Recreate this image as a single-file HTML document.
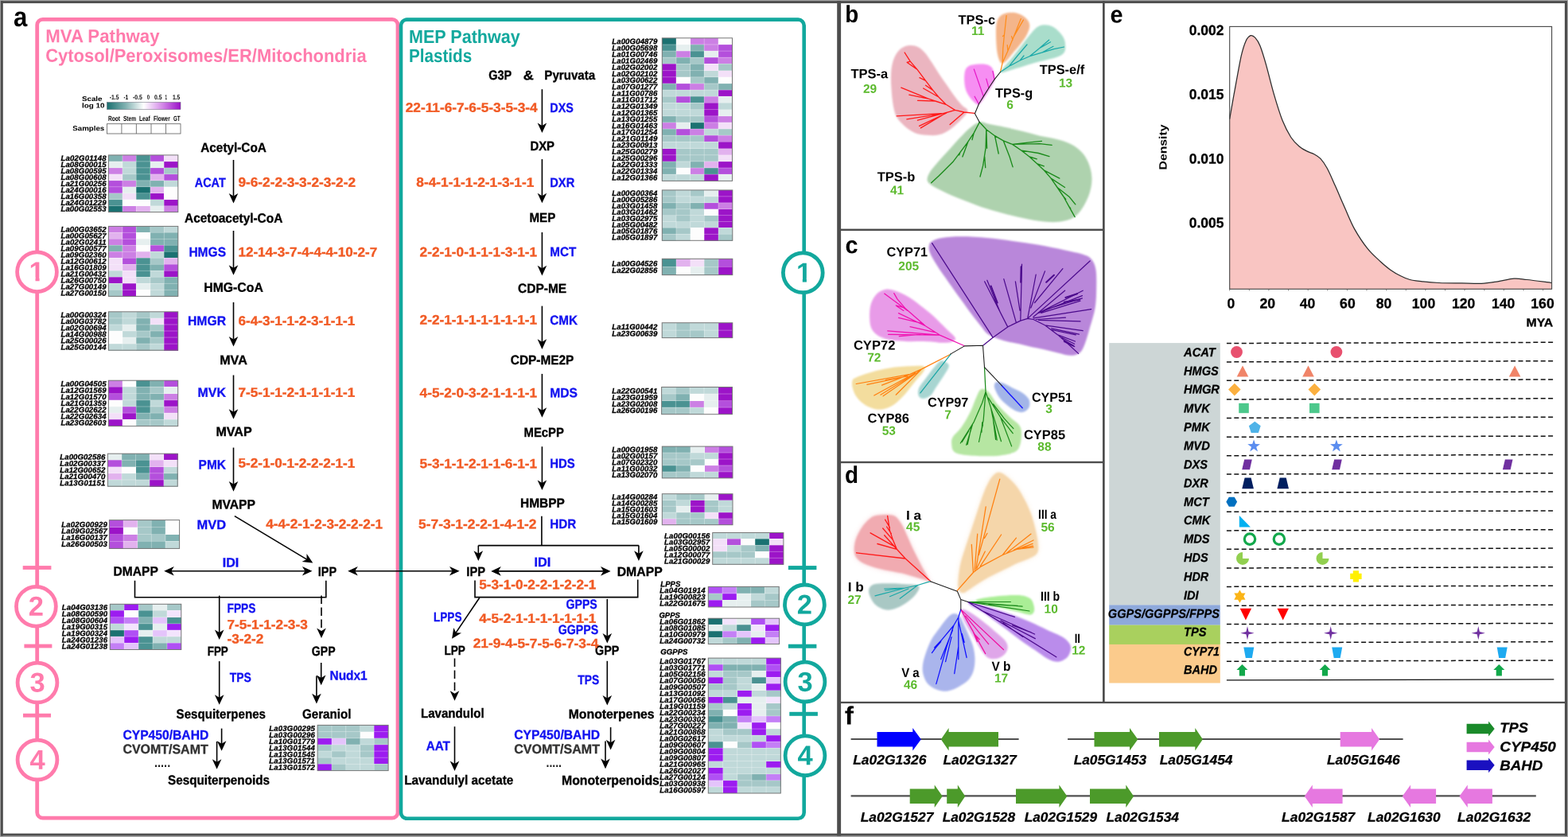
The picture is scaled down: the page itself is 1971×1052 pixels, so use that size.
<!DOCTYPE html>
<html lang="en"><head><meta charset="utf-8"><title>Figure</title>
<style>html,body{margin:0;padding:0;background:#fff}body{width:1971px;height:1052px;overflow:hidden}svg{display:block;font-family:"Liberation Sans",Arial,sans-serif;font-weight:bold}text{white-space:pre}</style></head><body>
<svg width="1971" height="1052" viewBox="0 0 1971 1052">
<rect width="1971" height="1052" fill="#fff"/>
<defs><filter id="bl" x="-10%" y="-10%" width="120%" height="120%"><feGaussianBlur stdDeviation="1.1"/></filter><filter id="bl3" x="-15%" y="-15%" width="130%" height="130%"><feGaussianBlur stdDeviation="3"/></filter></defs>
<text transform="translate(1062.2 28.0) rotate(0.03)" font-size="30" textLength="17.0" lengthAdjust="spacingAndGlyphs">b</text>
<path d="M1144.2 57.1C1147.5 57.0 1151.1 57.7 1154.2 59.2C1157.3 60.8 1159.9 63.2 1162.8 66.4C1165.6 69.6 1168.2 73.9 1171.3 78.5C1174.4 83.1 1178.0 89.2 1181.3 94.2C1184.6 99.2 1188.0 103.7 1191.3 108.4C1194.6 113.2 1198.2 118.7 1201.3 122.7C1204.3 126.7 1207.3 130.1 1209.8 132.7C1212.3 135.3 1215.8 136.2 1216.2 138.4C1216.7 140.5 1215.2 142.4 1212.7 145.5C1210.2 148.6 1205.1 153.6 1201.3 156.9C1197.5 160.3 1193.7 163.3 1189.9 165.5C1186.0 167.6 1182.7 169.0 1178.4 169.8C1174.2 170.5 1168.9 170.2 1164.2 169.8C1159.4 169.3 1154.4 168.8 1149.9 166.9C1145.4 165.0 1140.9 161.7 1137.1 158.4C1133.3 155.0 1129.5 151.2 1127.1 146.9C1124.7 142.7 1123.9 138.2 1122.8 132.7C1121.8 127.2 1121.2 120.6 1120.7 114.1C1120.2 107.7 1119.7 100.1 1120.0 94.2C1120.2 88.2 1120.9 83.0 1122.1 78.5C1123.3 74.0 1125.1 70.2 1127.1 67.1C1129.1 64.0 1131.4 61.6 1134.2 60.0C1137.1 58.3 1140.9 57.2 1144.2 57.1Z" fill="#EBB5C0" filter="url(#bl)"/>
<path d="M1263.9 16.7C1267.2 15.8 1272.2 15.3 1276.0 16.0C1279.8 16.6 1283.9 18.6 1286.7 20.5C1289.5 22.4 1291.9 25.0 1293.1 27.4C1294.3 29.8 1294.6 31.9 1294.0 35.0C1293.4 38.0 1291.7 42.1 1289.7 45.6C1287.8 49.2 1284.9 52.7 1282.1 56.3C1279.3 59.8 1275.8 63.6 1273.0 66.9C1270.2 70.2 1267.6 73.9 1265.4 76.0C1263.2 78.2 1261.6 79.8 1260.1 79.8C1258.6 79.8 1257.4 78.7 1256.3 76.0C1255.1 73.4 1253.9 68.9 1253.2 63.9C1252.5 58.8 1252.1 51.2 1252.0 45.6C1251.9 40.1 1251.8 34.5 1252.5 30.4C1253.2 26.4 1254.4 23.6 1256.3 21.3C1258.2 19.0 1260.6 17.6 1263.9 16.7Z" fill="#F4B58A" filter="url(#bl)"/>
<path d="M1312.5 31.2C1315.8 31.1 1319.9 31.8 1323.2 33.5C1326.5 35.1 1329.8 38.3 1332.3 41.1C1334.8 43.9 1337.0 46.9 1338.1 50.2C1339.2 53.5 1339.4 58.0 1339.2 60.8C1339.0 63.6 1338.5 65.1 1336.9 66.9C1335.2 68.7 1332.8 70.1 1329.3 71.5C1325.7 72.9 1320.4 74.0 1315.6 75.3C1310.8 76.6 1305.4 77.7 1300.4 79.1C1295.3 80.5 1290.2 82.1 1285.2 83.7C1280.1 85.2 1274.3 86.9 1270.0 88.2C1265.7 89.5 1261.3 91.0 1259.3 91.3C1257.3 91.5 1257.0 91.3 1257.8 89.7C1258.6 88.2 1261.3 85.2 1263.9 82.1C1266.4 79.1 1269.7 75.5 1273.0 71.5C1276.3 67.4 1280.1 62.4 1283.7 57.8C1287.2 53.2 1291.0 48.0 1294.3 44.1C1297.6 40.2 1300.4 36.4 1303.4 34.2C1306.5 32.1 1309.3 31.3 1312.5 31.2Z" fill="#A9DDCB" filter="url(#bl)"/>
<path d="M1222.8 81.4C1226.1 80.9 1232.7 80.2 1236.5 80.6C1240.3 81.0 1243.5 81.9 1245.6 83.7C1247.8 85.4 1248.7 88.5 1249.4 91.3C1250.2 94.0 1250.8 97.3 1250.2 100.4C1249.6 103.4 1247.7 106.0 1245.6 109.5C1243.6 113.1 1240.4 118.1 1238.0 121.7C1235.6 125.2 1233.0 129.3 1231.2 130.8C1229.4 132.3 1229.3 132.1 1227.4 130.8C1225.5 129.5 1221.9 126.0 1219.8 123.2C1217.6 120.4 1215.7 117.6 1214.4 114.1C1213.2 110.5 1212.4 106.0 1212.2 101.9C1211.9 97.8 1212.2 92.8 1212.9 89.7C1213.7 86.7 1215.1 85.0 1216.7 83.7C1218.4 82.3 1219.5 81.9 1222.8 81.4Z" fill="#F68EF2" filter="url(#bl)"/>
<path d="M1231.3 153.5C1235.3 152.6 1237.2 154.6 1242.7 155.7C1248.2 156.8 1257.0 158.4 1264.1 160.0C1271.2 161.5 1278.3 163.2 1285.5 165.0C1292.6 166.7 1299.7 169.0 1306.9 170.7C1314.0 172.3 1321.6 173.2 1328.3 174.9C1334.9 176.7 1341.3 178.4 1346.8 181.4C1352.3 184.3 1357.2 188.2 1361.1 192.8C1364.9 197.3 1367.7 203.0 1369.6 208.4C1371.5 213.9 1372.5 219.9 1372.5 225.6C1372.5 231.3 1371.3 237.2 1369.6 242.7C1367.9 248.1 1365.3 253.6 1362.5 258.4C1359.6 263.1 1356.5 268.0 1352.5 271.2C1348.5 274.4 1343.9 276.3 1338.2 277.6C1332.5 278.9 1325.9 279.4 1318.3 279.0C1310.7 278.7 1301.2 277.0 1292.6 275.5C1284.0 273.9 1275.5 271.9 1266.9 269.8C1258.4 267.6 1250.1 265.5 1241.3 262.6C1232.5 259.8 1222.7 256.0 1214.2 252.7C1205.6 249.3 1196.8 245.8 1189.9 242.7C1183.0 239.6 1176.9 236.7 1172.8 234.1C1168.8 231.5 1166.4 229.8 1165.7 227.0C1165.0 224.1 1166.4 220.8 1168.5 217.0C1170.7 213.2 1174.5 208.9 1178.5 204.2C1182.6 199.4 1188.0 193.7 1192.8 188.5C1197.5 183.3 1202.8 177.3 1207.0 172.8C1211.3 168.3 1214.4 164.6 1218.4 161.4C1222.5 158.2 1227.2 154.5 1231.3 153.5Z" fill="#AED2AE" filter="url(#bl)"/>
<path d="M1225.2 142.4L1212.0 141.0L1200.5 138.4L1189.1 131.3L1179.9 122.0L1172.7 113.4L1163.5 101.3L1152.8 87.1L1144.2 77.1L1137.1 66.0M1144.2 77.1L1140.2 78.5L1152.8 87.1M1163.5 101.3L1155.9 97.7M1172.7 113.4L1163.5 107.3M1179.9 122.0L1160.6 111.0M1189.1 131.3L1175.6 127.0L1153.5 126.3M1189.1 131.3L1167.0 124.1L1142.8 119.1M1167.0 124.1L1132.8 110.2M1200.5 138.4L1187.0 142.4L1127.1 145.8M1187.0 142.4L1139.9 149.8M1195.6 139.8L1153.5 151.2M1189.9 142.0L1155.6 158.4M1184.1 144.8L1157.3 160.9M1212.0 141.0L1194.1 156.6" fill="none" stroke="#FF1A1A" stroke-width="1.344" stroke-linejoin="round" stroke-linecap="round"/>
<path d="M1236.2 120.9L1224.3 87.0M1242.9 110.3L1239.8 99.2M1249.9 99.6L1247.9 89.4M1230.4 130.8L1225.1 121.2" fill="none" stroke="#E619C8" stroke-width="1.2320000000000002" stroke-linejoin="round" stroke-linecap="round"/>
<path d="M1257.5 90.5L1260.1 79.1L1260.8 60.8L1262.4 44.1L1265.1 19.5M1260.1 79.1L1266.9 63.9L1274.5 45.6L1283.3 23.6M1274.5 45.6L1286.4 25.1M1262.4 44.1L1260.5 45.6M1266.9 63.9L1266.2 56.6M1273.0 50.2L1271.5 45.6" fill="none" stroke="#FF8C1A" stroke-width="1.2320000000000002" stroke-linejoin="round" stroke-linecap="round"/>
<path d="M1257.5 90.5L1268.4 83.3L1282.1 76.0L1294.3 70.7L1309.5 66.2L1324.7 61.6L1337.6 59.0M1268.4 83.3L1279.1 70.0L1291.0 56.0M1282.1 76.0L1287.0 70.0M1294.3 70.7L1306.5 60.8L1318.6 50.2M1306.5 60.8L1320.6 52.8M1309.5 66.2L1324.0 58.3" fill="none" stroke="#1AA8A8" stroke-width="1.2320000000000002" stroke-linejoin="round" stroke-linecap="round"/>
<path d="M1231.3 153.5L1224.2 167.1L1215.6 179.9L1207.0 191.3L1198.5 202.7L1188.5 212.7L1179.9 221.3L1170.7 229.8M1224.2 167.1L1222.0 175.7M1217.0 177.8L1209.9 197.0M1207.0 191.3L1205.6 194.9M1198.5 202.7L1197.3 204.2M1231.3 153.5L1239.8 162.8L1250.5 170.7L1261.2 176.8L1272.6 181.4L1284.0 189.2L1294.0 197.0L1303.3 205.6L1312.6 214.2L1321.1 224.1L1329.0 235.5L1336.8 247.0L1343.9 259.8L1351.1 272.6M1239.8 162.8L1239.1 185.6L1235.6 208.4L1232.0 222.0M1239.8 162.8L1240.6 186.3M1237.7 197.0L1238.7 210.6M1250.5 170.7L1255.2 193.0M1261.2 176.8L1269.1 197.0L1273.1 209.9M1272.6 181.4L1292.6 179.2L1309.4 177.4M1272.6 181.4L1306.9 180.6L1322.1 182.4M1284.0 189.2L1305.4 192.5L1319.0 196.6M1294.0 197.0L1303.3 199.9M1303.3 205.6L1312.3 208.9M1312.6 214.2L1331.8 224.1M1321.1 224.1L1338.5 235.5M1329.0 235.5L1343.9 247.2L1351.8 256.9M1336.8 247.0L1339.7 250.5M1343.9 259.8L1345.7 261.9" fill="none" stroke="#1A8A1A" stroke-width="1.344" stroke-linejoin="round" stroke-linecap="round"/>
<path d="M1231.2 153.6L1225.4 142.7L1230.4 130.8L1236.5 120.9L1244.1 108.7L1250.2 99.6L1257.5 90.5" fill="none" stroke="#1c1c1c" stroke-width="1.064" stroke-linejoin="round" stroke-linecap="round"/>
<text transform="translate(1204.6 30.4) rotate(0.03)" font-size="16.5" textLength="46.5" lengthAdjust="spacingAndGlyphs">TPS-c</text>
<text transform="translate(1229.1 44.0) rotate(0.03)" font-size="15.5" fill="#5CBA2E" text-anchor="middle">11</text>
<text transform="translate(1069.4 98.2) rotate(0.03)" font-size="16.5" textLength="46.8" lengthAdjust="spacingAndGlyphs">TPS-a</text>
<text transform="translate(1093.6 116.8) rotate(0.03)" font-size="15.5" fill="#5CBA2E" text-anchor="middle">29</text>
<text transform="translate(1306.7 93.1) rotate(0.03)" font-size="16.5" textLength="56.5" lengthAdjust="spacingAndGlyphs">TPS-e/f</text>
<text transform="translate(1339.5 109.4) rotate(0.03)" font-size="15.5" fill="#5CBA2E" text-anchor="middle">13</text>
<text transform="translate(1251.1 122.4) rotate(0.03)" font-size="16.5" textLength="47.0" lengthAdjust="spacingAndGlyphs">TPS-g</text>
<text transform="translate(1269.6 136.7) rotate(0.03)" font-size="15.5" fill="#5CBA2E" text-anchor="middle">6</text>
<text transform="translate(1102.8 227.7) rotate(0.03)" font-size="16.5" textLength="47.6" lengthAdjust="spacingAndGlyphs">TPS-b</text>
<text transform="translate(1127.6 244.3) rotate(0.03)" font-size="15.5" fill="#5CBA2E" text-anchor="middle">41</text>
<text transform="translate(1062.4 318.3) rotate(0.03)" font-size="30" textLength="16.0" lengthAdjust="spacingAndGlyphs">c</text>
<path d="M1172.1 302.9C1174.8 301.4 1178.2 299.8 1184.2 298.9C1190.3 297.9 1199.1 297.3 1208.5 297.3C1217.9 297.3 1230.0 297.9 1240.8 298.9C1251.6 299.8 1262.4 301.4 1273.1 302.9C1283.9 304.4 1294.7 305.9 1305.5 307.8C1316.2 309.7 1328.4 312.2 1337.8 314.2C1347.2 316.3 1356.4 318.0 1362.0 319.9C1367.7 321.8 1369.2 322.5 1371.7 325.6C1374.3 328.7 1376.3 332.3 1377.4 338.5C1378.5 344.7 1378.3 354.7 1378.2 362.7C1378.1 370.8 1377.9 378.9 1376.6 387.0C1375.2 395.1 1372.3 403.7 1370.1 411.2C1368.0 418.8 1365.8 426.8 1363.7 432.2C1361.5 437.6 1360.2 441.1 1357.2 443.5C1354.2 446.0 1350.5 446.8 1345.9 446.8C1341.3 446.8 1335.1 444.8 1329.7 443.5C1324.3 442.3 1318.9 440.7 1313.5 439.5C1308.2 438.3 1302.8 437.5 1297.4 436.3C1292.0 435.1 1286.6 433.4 1281.2 432.2C1275.8 431.0 1270.2 430.3 1265.1 429.0C1259.9 427.7 1254.6 425.8 1250.5 424.2C1246.5 422.5 1243.8 421.7 1240.8 419.3C1237.9 416.9 1236.0 413.6 1232.7 409.6C1229.5 405.6 1225.5 400.4 1221.4 395.1C1217.4 389.7 1213.3 384.0 1208.5 377.3C1203.6 370.5 1197.4 361.9 1192.3 354.7C1187.2 347.4 1181.7 339.8 1177.8 333.6C1173.9 327.4 1170.5 321.8 1168.9 317.5C1167.3 313.2 1167.5 310.2 1168.1 307.8C1168.6 305.4 1169.4 304.4 1172.1 302.9Z" fill="#B987DA" filter="url(#bl)"/>
<path d="M1113.3 363.7C1117.1 363.1 1120.1 363.9 1124.6 365.3C1129.2 366.8 1135.4 369.5 1140.8 372.6C1146.2 375.7 1151.6 379.9 1156.9 383.9C1162.3 388.0 1167.7 392.0 1173.1 396.9C1178.5 401.7 1184.7 408.4 1189.3 413.0C1193.8 417.6 1199.2 421.6 1200.6 424.3C1201.9 427.0 1199.8 428.1 1197.3 429.2C1194.9 430.2 1191.4 430.8 1186.0 430.8C1180.6 430.8 1172.6 429.4 1165.0 429.2C1157.5 428.9 1148.1 429.4 1140.8 429.2C1133.5 428.9 1127.3 428.6 1121.4 427.6C1115.5 426.5 1109.6 425.1 1105.2 422.7C1100.9 420.3 1097.6 417.1 1095.5 413.0C1093.5 409.0 1093.3 403.6 1093.1 398.5C1093.0 393.4 1093.3 387.2 1094.7 382.3C1096.2 377.5 1098.9 372.5 1102.0 369.4C1105.1 366.3 1109.6 364.4 1113.3 363.7Z" fill="#E89BE8" filter="url(#bl)"/>
<path d="M1076.2 474.4C1081.0 472.3 1092.3 468.5 1100.4 466.3C1108.5 464.2 1116.6 462.6 1124.6 461.5C1132.7 460.4 1142.7 460.0 1148.9 459.9C1155.1 459.7 1159.9 459.3 1161.8 460.7C1163.7 462.0 1162.1 464.9 1160.2 468.0C1158.3 471.0 1154.3 474.7 1150.5 479.3C1146.7 483.8 1142.4 490.3 1137.6 495.4C1132.7 500.5 1126.8 506.7 1121.4 510.0C1116.0 513.2 1110.6 514.8 1105.2 514.8C1099.9 514.8 1093.7 512.4 1089.1 510.0C1084.5 507.5 1080.6 503.8 1077.8 500.3C1074.9 496.8 1073.2 492.5 1072.1 489.0C1071.0 485.5 1070.6 481.7 1071.3 479.3C1072.0 476.8 1071.3 476.6 1076.2 474.4Z" fill="#F3DD9E" filter="url(#bl)"/>
<path d="M1182.8 453.4C1185.8 452.3 1189.3 455.3 1190.9 456.6C1192.5 458.0 1193.3 458.8 1192.5 461.5C1191.7 464.2 1188.7 468.5 1186.0 472.8C1183.3 477.1 1179.0 483.3 1176.3 487.3C1173.6 491.4 1172.6 494.7 1169.9 497.0C1167.2 499.3 1162.7 501.1 1160.2 501.1C1157.6 501.1 1155.3 499.3 1154.5 497.0C1153.7 494.7 1153.8 490.8 1155.3 487.3C1156.8 483.8 1160.4 480.1 1163.4 476.0C1166.4 472.0 1169.9 466.9 1173.1 463.1C1176.3 459.3 1179.8 454.5 1182.8 453.4Z" fill="#A8D5D1" filter="url(#bl)"/>
<path d="M1253.2 480.0C1255.0 479.8 1257.5 480.3 1260.9 481.6C1264.2 482.9 1269.1 485.7 1273.2 487.7C1277.3 489.8 1282.2 491.6 1285.5 493.9C1288.8 496.2 1291.8 498.8 1293.2 501.6C1294.6 504.4 1294.7 508.3 1294.0 510.8C1293.2 513.4 1290.7 515.8 1288.6 517.0C1286.4 518.2 1283.9 518.5 1280.9 517.8C1277.8 517.0 1273.9 515.1 1270.1 512.4C1266.2 509.7 1261.0 505.5 1257.8 501.6C1254.6 497.8 1252.1 492.4 1250.8 489.3C1249.6 486.2 1249.7 484.7 1250.1 483.1C1250.5 481.6 1251.4 480.3 1253.2 480.0Z" fill="#A3B5E8" filter="url(#bl)"/>
<path d="M1233.1 489.3C1235.7 488.0 1238.8 489.0 1242.4 492.4C1246.0 495.7 1250.1 503.9 1254.7 509.3C1259.3 514.7 1265.7 520.6 1270.1 524.7C1274.5 528.8 1278.6 530.9 1280.9 533.9C1283.2 537.0 1283.7 539.1 1283.9 543.2C1284.2 547.3 1283.7 554.5 1282.4 558.6C1281.1 562.7 1280.4 565.5 1276.3 567.8C1272.1 570.1 1264.7 571.5 1257.8 572.4C1250.8 573.3 1242.4 573.3 1234.7 573.2C1227.0 573.1 1217.5 572.6 1211.6 571.7C1205.7 570.8 1201.8 570.0 1199.3 567.8C1196.7 565.6 1196.4 561.6 1196.2 558.6C1195.9 555.5 1195.7 552.9 1197.7 549.3C1199.8 545.7 1204.9 542.1 1208.5 537.0C1212.1 531.9 1216.2 524.7 1219.3 518.5C1222.4 512.4 1224.7 504.9 1227.0 500.1C1229.3 495.2 1230.6 490.6 1233.1 489.3Z" fill="#B6E6A2" filter="url(#bl)"/>
<path d="M1236.0 433.9L1248.1 424.2L1266.7 410.9L1282.8 403.1L1291.7 400.4L1299.0 401.5L1313.5 408.8L1329.7 420.9L1342.6 432.2L1355.6 444.4M1248.1 424.2L1171.6 305.7M1266.7 410.9L1237.6 353.8M1257.0 391.8L1240.8 352.2M1277.2 404.8L1261.8 350.6M1282.8 403.1L1284.5 332.0M1282.0 390.2L1276.4 353.8M1291.7 400.4L1302.2 345.0M1295.8 387.0L1313.5 340.9M1300.6 380.5L1335.9 337.7M1291.7 400.4L1370.1 328.0M1299.0 398.3L1338.6 365.2M1305.5 393.4L1361.2 365.2M1305.5 393.4L1360.4 371.6M1308.7 393.4L1358.0 378.1M1299.0 399.9L1371.7 388.6M1302.2 401.5L1339.4 399.1M1305.5 402.3L1358.0 403.9M1313.5 408.8L1361.2 415.7M1321.6 412.8L1356.4 420.1M1329.7 420.9L1351.5 429.0M1337.8 427.4L1350.7 435.5M1321.6 387.0L1360.4 374.9M1321.6 414.5L1352.3 420.9M1334.6 424.2L1350.7 432.2" fill="none" stroke="#4B0A8C" stroke-width="1.2320000000000002" stroke-linejoin="round" stroke-linecap="round"/>
<path d="M1245.7 359.5L1253.7 380.5M1283.6 335.3L1283.2 354.7M1315.2 354.7L1324.9 345.8M1337.8 379.7L1357.2 376.5M1339.4 374.0L1354.0 369.2M1337.8 429.0L1349.1 434.7" fill="none" stroke="#4B0A8C" stroke-width="2.0160000000000005" stroke-linejoin="round" stroke-linecap="round"/>
<path d="M1211.9 434.5L1181.2 421.1L1163.4 409.8L1150.5 398.5L1137.6 387.2L1127.9 375.9L1123.8 368.6M1140.8 390.4L1111.7 369.1M1137.6 387.2L1126.2 383.9M1135.9 390.4L1127.1 384.7M1163.4 409.8L1129.5 393.6M1160.2 406.6L1129.5 399.3M1176.3 417.9L1144.0 410.6M1181.2 421.1L1115.7 415.9M1181.2 421.1L1116.6 420.3M1156.9 420.3L1130.3 422.7" fill="none" stroke="#F010B0" stroke-width="1.2320000000000002" stroke-linejoin="round" stroke-linecap="round"/>
<path d="M1194.9 445.3L1158.6 463.9L1144.0 470.4L1076.2 482.5M1158.6 463.9L1126.2 496.2M1156.9 465.5L1110.1 497.8M1150.5 468.8L1098.8 497.0M1144.0 470.4L1108.5 484.1M1132.7 474.4L1089.9 483.3M1147.3 471.2L1106.9 496.2M1140.8 472.8L1113.3 477.6" fill="none" stroke="#FF7F0E" stroke-width="1.2320000000000002" stroke-linejoin="round" stroke-linecap="round"/>
<path d="M1194.9 445.3L1156.9 493.8" fill="none" stroke="#17A5A5" stroke-width="1.2320000000000002" stroke-linejoin="round" stroke-linecap="round"/>
<path d="M1259.3 484.7L1285.2 512.7" fill="none" stroke="#1010FF" stroke-width="1.344" stroke-linejoin="round" stroke-linecap="round"/>
<path d="M1237.5 461.6L1239.0 492.4L1234.7 506.2L1223.9 530.9L1207.3 557.0M1239.0 492.4L1236.2 527.8L1230.5 555.5M1234.7 530.9L1233.9 543.2M1239.0 492.4L1245.5 512.4L1250.1 535.5L1253.2 553.2M1245.5 512.4L1258.5 554.7M1242.4 500.1L1257.8 524.7L1271.6 560.9M1248.5 507.8L1262.4 526.2L1273.9 538.6M1257.8 524.7L1273.2 544.7M1222.4 533.9L1214.7 559.3M1220.8 537.0L1216.2 558.6M1217.7 541.6L1209.3 555.5M1235.5 533.9L1233.1 543.2M1248.5 527.8L1251.6 552.4" fill="none" stroke="#1A8A1A" stroke-width="1.2320000000000002" stroke-linejoin="round" stroke-linecap="round"/>
<path d="M1194.6 445.1L1212.4 434.9L1235.5 434.3L1237.5 461.6L1259.3 484.7" fill="none" stroke="#1c1c1c" stroke-width="1.064" stroke-linejoin="round" stroke-linecap="round"/>
<text transform="translate(1114.4 322.2) rotate(0.03)" font-size="16.5" textLength="51.6" lengthAdjust="spacingAndGlyphs">CYP71</text>
<text transform="translate(1142.2 339.6) rotate(0.03)" font-size="15.5" fill="#5CBA2E" text-anchor="middle">205</text>
<text transform="translate(1072.9 439.6) rotate(0.03)" font-size="16.5" textLength="52.5" lengthAdjust="spacingAndGlyphs">CYP72</text>
<text transform="translate(1098.8 454.6) rotate(0.03)" font-size="15.5" fill="#5CBA2E" text-anchor="middle">72</text>
<text transform="translate(1090.6 531.3) rotate(0.03)" font-size="16.5" textLength="52.2" lengthAdjust="spacingAndGlyphs">CYP86</text>
<text transform="translate(1117.3 546.4) rotate(0.03)" font-size="15.5" fill="#5CBA2E" text-anchor="middle">53</text>
<text transform="translate(1165.9 511.2) rotate(0.03)" font-size="16.5" textLength="51.5" lengthAdjust="spacingAndGlyphs">CYP97</text>
<text transform="translate(1191.6 526.6) rotate(0.03)" font-size="15.5" fill="#5CBA2E" text-anchor="middle">7</text>
<text transform="translate(1297.0 505.1) rotate(0.03)" font-size="16.5" textLength="50.8" lengthAdjust="spacingAndGlyphs">CYP51</text>
<text transform="translate(1318.6 518.9) rotate(0.03)" font-size="15.5" fill="#5CBA2E" text-anchor="middle">3</text>
<text transform="translate(1287.0 552.0) rotate(0.03)" font-size="16.5" textLength="52.1" lengthAdjust="spacingAndGlyphs">CYP85</text>
<text transform="translate(1312.9 566.4) rotate(0.03)" font-size="15.5" fill="#5CBA2E" text-anchor="middle">88</text>
<text transform="translate(1062.0 607.4) rotate(0.03)" font-size="30" textLength="17.0" lengthAdjust="spacingAndGlyphs">d</text>
<path d="M1102.9 647.8C1107.8 647.0 1117.5 646.2 1122.4 647.8C1127.3 649.3 1129.2 653.0 1132.1 657.1C1135.1 661.3 1137.3 667.2 1139.9 672.7C1142.5 678.3 1144.8 684.1 1147.7 690.3C1150.7 696.5 1154.4 703.9 1157.5 709.8C1160.6 715.6 1164.3 722.0 1166.3 725.4C1168.2 728.8 1170.6 729.9 1169.2 730.3C1167.7 730.6 1162.7 728.8 1157.5 727.3C1152.3 725.9 1144.5 723.1 1138.0 721.5C1131.5 719.9 1125.6 719.2 1118.5 717.6C1111.3 716.0 1101.6 714.0 1095.1 711.7C1088.6 709.5 1083.0 706.9 1079.5 703.9C1076.0 701.0 1074.7 698.4 1074.0 694.2C1073.4 690.0 1074.0 683.8 1075.6 678.6C1077.2 673.4 1080.5 667.4 1083.4 663.0C1086.3 658.6 1089.9 654.8 1093.1 652.3C1096.4 649.7 1098.0 648.5 1102.9 647.8Z" fill="#F1ABB1" opacity=".45" filter="url(#bl3)"/>
<path d="M1102.9 647.8C1107.8 647.0 1117.5 646.2 1122.4 647.8C1127.3 649.3 1129.2 653.0 1132.1 657.1C1135.1 661.3 1137.3 667.2 1139.9 672.7C1142.5 678.3 1144.8 684.1 1147.7 690.3C1150.7 696.5 1154.4 703.9 1157.5 709.8C1160.6 715.6 1164.3 722.0 1166.3 725.4C1168.2 728.8 1170.6 729.9 1169.2 730.3C1167.7 730.6 1162.7 728.8 1157.5 727.3C1152.3 725.9 1144.5 723.1 1138.0 721.5C1131.5 719.9 1125.6 719.2 1118.5 717.6C1111.3 716.0 1101.6 714.0 1095.1 711.7C1088.6 709.5 1083.0 706.9 1079.5 703.9C1076.0 701.0 1074.7 698.4 1074.0 694.2C1073.4 690.0 1074.0 683.8 1075.6 678.6C1077.2 673.4 1080.5 667.4 1083.4 663.0C1086.3 658.6 1089.9 654.8 1093.1 652.3C1096.4 649.7 1098.0 648.5 1102.9 647.8Z" fill="#F1ABB1" filter="url(#bl)"/>
<path d="M1099.0 734.2C1103.4 732.9 1112.0 733.2 1118.5 733.2C1125.0 733.2 1132.5 733.8 1138.0 734.2C1143.5 734.5 1148.7 734.3 1151.6 735.1C1154.6 735.9 1155.9 736.8 1155.5 739.0C1155.2 741.3 1152.6 745.5 1149.7 748.8C1146.8 752.0 1142.2 755.8 1138.0 758.5C1133.8 761.3 1128.6 764.0 1124.3 765.3C1120.1 766.6 1116.5 767.1 1112.6 766.3C1108.7 765.5 1104.0 763.1 1100.9 760.5C1097.9 757.9 1095.6 754.0 1094.1 750.7C1092.7 747.5 1091.4 743.7 1092.2 741.0C1093.0 738.2 1094.6 735.5 1099.0 734.2Z" fill="#A9C8C4" filter="url(#bl)"/>
<path d="M1255.9 593.8C1258.8 593.9 1261.9 596.1 1265.6 599.1C1269.2 602.0 1274.1 606.4 1277.9 611.4C1281.7 616.3 1285.5 623.4 1288.4 628.9C1291.4 634.5 1293.4 639.2 1295.5 644.8C1297.5 650.3 1299.3 656.5 1300.7 662.3C1302.2 668.2 1303.7 674.6 1304.3 679.9C1304.8 685.2 1305.7 690.5 1304.3 694.0C1302.8 697.5 1299.9 698.7 1295.5 701.0C1291.1 703.4 1283.7 705.4 1277.9 708.0C1272.0 710.7 1266.2 713.9 1260.3 716.8C1254.5 719.8 1248.6 722.4 1242.7 725.6C1236.9 728.8 1230.4 732.9 1225.2 736.2C1219.9 739.4 1214.5 744.4 1211.1 745.0C1207.7 745.5 1206.0 742.9 1204.9 739.7C1203.9 736.5 1204.5 730.9 1204.9 725.6C1205.4 720.3 1206.3 713.9 1207.6 708.0C1208.9 702.2 1210.8 696.9 1212.9 690.5C1214.9 684.0 1217.5 676.4 1219.9 669.4C1222.2 662.3 1224.6 655.3 1226.9 648.3C1229.3 641.2 1231.6 633.6 1233.9 627.2C1236.3 620.7 1238.6 614.4 1241.0 609.6C1243.3 604.8 1245.5 600.8 1248.0 598.2C1250.5 595.5 1253.0 593.6 1255.9 593.8Z" fill="#F5D6AA" opacity=".45" filter="url(#bl3)"/>
<path d="M1255.9 593.8C1258.8 593.9 1261.9 596.1 1265.6 599.1C1269.2 602.0 1274.1 606.4 1277.9 611.4C1281.7 616.3 1285.5 623.4 1288.4 628.9C1291.4 634.5 1293.4 639.2 1295.5 644.8C1297.5 650.3 1299.3 656.5 1300.7 662.3C1302.2 668.2 1303.7 674.6 1304.3 679.9C1304.8 685.2 1305.7 690.5 1304.3 694.0C1302.8 697.5 1299.9 698.7 1295.5 701.0C1291.1 703.4 1283.7 705.4 1277.9 708.0C1272.0 710.7 1266.2 713.9 1260.3 716.8C1254.5 719.8 1248.6 722.4 1242.7 725.6C1236.9 728.8 1230.4 732.9 1225.2 736.2C1219.9 739.4 1214.5 744.4 1211.1 745.0C1207.7 745.5 1206.0 742.9 1204.9 739.7C1203.9 736.5 1204.5 730.9 1204.9 725.6C1205.4 720.3 1206.3 713.9 1207.6 708.0C1208.9 702.2 1210.8 696.9 1212.9 690.5C1214.9 684.0 1217.5 676.4 1219.9 669.4C1222.2 662.3 1224.6 655.3 1226.9 648.3C1229.3 641.2 1231.6 633.6 1233.9 627.2C1236.3 620.7 1238.6 614.4 1241.0 609.6C1243.3 604.8 1245.5 600.8 1248.0 598.2C1250.5 595.5 1253.0 593.6 1255.9 593.8Z" fill="#F5D6AA" filter="url(#bl)"/>
<path d="M1216.6 757.3C1217.6 756.8 1222.8 758.1 1228.4 759.5C1234.0 760.8 1243.1 763.1 1250.5 765.4C1257.9 767.6 1265.2 770.0 1272.6 772.7C1280.0 775.4 1287.3 778.4 1294.7 781.6C1302.1 784.8 1309.9 788.7 1316.8 791.9C1323.7 795.1 1331.3 797.8 1335.9 800.7C1340.6 803.7 1343.2 806.6 1344.8 809.6C1346.4 812.5 1346.3 815.5 1345.5 818.4C1344.8 821.3 1342.9 825.0 1340.4 827.2C1337.8 829.4 1333.7 831.4 1330.1 831.7C1326.4 831.9 1322.4 830.7 1318.3 828.7C1314.1 826.7 1310.2 823.3 1305.0 819.9C1299.9 816.4 1293.2 812.3 1287.3 808.1C1281.4 803.9 1275.5 799.2 1269.7 794.8C1263.8 790.4 1257.6 785.7 1252.0 781.6C1246.3 777.4 1240.7 773.0 1235.8 769.8C1230.9 766.6 1225.7 764.5 1222.5 762.4C1219.3 760.3 1215.6 757.7 1216.6 757.3Z" fill="#BA8CEB" filter="url(#bl)"/>
<path d="M1226.9 754.3C1228.2 752.8 1236.7 751.6 1243.1 750.6C1249.5 749.6 1258.4 748.8 1265.2 748.4C1272.1 748.0 1279.5 747.8 1284.4 748.4C1289.3 749.0 1292.2 750.3 1294.7 752.1C1297.2 753.9 1298.3 756.8 1299.1 759.5C1300.0 762.2 1300.6 766.1 1299.9 768.3C1299.1 770.5 1298.0 772.6 1294.7 772.7C1291.4 772.8 1286.1 770.5 1280.0 769.0C1273.8 767.6 1265.2 765.5 1257.9 763.9C1250.5 762.3 1240.9 761.1 1235.8 759.5C1230.6 757.9 1225.7 755.8 1226.9 754.3Z" fill="#AAEE96" filter="url(#bl)"/>
<path d="M1209.2 766.1C1210.7 764.9 1215.4 767.4 1219.6 769.8C1223.7 772.1 1229.1 776.2 1234.3 780.1C1239.4 784.0 1245.8 789.4 1250.5 793.4C1255.2 797.3 1259.6 800.5 1262.3 803.7C1265.0 806.9 1266.5 809.6 1266.7 812.5C1266.9 815.5 1265.7 818.9 1263.8 821.3C1261.8 823.8 1258.4 826.3 1254.9 827.2C1251.5 828.2 1246.6 828.7 1243.1 827.2C1239.7 825.8 1237.2 822.3 1234.3 818.4C1231.3 814.5 1228.4 808.6 1225.5 803.7C1222.5 798.8 1219.1 793.4 1216.6 788.9C1214.2 784.5 1211.9 781.0 1210.7 777.1C1209.5 773.3 1207.8 767.3 1209.2 766.1Z" fill="#DFA6E9" filter="url(#bl)"/>
<path d="M1198.9 771.3C1201.4 771.0 1204.1 771.7 1206.3 774.2C1208.5 776.7 1210.2 781.8 1212.2 786.0C1214.2 790.2 1216.2 794.8 1218.1 799.2C1219.9 803.7 1222.0 807.8 1223.2 812.5C1224.5 817.2 1225.3 822.3 1225.5 827.2C1225.6 832.1 1225.2 837.6 1224.0 842.0C1222.8 846.4 1221.0 850.3 1218.1 853.8C1215.1 857.2 1210.7 860.1 1206.3 862.6C1201.9 865.1 1196.2 867.8 1191.6 868.5C1186.9 869.2 1182.5 868.5 1178.3 867.0C1174.1 865.5 1169.5 862.8 1166.5 859.7C1163.6 856.5 1161.7 851.8 1160.6 847.9C1159.5 843.9 1159.4 840.5 1159.9 836.1C1160.4 831.7 1161.7 826.7 1163.6 821.3C1165.4 815.9 1168.0 809.1 1170.9 803.7C1173.9 798.3 1177.8 793.6 1181.3 788.9C1184.7 784.3 1188.6 778.6 1191.6 775.7C1194.5 772.7 1196.5 771.5 1198.9 771.3Z" fill="#AAB5EC" filter="url(#bl)"/>
<path d="M1169.6 730.6L1138.0 702.0L1127.3 690.3L1122.4 678.6L1118.5 666.9L1115.6 648.4M1138.0 702.0L1076.6 694.8M1127.3 690.3L1102.9 683.5M1125.3 687.4L1094.1 669.8M1127.3 690.3L1111.7 672.7M1122.4 678.6L1109.7 664.0M1120.4 670.8L1114.6 662.0M1118.5 663.0L1112.6 653.2" fill="none" stroke="#FF1A1A" stroke-width="1.344" stroke-linejoin="round" stroke-linecap="round"/>
<path d="M1169.6 730.6L1153.6 735.5L1138.0 739.0L1111.7 740.0M1138.0 739.0L1100.0 748.8M1153.6 735.5L1131.2 752.3M1141.9 740.0L1118.5 749.7M1138.0 739.0L1112.6 742.0" fill="none" stroke="#1AA8A8" stroke-width="1.2320000000000002" stroke-linejoin="round" stroke-linecap="round"/>
<path d="M1203.2 742.3L1223.4 719.5L1233.9 711.6L1260.3 697.5L1277.9 690.5L1299.0 687.8M1223.4 719.5L1221.3 684.3M1225.2 716.8L1228.7 671.1M1226.9 715.1L1239.2 636.9M1230.4 697.5L1256.8 602.2M1232.2 711.6L1258.6 672.0M1260.3 697.5L1277.4 676.1M1265.6 694.9L1296.0 671.1M1274.4 691.3L1299.0 679.0M1277.9 690.5L1298.1 683.4M1284.9 688.7L1298.6 686.1M1227.8 714.2L1238.3 693.1M1237.5 676.4L1241.0 670.3" fill="none" stroke="#FF7F0E" stroke-width="1.2320000000000002" stroke-linejoin="round" stroke-linecap="round"/>
<path d="M1216.6 756.5L1270.4 756.5M1216.6 756.5L1285.1 762.1M1216.6 756.5L1294.0 768.0M1243.1 759.5L1279.2 761.4" fill="none" stroke="#1A8A1A" stroke-width="1.2320000000000002" stroke-linejoin="round" stroke-linecap="round"/>
<path d="M1216.6 756.5L1327.8 825.8M1216.6 756.5L1275.5 775.4M1235.8 768.3L1300.6 797.0M1257.9 780.1L1301.3 802.6M1260.8 783.0L1285.9 800.4M1272.6 786.0L1296.2 794.8" fill="none" stroke="#4B0A8C" stroke-width="1.2320000000000002" stroke-linejoin="round" stroke-linecap="round"/>
<path d="M1207.8 766.1L1261.5 816.5M1207.8 766.1L1238.7 821.6M1213.7 774.2L1242.7 809.6M1222.5 791.9L1228.4 806.6M1225.5 797.8L1231.3 803.7" fill="none" stroke="#F010A0" stroke-width="1.2320000000000002" stroke-linejoin="round" stroke-linecap="round"/>
<path d="M1207.8 766.1L1204.8 775.7L1198.9 786.0L1184.2 803.7L1171.4 820.6M1184.2 803.7L1174.6 814.0M1198.9 786.0L1190.1 812.5L1176.8 859.7M1197.5 791.9L1182.7 828.7M1196.0 800.7L1188.6 831.7M1204.8 775.7L1204.8 812.5L1199.7 846.7M1204.8 812.5L1204.8 828.7M1204.8 780.1L1215.1 826.5M1209.2 796.3L1212.2 807.3M1182.7 806.6L1173.9 816.9" fill="none" stroke="#1010FF" stroke-width="1.2320000000000002" stroke-linejoin="round" stroke-linecap="round"/>
<path d="M1169.5 730.7L1203.4 743.3L1207.8 753.6L1207.8 766.1M1207.8 753.6L1216.6 756.5" fill="none" stroke="#1c1c1c" stroke-width="1.064" stroke-linejoin="round" stroke-linecap="round"/>
<text transform="translate(1139.0 653.3) rotate(0.03)" font-size="16.5" textLength="19.1" lengthAdjust="spacingAndGlyphs">I a</text>
<text transform="translate(1147.7 667.3) rotate(0.03)" font-size="15.5" fill="#5CBA2E" text-anchor="middle">45</text>
<text transform="translate(1065.8 743.3) rotate(0.03)" font-size="16.5" textLength="20.1" lengthAdjust="spacingAndGlyphs">I b</text>
<text transform="translate(1074.0 758.9) rotate(0.03)" font-size="15.5" fill="#5CBA2E" text-anchor="middle">27</text>
<text transform="translate(1305.1 652.2) rotate(0.03)" font-size="16.5" textLength="22.9" lengthAdjust="spacingAndGlyphs">III a</text>
<text transform="translate(1317.1 667.7) rotate(0.03)" font-size="15.5" fill="#5CBA2E" text-anchor="middle">56</text>
<text transform="translate(1308.0 755.2) rotate(0.03)" font-size="16.5" textLength="24.2" lengthAdjust="spacingAndGlyphs">III b</text>
<text transform="translate(1321.2 770.5) rotate(0.03)" font-size="15.5" fill="#5CBA2E" text-anchor="middle">10</text>
<text transform="translate(1350.7 807.7) rotate(0.03)" font-size="16.5" textLength="7.3" lengthAdjust="spacingAndGlyphs">II</text>
<text transform="translate(1355.8 822.5) rotate(0.03)" font-size="15.5" fill="#5CBA2E" text-anchor="middle">12</text>
<text transform="translate(1246.4 843.1) rotate(0.03)" font-size="16.5" textLength="24.0" lengthAdjust="spacingAndGlyphs">V b</text>
<text transform="translate(1258.6 857.4) rotate(0.03)" font-size="15.5" fill="#5CBA2E" text-anchor="middle">17</text>
<text transform="translate(1133.2 851.4) rotate(0.03)" font-size="16.5" textLength="22.5" lengthAdjust="spacingAndGlyphs">V a</text>
<text transform="translate(1144.6 865.8) rotate(0.03)" font-size="15.5" fill="#5CBA2E" text-anchor="middle">46</text>
<text transform="translate(1395.5 28.6) rotate(0.03)" font-size="30" textLength="16.0" lengthAdjust="spacingAndGlyphs">e</text>
<path d="M1545.7 149.6C1546.8 143.2 1550.0 124.4 1552.5 111.2C1554.9 97.9 1558.0 80.2 1560.2 70.3C1562.5 60.4 1564.0 56.2 1565.9 51.9C1567.9 47.6 1570.1 45.5 1572.1 44.7C1574.0 44.0 1575.8 45.3 1577.8 47.4C1579.8 49.6 1581.6 51.8 1583.9 57.6C1586.2 63.4 1588.8 71.9 1591.7 82.1C1594.6 92.4 1598.1 107.3 1601.5 118.9C1604.9 130.5 1608.6 142.7 1612.1 151.6C1615.7 160.5 1619.2 167.0 1622.7 172.5C1626.3 177.9 1629.9 181.3 1633.4 184.3C1636.8 187.3 1640.5 188.9 1643.6 190.4C1646.7 192.0 1649.0 192.2 1651.8 193.7C1654.5 195.2 1657.2 196.5 1659.9 199.4C1662.7 202.4 1665.0 205.6 1668.1 211.3C1671.2 216.9 1674.6 225.0 1678.3 233.3C1682.1 241.7 1686.5 252.4 1690.6 261.5C1694.7 270.7 1698.1 279.6 1702.8 288.1C1707.6 296.6 1713.7 305.8 1719.2 312.6C1724.6 319.4 1730.8 324.5 1735.5 329.0C1740.3 333.4 1743.7 336.3 1747.8 339.2C1751.9 342.1 1756.0 344.5 1760.1 346.5C1764.1 348.6 1767.5 350.2 1772.3 351.5C1777.1 352.7 1782.5 353.2 1788.7 353.9C1794.8 354.6 1800.9 355.2 1809.1 355.5C1817.3 355.9 1828.8 355.8 1837.7 355.9C1846.6 356.1 1854.7 356.7 1862.2 356.4C1869.7 356.0 1875.8 354.9 1882.7 353.9C1889.5 352.9 1897.0 350.6 1903.1 350.2C1909.2 349.8 1911.5 350.6 1919.4 351.5C1927.4 352.3 1945.7 354.9 1950.9 355.5L1950.6 363.3L1545.7 363.3Z" fill="#F9C5C2"/>
<path d="M1545.7 149.6C1546.8 143.2 1550.0 124.4 1552.5 111.2C1554.9 97.9 1558.0 80.2 1560.2 70.3C1562.5 60.4 1564.0 56.2 1565.9 51.9C1567.9 47.6 1570.1 45.5 1572.1 44.7C1574.0 44.0 1575.8 45.3 1577.8 47.4C1579.8 49.6 1581.6 51.8 1583.9 57.6C1586.2 63.4 1588.8 71.9 1591.7 82.1C1594.6 92.4 1598.1 107.3 1601.5 118.9C1604.9 130.5 1608.6 142.7 1612.1 151.6C1615.7 160.5 1619.2 167.0 1622.7 172.5C1626.3 177.9 1629.9 181.3 1633.4 184.3C1636.8 187.3 1640.5 188.9 1643.6 190.4C1646.7 192.0 1649.0 192.2 1651.8 193.7C1654.5 195.2 1657.2 196.5 1659.9 199.4C1662.7 202.4 1665.0 205.6 1668.1 211.3C1671.2 216.9 1674.6 225.0 1678.3 233.3C1682.1 241.7 1686.5 252.4 1690.6 261.5C1694.7 270.7 1698.1 279.6 1702.8 288.1C1707.6 296.6 1713.7 305.8 1719.2 312.6C1724.6 319.4 1730.8 324.5 1735.5 329.0C1740.3 333.4 1743.7 336.3 1747.8 339.2C1751.9 342.1 1756.0 344.5 1760.1 346.5C1764.1 348.6 1767.5 350.2 1772.3 351.5C1777.1 352.7 1782.5 353.2 1788.7 353.9C1794.8 354.6 1800.9 355.2 1809.1 355.5C1817.3 355.9 1828.8 355.8 1837.7 355.9C1846.6 356.1 1854.7 356.7 1862.2 356.4C1869.7 356.0 1875.8 354.9 1882.7 353.9C1889.5 352.9 1897.0 350.6 1903.1 350.2C1909.2 349.8 1911.5 350.6 1919.4 351.5C1927.4 352.3 1945.7 354.9 1950.9 355.5" fill="none" stroke="#2b2b2b" stroke-width="1.25"/>
<path d="M1545.7 363.3v2.2M1570.3 363.3v2.2M1594.9 363.3v2.2M1619.6 363.3v2.2M1644.2 363.3v2.2M1668.8 363.3v2.2M1693.4 363.3v2.2M1718.0 363.3v2.2M1742.7 363.3v2.2M1767.3 363.3v2.2M1791.9 363.3v2.2M1816.5 363.3v2.2M1841.1 363.3v2.2M1865.8 363.3v2.2M1890.4 363.3v2.2M1915.0 363.3v2.2M1939.6 363.3v2.2" stroke="#666" stroke-width=".8" fill="none"/>
<rect x="1545.7" y="33.4" width="404.9" height="329.9" fill="none" stroke="#444" stroke-width="1.1"/>
<text transform="translate(1494.8 44.1) rotate(0.03)" font-size="17.8" textLength="43.6" lengthAdjust="spacingAndGlyphs" stroke="#000" stroke-width=".3">0.002</text>
<text transform="translate(1494.8 124.6) rotate(0.03)" font-size="17.8" textLength="43.6" lengthAdjust="spacingAndGlyphs" stroke="#000" stroke-width=".3">0.015</text>
<text transform="translate(1494.8 205.6) rotate(0.03)" font-size="17.8" textLength="43.6" lengthAdjust="spacingAndGlyphs" stroke="#000" stroke-width=".3">0.010</text>
<text transform="translate(1494.8 286.0) rotate(0.03)" font-size="17.8" textLength="43.6" lengthAdjust="spacingAndGlyphs" stroke="#000" stroke-width=".3">0.005</text>
<text transform="translate(1547.5 387.2) rotate(0.03)" font-size="17.6" text-anchor="middle" stroke="#000" stroke-width=".3">0</text>
<text transform="translate(1593.3 387.2) rotate(0.03)" font-size="17.6" text-anchor="middle" stroke="#000" stroke-width=".3">20</text>
<text transform="translate(1643.6 387.2) rotate(0.03)" font-size="17.6" text-anchor="middle" stroke="#000" stroke-width=".3">40</text>
<text transform="translate(1693.9 387.2) rotate(0.03)" font-size="17.6" text-anchor="middle" stroke="#000" stroke-width=".3">60</text>
<text transform="translate(1739.6 387.2) rotate(0.03)" font-size="17.6" text-anchor="middle" stroke="#000" stroke-width=".3">80</text>
<text transform="translate(1789.5 387.2) rotate(0.03)" font-size="17.6" text-anchor="middle" stroke="#000" stroke-width=".3">100</text>
<text transform="translate(1839.7 387.2) rotate(0.03)" font-size="17.6" text-anchor="middle" stroke="#000" stroke-width=".3">120</text>
<text transform="translate(1889.6 387.2) rotate(0.03)" font-size="17.6" text-anchor="middle" stroke="#000" stroke-width=".3">140</text>
<text transform="translate(1939.0 387.2) rotate(0.03)" font-size="17.6" text-anchor="middle" stroke="#000" stroke-width=".3">160</text>
<text transform="translate(1918.6 410.2) rotate(0.03)" font-size="14.2" textLength="33.7" lengthAdjust="spacingAndGlyphs" stroke="#000" stroke-width=".3">MYA</text>
<text transform="translate(1466.5,213.5) rotate(-90.03)" font-size="13.5" font-weight="bold" textLength="57" lengthAdjust="spacingAndGlyphs">Density</text>
<rect x="1394.2" y="431.1" width="139.6" height="329.5" fill="#CDD6D6" stroke="none" stroke-width="1"/>
<rect x="1394.2" y="760.4" width="139.6" height="25.3" fill="#8EA9DB" stroke="none" stroke-width="1"/>
<rect x="1394.2" y="785.6" width="139.6" height="24.4" fill="#A9D05E" stroke="none" stroke-width="1"/>
<rect x="1394.2" y="809.9" width="139.6" height="48.6" fill="#FBCB8C" stroke="none" stroke-width="1"/>
<line x1="1541.9" y1="431.5" x2="1952.7" y2="430.3" stroke="#111" stroke-width="1.5" stroke-dasharray="6 3.4"/>
<line x1="1541.9" y1="454.9" x2="1952.7" y2="453.7" stroke="#111" stroke-width="1.5" stroke-dasharray="6 3.4"/>
<line x1="1541.9" y1="478.2" x2="1952.7" y2="477.0" stroke="#111" stroke-width="1.5" stroke-dasharray="6 3.4"/>
<line x1="1541.9" y1="502.0" x2="1952.7" y2="500.8" stroke="#111" stroke-width="1.5" stroke-dasharray="6 3.4"/>
<line x1="1541.9" y1="525.4" x2="1952.7" y2="524.2" stroke="#111" stroke-width="1.5" stroke-dasharray="6 3.4"/>
<line x1="1541.9" y1="549.3" x2="1952.7" y2="548.1" stroke="#111" stroke-width="1.5" stroke-dasharray="6 3.4"/>
<line x1="1541.9" y1="572.6999999999999" x2="1952.7" y2="571.5" stroke="#111" stroke-width="1.5" stroke-dasharray="6 3.4"/>
<line x1="1541.9" y1="596.0" x2="1952.7" y2="594.8000000000001" stroke="#111" stroke-width="1.5" stroke-dasharray="6 3.4"/>
<line x1="1541.9" y1="619.1999999999999" x2="1952.7" y2="618.0" stroke="#111" stroke-width="1.5" stroke-dasharray="6 3.4"/>
<line x1="1541.9" y1="643.1999999999999" x2="1952.7" y2="642.0" stroke="#111" stroke-width="1.5" stroke-dasharray="6 3.4"/>
<line x1="1541.9" y1="666.9" x2="1952.7" y2="665.7" stroke="#111" stroke-width="1.5" stroke-dasharray="6 3.4"/>
<line x1="1541.9" y1="690.3" x2="1952.7" y2="689.1" stroke="#111" stroke-width="1.5" stroke-dasharray="6 3.4"/>
<line x1="1541.9" y1="714.0" x2="1952.7" y2="712.8000000000001" stroke="#111" stroke-width="1.5" stroke-dasharray="6 3.4"/>
<line x1="1541.9" y1="737.4" x2="1952.7" y2="736.2" stroke="#111" stroke-width="1.5" stroke-dasharray="6 3.4"/>
<line x1="1541.9" y1="761.4" x2="1952.7" y2="760.2" stroke="#111" stroke-width="1.5" stroke-dasharray="6 3.4"/>
<line x1="1541.9" y1="784.6" x2="1952.7" y2="783.4000000000001" stroke="#111" stroke-width="1.5" stroke-dasharray="6 3.4"/>
<line x1="1541.9" y1="807.8" x2="1952.7" y2="806.6" stroke="#111" stroke-width="1.5" stroke-dasharray="6 3.4"/>
<line x1="1541.9" y1="831.1999999999999" x2="1952.7" y2="830.0" stroke="#111" stroke-width="1.5" stroke-dasharray="6 3.4"/>
<line x1="1541.9" y1="854.9" x2="1953.3" y2="853.9" stroke="#111" stroke-width="1.3"/>
<text transform="translate(1488.0 448.1) rotate(0.03)" font-size="15.5" font-style="italic" textLength="39.8" lengthAdjust="spacingAndGlyphs" stroke="#000" stroke-width=".25">ACAT</text>
<text transform="translate(1488.0 471.5) rotate(0.03)" font-size="15.5" font-style="italic" textLength="43.7" lengthAdjust="spacingAndGlyphs" stroke="#000" stroke-width=".25">HMGS</text>
<text transform="translate(1488.0 494.6) rotate(0.03)" font-size="15.5" font-style="italic" textLength="45.0" lengthAdjust="spacingAndGlyphs" stroke="#000" stroke-width=".25">HMGR</text>
<text transform="translate(1488.0 518.6) rotate(0.03)" font-size="15.5" font-style="italic" textLength="32.8" lengthAdjust="spacingAndGlyphs" stroke="#000" stroke-width=".25">MVK</text>
<text transform="translate(1488.0 541.9) rotate(0.03)" font-size="15.5" font-style="italic" textLength="32.8" lengthAdjust="spacingAndGlyphs" stroke="#000" stroke-width=".25">PMK</text>
<text transform="translate(1488.0 565.6) rotate(0.03)" font-size="15.5" font-style="italic" textLength="32.8" lengthAdjust="spacingAndGlyphs" stroke="#000" stroke-width=".25">MVD</text>
<text transform="translate(1488.0 589.0) rotate(0.03)" font-size="15.5" font-style="italic" textLength="30.0" lengthAdjust="spacingAndGlyphs" stroke="#000" stroke-width=".25">DXS</text>
<text transform="translate(1488.0 612.4) rotate(0.03)" font-size="15.5" font-style="italic" textLength="30.6" lengthAdjust="spacingAndGlyphs" stroke="#000" stroke-width=".25">DXR</text>
<text transform="translate(1488.0 636.1) rotate(0.03)" font-size="15.5" font-style="italic" textLength="31.8" lengthAdjust="spacingAndGlyphs" stroke="#000" stroke-width=".25">MCT</text>
<text transform="translate(1488.0 659.1) rotate(0.03)" font-size="15.5" font-style="italic" textLength="33.5" lengthAdjust="spacingAndGlyphs" stroke="#000" stroke-width=".25">CMK</text>
<text transform="translate(1488.0 682.6) rotate(0.03)" font-size="15.5" font-style="italic" textLength="32.5" lengthAdjust="spacingAndGlyphs" stroke="#000" stroke-width=".25">MDS</text>
<text transform="translate(1488.0 706.0) rotate(0.03)" font-size="15.5" font-style="italic" textLength="30.6" lengthAdjust="spacingAndGlyphs" stroke="#000" stroke-width=".25">HDS</text>
<text transform="translate(1488.0 729.6) rotate(0.03)" font-size="15.5" font-style="italic" textLength="31.2" lengthAdjust="spacingAndGlyphs" stroke="#000" stroke-width=".25">HDR</text>
<text transform="translate(1488.0 753.6) rotate(0.03)" font-size="15.5" font-style="italic" textLength="18.6" lengthAdjust="spacingAndGlyphs" stroke="#000" stroke-width=".25">IDI</text>
<text transform="translate(1488.0 799.6) rotate(0.03)" font-size="15.5" font-style="italic" textLength="28.5" lengthAdjust="spacingAndGlyphs" stroke="#000" stroke-width=".25">TPS</text>
<text transform="translate(1488.0 823.5) rotate(0.03)" font-size="15.5" font-style="italic" textLength="45.0" lengthAdjust="spacingAndGlyphs" stroke="#000" stroke-width=".25">CYP71</text>
<text transform="translate(1488.0 846.9) rotate(0.03)" font-size="15.5" font-style="italic" textLength="42.0" lengthAdjust="spacingAndGlyphs" stroke="#000" stroke-width=".25">BAHD</text>
<text transform="translate(1392.8 776.4) rotate(0.03)" font-size="15.5" font-style="italic" textLength="140.2" lengthAdjust="spacingAndGlyphs" stroke="#000" stroke-width=".2">GGPS/GGPPS/FPPS</text>
<circle cx="1554.5" cy="442.5" r="7.4" fill="#E8506E"/>
<circle cx="1679.9" cy="442.5" r="7.4" fill="#E8506E"/>
<polygon points="1562.0,459.4 1569.3,473.4 1554.7,473.4" fill="#F08468"/>
<polygon points="1644.5,459.4 1651.8,473.4 1637.2,473.4" fill="#F08468"/>
<polygon points="1904.1,459.4 1911.4,473.4 1896.8,473.4" fill="#F08468"/>
<polygon points="1551.8,481.8 1559.6,489.6 1551.8,497.4 1544.0,489.6" fill="#FBB040"/>
<polygon points="1652.3,481.8 1660.1,489.6 1652.3,497.4 1644.5,489.6" fill="#FBB040"/>
<rect x="1557.2" y="506.8" width="12.6" height="12.4" fill="#4DC88C" stroke="none" stroke-width="1"/>
<rect x="1646.0" y="506.8" width="12.6" height="12.4" fill="#4DC88C" stroke="none" stroke-width="1"/>
<polygon points="1577.3,529.8 1584.7,535.2 1581.9,543.9 1572.7,543.9 1569.9,535.2" fill="#4FB3E8"/>
<polygon points="1576.1,552.5 1578.0,558.1 1584.0,558.2 1579.2,561.8 1581.0,567.5 1576.1,564.1 1571.2,567.5 1573.0,561.8 1568.2,558.2 1574.2,558.1" fill="#5B8DEF"/>
<polygon points="1679.9,552.5 1681.8,558.1 1687.8,558.2 1683.0,561.8 1684.8,567.5 1679.9,564.1 1675.0,567.5 1676.8,561.8 1672.0,558.2 1678.0,558.1" fill="#5B8DEF"/>
<polygon points="1564.2,577.4 1573.8,577.4 1571.0,590.2 1561.2,590.2" fill="#7030A0"/>
<polygon points="1677.2,577.4 1686.8,577.4 1684.0,590.2 1674.2,590.2" fill="#7030A0"/>
<polygon points="1891.9,577.4 1901.5,577.4 1898.7,590.2 1888.9,590.2" fill="#7030A0"/>
<polygon points="1564.6,600.5 1572.6,600.5 1575.9,614.3 1561.3,614.3" fill="#001F60"/>
<polygon points="1608.7,600.5 1616.7,600.5 1620.0,614.3 1605.4,614.3" fill="#001F60"/>
<polygon points="1555.1,630.8 1551.7,636.8 1544.8,636.8 1541.3,630.8 1544.8,624.8 1551.7,624.8" fill="#0070C0"/>
<polygon points="1557.8,647.9 1571.9,662.6 1557.8,662.6" fill="#00B0F0"/>
<circle cx="1571" cy="677.6" r="6.7" fill="none" stroke="#12A84B" stroke-width="3.2"/>
<circle cx="1607.9" cy="677.6" r="6.7" fill="none" stroke="#12A84B" stroke-width="3.2"/>
<path d="M1562 701.9L1562 693.9A8 8 0 1 0 1570 701.9Z" fill="#92D050"/>
<path d="M1662.5 701.9L1662.5 693.9A8 8 0 1 0 1670.5 701.9Z" fill="#92D050"/>
<path d="M1700.8000000000002 717.1999999999999h7.2v3.6h3.6v7.2h-3.6v3.6h-7.2v-3.6h-3.6v-7.2h3.6z" fill="#FFF000"/>
<polygon points="1558.4,741.4 1560.8,745.4 1565.5,745.5 1563.2,749.6 1565.5,753.7 1560.8,753.8 1558.4,757.8 1556.0,753.8 1551.3,753.7 1553.6,749.6 1551.3,745.5 1556.0,745.4" fill="#FBB416"/>
<polygon points="1558.7,764.8 1573.1,764.8 1565.9,779.6" fill="#FF0000"/>
<polygon points="1605.5,764.8 1619.9,764.8 1612.7,779.6" fill="#FF0000"/>
<polygon points="1568.0,787.1 1569.6,794.1 1576.6,795.7 1569.6,797.3 1568.0,804.3 1566.4,797.3 1559.4,795.7 1566.4,794.1" fill="#7030A0"/>
<polygon points="1672.7,787.1 1674.3,794.1 1681.3,795.7 1674.3,797.3 1672.7,804.3 1671.1,797.3 1664.1,795.7 1671.1,794.1" fill="#7030A0"/>
<polygon points="1858.3,787.1 1859.9,794.1 1866.9,795.7 1859.9,797.3 1858.3,804.3 1856.7,797.3 1849.7,795.7 1856.7,794.1" fill="#7030A0"/>
<polygon points="1563.3,813.4 1576.3,813.4 1573.8,827.0 1565.8,827.0" fill="#1EAAF0"/>
<polygon points="1674.2,813.4 1687.2,813.4 1684.7,827.0 1676.7,827.0" fill="#1EAAF0"/>
<polygon points="1881.7,813.4 1894.7,813.4 1892.2,827.0 1884.2,827.0" fill="#1EAAF0"/>
<polygon points="1561.4,835.0 1568.4,842.0 1565.0,842.0 1565.0,849.5 1557.8,849.5 1557.8,842.0 1554.4,842.0" fill="#12A84B"/>
<polygon points="1665.5,835.0 1672.5,842.0 1669.1,842.0 1669.1,849.5 1661.9,849.5 1661.9,842.0 1658.5,842.0" fill="#12A84B"/>
<polygon points="1884.3,835.0 1891.3,842.0 1887.9,842.0 1887.9,849.5 1880.7,849.5 1880.7,842.0 1877.3,842.0" fill="#12A84B"/>
<text transform="translate(1061.8 910.4) rotate(0.03)" font-size="32" textLength="11.2" lengthAdjust="spacingAndGlyphs">f</text>
<line x1="1069.6" y1="929.0" x2="1280.6" y2="929.0" stroke="#505050" stroke-width="2.2"/>
<line x1="1342.1" y1="929.0" x2="1763.6" y2="929.0" stroke="#505050" stroke-width="2.2"/>
<line x1="1069.6" y1="1000.4" x2="1930.8" y2="1000.4" stroke="#505050" stroke-width="2.2"/>
<polygon points="1102.5,920.0 1147.3,920.0 1147.3,915.0 1157.8,929.2 1147.3,943.4 1147.3,938.4 1102.5,938.4" fill="#0000FF"/>
<polygon points="1255.0,920.0 1192.6,920.0 1192.6,915.0 1182.8,929.2 1192.6,943.4 1192.6,938.4 1255.0,938.4" fill="#4C9A2A"/>
<polygon points="1375.5,920.0 1420.0,920.0 1420.0,915.0 1430.3,929.2 1420.0,943.4 1420.0,938.4 1375.5,938.4" fill="#4C9A2A"/>
<polygon points="1457.0,920.0 1502.3,920.0 1502.3,915.0 1511.9,929.2 1502.3,943.4 1502.3,938.4 1457.0,938.4" fill="#4C9A2A"/>
<polygon points="1684.7,920.0 1724.1,920.0 1724.1,915.0 1734.2,929.2 1724.1,943.4 1724.1,938.4 1684.7,938.4" fill="#E678E0"/>
<polygon points="1143.7,991.6 1174.7,991.6 1174.7,986.6 1184.7,1000.8 1174.7,1015.0 1174.7,1010.0 1143.7,1010.0" fill="#4C9A2A"/>
<polygon points="1190.2,991.6 1203.8,991.6 1203.8,986.6 1213.3,1000.8 1203.8,1015.0 1203.8,1010.0 1190.2,1010.0" fill="#4C9A2A"/>
<polygon points="1277.0,991.6 1331.4,991.6 1331.4,986.6 1341.4,1000.8 1331.4,1015.0 1331.4,1010.0 1277.0,1010.0" fill="#4C9A2A"/>
<polygon points="1370.0,991.6 1415.3,991.6 1415.3,986.6 1425.1,1000.8 1415.3,1015.0 1415.3,1010.0 1370.0,1010.0" fill="#4C9A2A"/>
<polygon points="1687.6,991.6 1649.8,991.6 1649.8,986.6 1639.8,1000.8 1649.8,1015.0 1649.8,1010.0 1687.6,1010.0" fill="#E678E0"/>
<polygon points="1805.1,991.6 1773.1,991.6 1773.1,986.6 1762.8,1000.8 1773.1,1015.0 1773.1,1010.0 1805.1,1010.0" fill="#E678E0"/>
<polygon points="1875.9,991.6 1844.8,991.6 1844.8,986.6 1834.5,1000.8 1844.8,1015.0 1844.8,1010.0 1875.9,1010.0" fill="#E678E0"/>
<text transform="translate(1072.2 960.7) rotate(0.03)" font-size="17" font-style="italic" textLength="92.2" lengthAdjust="spacingAndGlyphs" stroke="#000" stroke-width=".25">La02G1326</text>
<text transform="translate(1185.4 960.7) rotate(0.03)" font-size="17" font-style="italic" textLength="92.3" lengthAdjust="spacingAndGlyphs" stroke="#000" stroke-width=".25">La02G1327</text>
<text transform="translate(1349.7 960.7) rotate(0.03)" font-size="17" font-style="italic" textLength="91.3" lengthAdjust="spacingAndGlyphs" stroke="#000" stroke-width=".25">La05G1453</text>
<text transform="translate(1457.7 960.7) rotate(0.03)" font-size="17" font-style="italic" textLength="91.8" lengthAdjust="spacingAndGlyphs" stroke="#000" stroke-width=".25">La05G1454</text>
<text transform="translate(1668.0 960.7) rotate(0.03)" font-size="17" font-style="italic" textLength="91.7" lengthAdjust="spacingAndGlyphs" stroke="#000" stroke-width=".25">La05G1646</text>
<text transform="translate(1081.7 1032.7) rotate(0.03)" font-size="17" font-style="italic" textLength="91.6" lengthAdjust="spacingAndGlyphs" stroke="#000" stroke-width=".25">La02G1527</text>
<text transform="translate(1184.7 1032.7) rotate(0.03)" font-size="17" font-style="italic" textLength="91.3" lengthAdjust="spacingAndGlyphs" stroke="#000" stroke-width=".25">La02G1528</text>
<text transform="translate(1287.7 1032.7) rotate(0.03)" font-size="17" font-style="italic" textLength="91.3" lengthAdjust="spacingAndGlyphs" stroke="#000" stroke-width=".25">La02G1529</text>
<text transform="translate(1390.5 1032.7) rotate(0.03)" font-size="17" font-style="italic" textLength="91.5" lengthAdjust="spacingAndGlyphs" stroke="#000" stroke-width=".25">La02G1534</text>
<text transform="translate(1611.1 1032.7) rotate(0.03)" font-size="17" font-style="italic" textLength="92.0" lengthAdjust="spacingAndGlyphs" stroke="#000" stroke-width=".25">La02G1587</text>
<text transform="translate(1719.1 1032.7) rotate(0.03)" font-size="17" font-style="italic" textLength="91.5" lengthAdjust="spacingAndGlyphs" stroke="#000" stroke-width=".25">La02G1630</text>
<text transform="translate(1832.1 1032.7) rotate(0.03)" font-size="17" font-style="italic" textLength="92.0" lengthAdjust="spacingAndGlyphs" stroke="#000" stroke-width=".25">La02G1632</text>
<polygon points="1843.6,909.8 1871.1,909.8 1871.1,906.6 1878.7,916.0 1871.1,925.4 1871.1,922.2 1843.6,922.2" fill="#1A8A2A"/>
<text transform="translate(1885.2 920.6) rotate(0.03)" font-size="17.5" font-style="italic" textLength="35.8" lengthAdjust="spacingAndGlyphs" stroke="#000" stroke-width=".25">TPS</text>
<polygon points="1843.6,932.8 1871.1,932.8 1871.1,929.6 1878.7,939.0 1871.1,948.4 1871.1,945.2 1843.6,945.2" fill="#E678E0"/>
<text transform="translate(1885.2 944.5) rotate(0.03)" font-size="17.5" font-style="italic" textLength="70.7" lengthAdjust="spacingAndGlyphs" stroke="#000" stroke-width=".25">CYP450</text>
<polygon points="1843.6,955.6 1871.1,955.6 1871.1,952.4 1878.7,961.8 1871.1,971.2 1871.1,968.0 1843.6,968.0" fill="#1A10C0"/>
<text transform="translate(1885.2 967.9) rotate(0.03)" font-size="17.5" font-style="italic" textLength="54.0" lengthAdjust="spacingAndGlyphs" stroke="#000" stroke-width=".25">BAHD</text>
<rect x="46.7" y="24.3" width="453.3" height="1003.9" rx="7" ry="7" fill="none" stroke="#FF7BAC" stroke-width="4.8"/>
<rect x="504" y="24.6" width="506.7" height="1004.1" rx="7.4" ry="7.4" fill="none" stroke="#12A89D" stroke-width="4.6"/>
<rect x="28.7" y="711.1" width="35.7" height="4.8" fill="#FF7BAC"/>
<rect x="30.4" y="809.6" width="35.00000000000001" height="4.8" fill="#FF7BAC"/>
<rect x="29" y="896.8000000000001" width="35" height="4.8" fill="#FF7BAC"/>
<rect x="990.9" y="711.1" width="35.500000000000114" height="5" fill="#12A89D"/>
<rect x="990.9" y="809.7" width="35.500000000000114" height="5" fill="#12A89D"/>
<rect x="992.3" y="894.8" width="35.600000000000136" height="5" fill="#12A89D"/>
<circle cx="46.5" cy="341.7" r="24.9" fill="#fff" stroke="#FF7BAC" stroke-width="4.8"/>
<text transform="translate(46.2 353.3) rotate(0.03)" font-size="34.5" fill="#FF7BAC" text-anchor="middle">1</text>
<rect x="37.6" y="348.7" width="6.9" height="5.9" fill="#fff" stroke="none" stroke-width="1"/>
<rect x="49.6" y="348.7" width="6.4" height="5.9" fill="#fff" stroke="none" stroke-width="1"/>
<circle cx="45.4" cy="762.2" r="24.9" fill="#fff" stroke="#FF7BAC" stroke-width="4.8"/>
<text transform="translate(45.4 773.8) rotate(0.03)" font-size="34.5" fill="#FF7BAC" text-anchor="middle">2</text>
<circle cx="47" cy="858" r="24.9" fill="#fff" stroke="#FF7BAC" stroke-width="4.8"/>
<text transform="translate(47.0 869.6) rotate(0.03)" font-size="34.5" fill="#FF7BAC" text-anchor="middle">3</text>
<circle cx="47" cy="955.1" r="24.9" fill="#fff" stroke="#FF7BAC" stroke-width="4.8"/>
<text transform="translate(47.0 966.7) rotate(0.03)" font-size="34.5" fill="#FF7BAC" text-anchor="middle">4</text>
<circle cx="1009.3" cy="342.8" r="24.9" fill="#fff" stroke="#12A89D" stroke-width="4.8"/>
<text transform="translate(1010.5 354.4) rotate(0.03)" font-size="34.5" fill="#12A89D" text-anchor="middle">1</text>
<rect x="1001.9" y="349.8" width="6.9" height="5.9" fill="#fff" stroke="none" stroke-width="1"/>
<rect x="1013.9" y="349.8" width="6.4" height="5.9" fill="#fff" stroke="none" stroke-width="1"/>
<circle cx="1011.4" cy="759.9" r="24.9" fill="#fff" stroke="#12A89D" stroke-width="4.8"/>
<text transform="translate(1011.4 771.5) rotate(0.03)" font-size="34.5" fill="#12A89D" text-anchor="middle">2</text>
<circle cx="1012" cy="857.1" r="24.9" fill="#fff" stroke="#12A89D" stroke-width="4.8"/>
<text transform="translate(1012.0 868.7) rotate(0.03)" font-size="34.5" fill="#12A89D" text-anchor="middle">3</text>
<circle cx="1012" cy="949.7" r="24.9" fill="#fff" stroke="#12A89D" stroke-width="4.8"/>
<text transform="translate(1012.0 961.3) rotate(0.03)" font-size="34.5" fill="#12A89D" text-anchor="middle">4</text>
<text transform="translate(16.9 33.3) rotate(0.03)" font-size="34.6" textLength="17.3" lengthAdjust="spacingAndGlyphs">a</text>
<text transform="translate(57.2 53.2) rotate(0.03)" font-size="23.4" fill="#FF7BAC" textLength="143.3" lengthAdjust="spacingAndGlyphs">MVA Pathway</text>
<text transform="translate(57.2 77.7) rotate(0.03)" font-size="23.4" fill="#FF7BAC" textLength="403.4" lengthAdjust="spacingAndGlyphs">Cytosol/Peroxisomes/ER/Mitochondria</text>
<text transform="translate(514.0 53.5) rotate(0.03)" font-size="23.4" fill="#12A89D" textLength="139.7" lengthAdjust="spacingAndGlyphs">MEP Pathway</text>
<text transform="translate(514.0 78.0) rotate(0.03)" font-size="23.4" fill="#12A89D" textLength="79.2" lengthAdjust="spacingAndGlyphs">Plastids</text>
<defs><linearGradient id="sg" x1="0" x2="1" y1="0" y2="0"><stop offset="0" stop-color="#1b6f6f"/><stop offset=".25" stop-color="#7fb0b0"/><stop offset=".5" stop-color="#ffffff"/><stop offset=".75" stop-color="#d48be8"/><stop offset="1" stop-color="#9a10c8"/></linearGradient></defs>
<rect x="134.4" y="128.5" width="92.6" height="9.1" fill="url(#sg)" stroke="#667" stroke-width="0.5"/>
<text transform="translate(103.0 127.0) rotate(0.03)" font-size="8.6" textLength="25.5" lengthAdjust="spacingAndGlyphs">Scale</text>
<text transform="translate(103.0 135.6) rotate(0.03)" font-size="8.6" textLength="28.5" lengthAdjust="spacingAndGlyphs">log 10</text>
<text transform="translate(137.8 125.2) rotate(0.03)" font-size="8.4" textLength="11.7" lengthAdjust="spacingAndGlyphs">-1.5</text>
<text transform="translate(155.4 125.2) rotate(0.03)" font-size="8.4" textLength="5.9" lengthAdjust="spacingAndGlyphs">-1</text>
<text transform="translate(167.0 125.2) rotate(0.03)" font-size="8.4" textLength="11.8" lengthAdjust="spacingAndGlyphs">-0.5</text>
<text transform="translate(184.7 125.2) rotate(0.03)" font-size="8.4" textLength="3.3" lengthAdjust="spacingAndGlyphs">0</text>
<text transform="translate(194.0 125.2) rotate(0.03)" font-size="8.4" textLength="9.6" lengthAdjust="spacingAndGlyphs">0.5</text>
<text transform="translate(207.5 125.2) rotate(0.03)" font-size="8.4" textLength="2.5" lengthAdjust="spacingAndGlyphs">1</text>
<text transform="translate(216.9 125.2) rotate(0.03)" font-size="8.4" textLength="9.3" lengthAdjust="spacingAndGlyphs">1.5</text>
<text transform="translate(136.0 151.7) rotate(0.03)" font-size="9" textLength="15.0" lengthAdjust="spacingAndGlyphs">Root</text>
<text transform="translate(155.0 151.7) rotate(0.03)" font-size="9" textLength="16.0" lengthAdjust="spacingAndGlyphs">Stem</text>
<text transform="translate(175.0 151.7) rotate(0.03)" font-size="9" textLength="13.7" lengthAdjust="spacingAndGlyphs">Leaf</text>
<text transform="translate(193.0 151.7) rotate(0.03)" font-size="9" textLength="20.7" lengthAdjust="spacingAndGlyphs">Flower</text>
<text transform="translate(218.0 151.7) rotate(0.03)" font-size="9" textLength="8.7" lengthAdjust="spacingAndGlyphs">GT</text>
<text transform="translate(91.3 164.2) rotate(0.03)" font-size="8.8" textLength="39.9" lengthAdjust="spacingAndGlyphs">Samples</text>
<rect x="134.4" y="155.7" width="92.6" height="12.3" fill="#fff" stroke="#5a5a5a" stroke-width="0.8"/>
<line x1="152.9" y1="155.7" x2="152.9" y2="168.0" stroke="#5a5a5a" stroke-width="0.8"/>
<line x1="171.4" y1="155.7" x2="171.4" y2="168.0" stroke="#5a5a5a" stroke-width="0.8"/>
<line x1="190.0" y1="155.7" x2="190.0" y2="168.0" stroke="#5a5a5a" stroke-width="0.8"/>
<line x1="208.5" y1="155.7" x2="208.5" y2="168.0" stroke="#5a5a5a" stroke-width="0.8"/>
<text transform="translate(252.3 191.4) rotate(0.03)" font-size="16.5" textLength="82.5" lengthAdjust="spacingAndGlyphs" stroke="#000" stroke-width=".35">Acetyl-CoA</text>
<text transform="translate(232.0 279.6) rotate(0.03)" font-size="16.5" textLength="123.3" lengthAdjust="spacingAndGlyphs" stroke="#000" stroke-width=".35">Acetoacetyl-CoA</text>
<text transform="translate(256.3 366.7) rotate(0.03)" font-size="16.5" textLength="74.5" lengthAdjust="spacingAndGlyphs" stroke="#000" stroke-width=".35">HMG-CoA</text>
<text transform="translate(276.2 458.0) rotate(0.03)" font-size="16.5" textLength="34.6" lengthAdjust="spacingAndGlyphs" stroke="#000" stroke-width=".35">MVA</text>
<text transform="translate(271.4 548.0) rotate(0.03)" font-size="16.5" textLength="45.3" lengthAdjust="spacingAndGlyphs" stroke="#000" stroke-width=".35">MVAP</text>
<text transform="translate(266.4 639.4) rotate(0.03)" font-size="16.5" textLength="54.6" lengthAdjust="spacingAndGlyphs" stroke="#000" stroke-width=".35">MVAPP</text>
<text transform="translate(142.6 723.5) rotate(0.03)" font-size="16.5" textLength="56.2" lengthAdjust="spacingAndGlyphs" stroke="#000" stroke-width=".35">DMAPP</text>
<text transform="translate(399.7 723.5) rotate(0.03)" font-size="16.5" textLength="23.4" lengthAdjust="spacingAndGlyphs" stroke="#000" stroke-width=".35">IPP</text>
<text transform="translate(260.7 823.6) rotate(0.03)" font-size="16.5" textLength="26.1" lengthAdjust="spacingAndGlyphs" stroke="#000" stroke-width=".35">FPP</text>
<text transform="translate(391.8 823.6) rotate(0.03)" font-size="16.5" textLength="29.8" lengthAdjust="spacingAndGlyphs" stroke="#000" stroke-width=".35">GPP</text>
<text transform="translate(221.6 902.8) rotate(0.03)" font-size="16.5" textLength="112.4" lengthAdjust="spacingAndGlyphs" stroke="#000" stroke-width=".35">Sesquiterpenes</text>
<text transform="translate(380.0 902.8) rotate(0.03)" font-size="16.5" textLength="61.4" lengthAdjust="spacingAndGlyphs" stroke="#000" stroke-width=".35">Geraniol</text>
<text transform="translate(211.0 986.4) rotate(0.03)" font-size="16.5" textLength="128.0" lengthAdjust="spacingAndGlyphs" stroke="#000" stroke-width=".35">Sesquiterpenoids</text>
<text transform="translate(244.8 235.1) rotate(0.03)" font-size="16.5" fill="#1212F0" textLength="38.9" lengthAdjust="spacingAndGlyphs" stroke="#1212F0" stroke-width=".35">ACAT</text>
<text transform="translate(237.4 322.3) rotate(0.03)" font-size="16.5" fill="#1212F0" textLength="46.6" lengthAdjust="spacingAndGlyphs" stroke="#1212F0" stroke-width=".35">HMGS</text>
<text transform="translate(236.0 408.8) rotate(0.03)" font-size="16.5" fill="#1212F0" textLength="48.0" lengthAdjust="spacingAndGlyphs" stroke="#1212F0" stroke-width=".35">HMGR</text>
<text transform="translate(248.6 498.7) rotate(0.03)" font-size="16.5" fill="#1212F0" textLength="35.4" lengthAdjust="spacingAndGlyphs" stroke="#1212F0" stroke-width=".35">MVK</text>
<text transform="translate(249.6 589.6) rotate(0.03)" font-size="16.5" fill="#1212F0" textLength="34.4" lengthAdjust="spacingAndGlyphs" stroke="#1212F0" stroke-width=".35">PMK</text>
<text transform="translate(247.5 664.9) rotate(0.03)" font-size="16.5" fill="#1212F0" textLength="36.5" lengthAdjust="spacingAndGlyphs" stroke="#1212F0" stroke-width=".35">MVD</text>
<text transform="translate(279.7 712.6) rotate(0.03)" font-size="16.5" fill="#1212F0" textLength="20.5" lengthAdjust="spacingAndGlyphs" stroke="#1212F0" stroke-width=".35">IDI</text>
<text transform="translate(285.5 770.2) rotate(0.03)" font-size="16.5" fill="#1212F0" textLength="36.0" lengthAdjust="spacingAndGlyphs" stroke="#1212F0" stroke-width=".35">FPPS</text>
<text transform="translate(288.7 857.1) rotate(0.03)" font-size="16.5" fill="#1212F0" textLength="27.1" lengthAdjust="spacingAndGlyphs" stroke="#1212F0" stroke-width=".35">TPS</text>
<text transform="translate(414.5 854.4) rotate(0.03)" font-size="16.5" fill="#1212F0" textLength="47.2" lengthAdjust="spacingAndGlyphs" stroke="#1212F0" stroke-width=".35">Nudx1</text>
<text transform="translate(154.4 929.2) rotate(0.03)" font-size="16.5" fill="#1212F0" textLength="107.9" lengthAdjust="spacingAndGlyphs" stroke="#1212F0" stroke-width=".35">CYP450/BAHD</text>
<text transform="translate(154.4 947.1) rotate(0.03)" font-size="16.5" fill="#333" textLength="107.3" lengthAdjust="spacingAndGlyphs" stroke="#333" stroke-width=".35">CVOMT/SAMT</text>
<text transform="translate(194.0 964.0) rotate(0.03)" font-size="16.5" fill="#222" textLength="20.2" lengthAdjust="spacingAndGlyphs">.....</text>
<text transform="translate(299.4 234.6) rotate(0.03)" font-size="16.5" fill="#F15A24" textLength="147.6" lengthAdjust="spacingAndGlyphs" stroke="#F15A24" stroke-width=".35">9-6-2-2-3-3-2-3-2-2</text>
<text transform="translate(299.4 322.3) rotate(0.03)" font-size="16.5" fill="#F15A24" textLength="174.8" lengthAdjust="spacingAndGlyphs" stroke="#F15A24" stroke-width=".35">12-14-3-7-4-4-4-10-2-7</text>
<text transform="translate(299.4 408.8) rotate(0.03)" font-size="16.5" fill="#F15A24" textLength="146.9" lengthAdjust="spacingAndGlyphs" stroke="#F15A24" stroke-width=".35">6-4-3-1-1-2-3-1-1-1</text>
<text transform="translate(299.4 498.7) rotate(0.03)" font-size="16.5" fill="#F15A24" textLength="146.9" lengthAdjust="spacingAndGlyphs" stroke="#F15A24" stroke-width=".35">7-5-1-1-2-1-1-1-1-1</text>
<text transform="translate(299.4 587.6) rotate(0.03)" font-size="16.5" fill="#F15A24" textLength="146.9" lengthAdjust="spacingAndGlyphs" stroke="#F15A24" stroke-width=".35">5-2-1-0-1-2-2-2-1-1</text>
<text transform="translate(334.2 664.1) rotate(0.03)" font-size="16.5" fill="#F15A24" textLength="146.9" lengthAdjust="spacingAndGlyphs" stroke="#F15A24" stroke-width=".35">4-4-2-1-2-3-2-2-2-1</text>
<text transform="translate(285.5 790.4) rotate(0.03)" font-size="16.5" fill="#F15A24" textLength="101.2" lengthAdjust="spacingAndGlyphs" stroke="#F15A24" stroke-width=".35">7-5-1-1-2-3-3</text>
<text transform="translate(285.5 808.4) rotate(0.03)" font-size="16.5" fill="#F15A24" textLength="45.8" lengthAdjust="spacingAndGlyphs" stroke="#F15A24" stroke-width=".35">-3-2-2</text>
<line x1="293.5" y1="201.0" x2="293.5" y2="246.7" stroke="#000" stroke-width="1.6"/>
<polygon points="293.5,255.5 287.7,242.9 293.5,246.4 299.3,242.9" fill="#000"/>
<line x1="293.5" y1="290.0" x2="293.5" y2="337.0" stroke="#000" stroke-width="1.6"/>
<polygon points="293.5,345.8 287.7,333.2 293.5,336.7 299.3,333.2" fill="#000"/>
<line x1="293.5" y1="379.9" x2="293.5" y2="426.7" stroke="#000" stroke-width="1.6"/>
<polygon points="293.5,435.5 287.7,422.9 293.5,426.4 299.3,422.9" fill="#000"/>
<line x1="293.5" y1="471.5" x2="293.5" y2="518.0" stroke="#000" stroke-width="1.6"/>
<polygon points="293.5,526.8 287.7,514.2 293.5,517.7 299.3,514.2" fill="#000"/>
<line x1="293.5" y1="562.6" x2="293.5" y2="608.9" stroke="#000" stroke-width="1.6"/>
<polygon points="293.5,617.7 287.7,605.1 293.5,608.6 299.3,605.1" fill="#000"/>
<line x1="294.9" y1="648.6" x2="385.7" y2="703.1" stroke="#000" stroke-width="1.6"/>
<polygon points="393.3,707.6 379.5,706.1 385.5,702.9 385.5,696.1" fill="#000"/>
<line x1="215.0" y1="717.8" x2="383.7" y2="717.8" stroke="#000" stroke-width="1.6"/>
<polygon points="392.5,717.8 379.9,723.6 383.4,717.8 379.9,712.0" fill="#000"/>
<polygon points="206.2,717.8 218.8,712.0 215.3,717.8 218.8,723.6" fill="#000"/>
<line x1="446.0" y1="717.8" x2="568.8" y2="717.8" stroke="#000" stroke-width="1.6"/>
<polygon points="577.6,717.8 565.0,723.6 568.5,717.8 565.0,712.0" fill="#000"/>
<polygon points="437.2,717.8 449.8,712.0 446.3,717.8 449.8,723.6" fill="#000"/>
<path d="M169.5 729.7V750.8H409.8V729.7" fill="none" stroke="#000" stroke-width="1.6"/>
<line x1="275.7" y1="748.6" x2="275.7" y2="795.2" stroke="#000" stroke-width="1.6"/>
<polygon points="275.7,804.0 269.9,791.4 275.7,794.9 281.5,791.4" fill="#000"/>
<line x1="404.0" y1="748.6" x2="404.0" y2="793.2" stroke="#000" stroke-width="1.6" stroke-dasharray="10.5 4.5"/>
<polygon points="404.0,802.0 398.2,789.4 404.0,792.9 409.8,789.4" fill="#000"/>
<line x1="275.7" y1="831.1" x2="275.7" y2="877.0" stroke="#000" stroke-width="1.6"/>
<polygon points="275.7,885.8 269.9,873.2 275.7,876.7 281.5,873.2" fill="#000"/>
<line x1="403.7" y1="833.0" x2="403.7" y2="852.4" stroke="#000" stroke-width="1.6"/>
<polygon points="403.7,861.2 397.9,848.6 403.7,852.1 409.5,848.6" fill="#000"/>
<line x1="397.9" y1="849.6" x2="397.9" y2="875.6" stroke="#000" stroke-width="1.6"/>
<polygon points="397.9,884.4 392.1,871.8 397.9,875.3 403.7,871.8" fill="#000"/>
<line x1="278.6" y1="915.6" x2="278.6" y2="935.0" stroke="#000" stroke-width="1.6"/>
<polygon points="278.6,943.8 272.8,931.2 278.6,934.7 284.4,931.2" fill="#000"/>
<line x1="272.6" y1="932.0" x2="272.6" y2="958.0" stroke="#000" stroke-width="1.6"/>
<polygon points="272.6,966.8 266.8,954.2 272.6,957.7 278.4,954.2" fill="#000"/>
<text transform="translate(614.3 100.2) rotate(0.03)" font-size="16.5" textLength="29.0" lengthAdjust="spacingAndGlyphs" stroke="#000" stroke-width=".35">G3P</text>
<text transform="translate(657.7 100.2) rotate(0.03)" font-size="16.5" textLength="13.0" lengthAdjust="spacingAndGlyphs" stroke="#000" stroke-width=".35">&amp;</text>
<text transform="translate(684.3 100.2) rotate(0.03)" font-size="16.5" textLength="63.9" lengthAdjust="spacingAndGlyphs" stroke="#000" stroke-width=".35">Pyruvata</text>
<text transform="translate(666.4 189.2) rotate(0.03)" font-size="16.5" textLength="30.6" lengthAdjust="spacingAndGlyphs" stroke="#000" stroke-width=".35">DXP</text>
<text transform="translate(665.5 278.9) rotate(0.03)" font-size="16.5" textLength="32.7" lengthAdjust="spacingAndGlyphs" stroke="#000" stroke-width=".35">MEP</text>
<text transform="translate(651.1 367.9) rotate(0.03)" font-size="16.5" textLength="61.0" lengthAdjust="spacingAndGlyphs" stroke="#000" stroke-width=".35">CDP-ME</text>
<text transform="translate(641.8 458.1) rotate(0.03)" font-size="16.5" textLength="79.5" lengthAdjust="spacingAndGlyphs" stroke="#000" stroke-width=".35">CDP-ME2P</text>
<text transform="translate(658.6 548.6) rotate(0.03)" font-size="16.5" textLength="50.3" lengthAdjust="spacingAndGlyphs" stroke="#000" stroke-width=".35">MEcPP</text>
<text transform="translate(654.0 637.7) rotate(0.03)" font-size="16.5" textLength="55.8" lengthAdjust="spacingAndGlyphs" stroke="#000" stroke-width=".35">HMBPP</text>
<text transform="translate(586.3 724.1) rotate(0.03)" font-size="16.5" textLength="23.7" lengthAdjust="spacingAndGlyphs" stroke="#000" stroke-width=".35">IPP</text>
<text transform="translate(775.7 724.1) rotate(0.03)" font-size="16.5" textLength="57.0" lengthAdjust="spacingAndGlyphs" stroke="#000" stroke-width=".35">DMAPP</text>
<text transform="translate(558.5 823.3) rotate(0.03)" font-size="16.5" textLength="26.4" lengthAdjust="spacingAndGlyphs" stroke="#000" stroke-width=".35">LPP</text>
<text transform="translate(748.0 823.3) rotate(0.03)" font-size="16.5" textLength="30.3" lengthAdjust="spacingAndGlyphs" stroke="#000" stroke-width=".35">GPP</text>
<text transform="translate(529.0 901.5) rotate(0.03)" font-size="16.5" textLength="79.6" lengthAdjust="spacingAndGlyphs" stroke="#000" stroke-width=".35">Lavandulol</text>
<text transform="translate(714.7 902.9) rotate(0.03)" font-size="16.5" textLength="107.9" lengthAdjust="spacingAndGlyphs" stroke="#000" stroke-width=".35">Monoterpenes</text>
<text transform="translate(508.2 986.2) rotate(0.03)" font-size="16.5" textLength="137.1" lengthAdjust="spacingAndGlyphs" stroke="#000" stroke-width=".35">Lavandulyl acetate</text>
<text transform="translate(706.0 986.2) rotate(0.03)" font-size="16.5" textLength="122.9" lengthAdjust="spacingAndGlyphs" stroke="#000" stroke-width=".35">Monoterpenoids</text>
<text transform="translate(691.3 140.7) rotate(0.03)" font-size="16.5" fill="#1212F0" textLength="29.5" lengthAdjust="spacingAndGlyphs" stroke="#1212F0" stroke-width=".35">DXS</text>
<text transform="translate(691.3 234.6) rotate(0.03)" font-size="16.5" fill="#1212F0" textLength="30.9" lengthAdjust="spacingAndGlyphs" stroke="#1212F0" stroke-width=".35">DXR</text>
<text transform="translate(691.3 322.2) rotate(0.03)" font-size="16.5" fill="#1212F0" textLength="32.9" lengthAdjust="spacingAndGlyphs" stroke="#1212F0" stroke-width=".35">MCT</text>
<text transform="translate(691.3 407.5) rotate(0.03)" font-size="16.5" fill="#1212F0" textLength="34.7" lengthAdjust="spacingAndGlyphs" stroke="#1212F0" stroke-width=".35">CMK</text>
<text transform="translate(691.3 499.2) rotate(0.03)" font-size="16.5" fill="#1212F0" textLength="34.7" lengthAdjust="spacingAndGlyphs" stroke="#1212F0" stroke-width=".35">MDS</text>
<text transform="translate(691.3 588.3) rotate(0.03)" font-size="16.5" fill="#1212F0" textLength="31.5" lengthAdjust="spacingAndGlyphs" stroke="#1212F0" stroke-width=".35">HDS</text>
<text transform="translate(691.3 664.3) rotate(0.03)" font-size="16.5" fill="#1212F0" textLength="32.9" lengthAdjust="spacingAndGlyphs" stroke="#1212F0" stroke-width=".35">HDR</text>
<text transform="translate(671.6 712.0) rotate(0.03)" font-size="16.5" fill="#1212F0" textLength="20.8" lengthAdjust="spacingAndGlyphs" stroke="#1212F0" stroke-width=".35">IDI</text>
<text transform="translate(711.5 764.9) rotate(0.03)" font-size="16.5" fill="#1212F0" textLength="39.3" lengthAdjust="spacingAndGlyphs" stroke="#1212F0" stroke-width=".35">GPPS</text>
<text transform="translate(544.9 781.4) rotate(0.03)" font-size="16.5" fill="#1212F0" textLength="35.6" lengthAdjust="spacingAndGlyphs" stroke="#1212F0" stroke-width=".35">LPPS</text>
<text transform="translate(701.7 796.7) rotate(0.03)" font-size="16.5" fill="#1212F0" textLength="50.6" lengthAdjust="spacingAndGlyphs" stroke="#1212F0" stroke-width=".35">GGPPS</text>
<text transform="translate(726.3 860.1) rotate(0.03)" font-size="16.5" fill="#1212F0" textLength="26.9" lengthAdjust="spacingAndGlyphs" stroke="#1212F0" stroke-width=".35">TPS</text>
<text transform="translate(535.7 942.6) rotate(0.03)" font-size="16.5" fill="#1212F0" textLength="30.1" lengthAdjust="spacingAndGlyphs" stroke="#1212F0" stroke-width=".35">AAT</text>
<text transform="translate(646.2 929.0) rotate(0.03)" font-size="16.5" fill="#1212F0" textLength="107.8" lengthAdjust="spacingAndGlyphs" stroke="#1212F0" stroke-width=".35">CYP450/BAHD</text>
<text transform="translate(646.2 946.9) rotate(0.03)" font-size="16.5" fill="#333" textLength="107.8" lengthAdjust="spacingAndGlyphs" stroke="#333" stroke-width=".35">CVOMT/SAMT</text>
<text transform="translate(686.6 963.6) rotate(0.03)" font-size="16.5" fill="#222" textLength="19.4" lengthAdjust="spacingAndGlyphs">.....</text>
<text transform="translate(509.7 140.7) rotate(0.03)" font-size="16.5" fill="#F15A24" textLength="166.0" lengthAdjust="spacingAndGlyphs" stroke="#F15A24" stroke-width=".35">22-11-6-7-6-5-3-5-3-4</text>
<text transform="translate(523.3 234.6) rotate(0.03)" font-size="16.5" fill="#F15A24" textLength="148.0" lengthAdjust="spacingAndGlyphs" stroke="#F15A24" stroke-width=".35">8-4-1-1-1-2-1-3-1-1</text>
<text transform="translate(527.6 322.2) rotate(0.03)" font-size="16.5" fill="#F15A24" textLength="147.5" lengthAdjust="spacingAndGlyphs" stroke="#F15A24" stroke-width=".35">2-2-1-0-1-1-1-3-1-1</text>
<text transform="translate(527.6 407.5) rotate(0.03)" font-size="16.5" fill="#F15A24" textLength="147.5" lengthAdjust="spacingAndGlyphs" stroke="#F15A24" stroke-width=".35">2-2-1-1-1-1-1-1-1-1</text>
<text transform="translate(527.6 499.2) rotate(0.03)" font-size="16.5" fill="#F15A24" textLength="147.5" lengthAdjust="spacingAndGlyphs" stroke="#F15A24" stroke-width=".35">4-5-2-0-3-2-1-1-1-1</text>
<text transform="translate(527.6 588.3) rotate(0.03)" font-size="16.5" fill="#F15A24" textLength="147.5" lengthAdjust="spacingAndGlyphs" stroke="#F15A24" stroke-width=".35">5-3-1-1-2-1-1-6-1-1</text>
<text transform="translate(526.1 664.3) rotate(0.03)" font-size="16.5" fill="#F15A24" textLength="148.4" lengthAdjust="spacingAndGlyphs" stroke="#F15A24" stroke-width=".35">5-7-3-1-2-2-1-4-1-2</text>
<text transform="translate(602.2 740.3) rotate(0.03)" font-size="16.5" fill="#F15A24" textLength="147.2" lengthAdjust="spacingAndGlyphs" stroke="#F15A24" stroke-width=".35">5-3-1-0-2-2-1-2-2-1</text>
<text transform="translate(602.2 782.8) rotate(0.03)" font-size="16.5" fill="#F15A24" textLength="147.2" lengthAdjust="spacingAndGlyphs" stroke="#F15A24" stroke-width=".35">4-5-2-1-1-1-1-1-1-1</text>
<text transform="translate(594.7 814.1) rotate(0.03)" font-size="16.5" fill="#F15A24" textLength="157.6" lengthAdjust="spacingAndGlyphs" stroke="#F15A24" stroke-width=".35">21-9-4-5-7-5-6-7-3-4</text>
<line x1="681.4" y1="112.2" x2="681.4" y2="158.3" stroke="#000" stroke-width="1.6"/>
<polygon points="681.4,167.1 675.6,154.5 681.4,158.0 687.2,154.5" fill="#000"/>
<line x1="681.4" y1="200.1" x2="681.4" y2="246.5" stroke="#000" stroke-width="1.6"/>
<polygon points="681.4,255.3 675.6,242.7 681.4,246.2 687.2,242.7" fill="#000"/>
<line x1="681.4" y1="292.0" x2="681.4" y2="337.6" stroke="#000" stroke-width="1.6"/>
<polygon points="681.4,346.4 675.6,333.8 681.4,337.3 687.2,333.8" fill="#000"/>
<line x1="681.4" y1="384.6" x2="681.4" y2="430.1" stroke="#000" stroke-width="1.6"/>
<polygon points="681.4,438.9 675.6,426.3 681.4,429.8 687.2,426.3" fill="#000"/>
<line x1="681.4" y1="469.9" x2="681.4" y2="516.0" stroke="#000" stroke-width="1.6"/>
<polygon points="681.4,524.8 675.6,512.2 681.4,515.7 687.2,512.2" fill="#000"/>
<line x1="681.4" y1="561.3" x2="681.4" y2="607.3" stroke="#000" stroke-width="1.6"/>
<polygon points="681.4,616.1 675.6,603.5 681.4,607.0 687.2,603.5" fill="#000"/>
<path d="M680.9 648.8V685.6M601.3 685.6H802.9" fill="none" stroke="#000" stroke-width="1.6"/>
<line x1="601.3" y1="685.6" x2="601.3" y2="696.1" stroke="#000" stroke-width="1.6"/>
<polygon points="601.3,704.9 595.5,692.3 601.3,695.8 607.1,692.3" fill="#000"/>
<line x1="802.9" y1="685.6" x2="802.9" y2="696.1" stroke="#000" stroke-width="1.6"/>
<polygon points="802.9,704.9 797.1,692.3 802.9,695.8 808.7,692.3" fill="#000"/>
<line x1="626.0" y1="717.9" x2="758.8" y2="717.9" stroke="#000" stroke-width="1.6"/>
<polygon points="767.6,717.9 755.0,723.7 758.5,717.9 755.0,712.1" fill="#000"/>
<polygon points="617.2,717.9 629.8,712.1 626.3,717.9 629.8,723.7" fill="#000"/>
<path d="M597 729.5V750.6H801.7V728.4" fill="none" stroke="#000" stroke-width="1.6"/>
<line x1="763.3" y1="752.9" x2="763.3" y2="799.7" stroke="#000" stroke-width="1.6"/>
<polygon points="763.3,808.5 757.5,795.9 763.3,799.4 769.1,795.9" fill="#000"/>
<line x1="602.8" y1="751.2" x2="573.0" y2="795.4" stroke="#000" stroke-width="1.6"/>
<polygon points="568.1,802.7 570.3,789.0 573.2,795.2 580.0,795.5" fill="#000"/>
<line x1="571.5" y1="827.4" x2="571.5" y2="872.0" stroke="#000" stroke-width="1.6" stroke-dasharray="10.5 4.5"/>
<polygon points="571.5,880.8 565.7,868.2 571.5,871.7 577.3,868.2" fill="#000"/>
<line x1="763.3" y1="830.8" x2="763.3" y2="877.8" stroke="#000" stroke-width="1.6"/>
<polygon points="763.3,886.6 757.5,874.0 763.3,877.5 769.1,874.0" fill="#000"/>
<line x1="571.5" y1="913.2" x2="571.5" y2="960.2" stroke="#000" stroke-width="1.6"/>
<polygon points="571.5,969.0 565.7,956.4 571.5,959.9 577.3,956.4" fill="#000"/>
<line x1="767.6" y1="914.1" x2="767.6" y2="933.6" stroke="#000" stroke-width="1.6"/>
<polygon points="767.6,942.4 761.8,929.8 767.6,933.3 773.4,929.8" fill="#000"/>
<line x1="761.0" y1="931.5" x2="761.0" y2="957.4" stroke="#000" stroke-width="1.6"/>
<polygon points="761.0,966.2 755.2,953.6 761.0,957.1 766.8,953.6" fill="#000"/>
<g shape-rendering="crispEdges">
<rect x="136.40" y="194.90" width="17.78" height="8.27" fill="#80b1b1"/>
<rect x="153.88" y="194.90" width="17.78" height="8.27" fill="#cc7fe4"/>
<rect x="171.36" y="194.90" width="17.78" height="8.27" fill="#4a9292"/>
<rect x="188.84" y="194.90" width="17.78" height="8.27" fill="#b44fdc"/>
<rect x="206.32" y="194.90" width="17.78" height="8.27" fill="#f3e0f8"/>
<rect x="136.40" y="202.87" width="17.78" height="8.27" fill="#e6efef"/>
<rect x="153.88" y="202.87" width="17.78" height="8.27" fill="#c0d9d9"/>
<rect x="171.36" y="202.87" width="17.78" height="8.27" fill="#4a9292"/>
<rect x="188.84" y="202.87" width="17.78" height="8.27" fill="#e6efef"/>
<rect x="206.32" y="202.87" width="17.78" height="8.27" fill="#9c14c8"/>
<rect x="136.40" y="210.83" width="17.78" height="8.27" fill="#cc7fe4"/>
<rect x="153.88" y="210.83" width="17.78" height="8.27" fill="#c0d9d9"/>
<rect x="171.36" y="210.83" width="17.78" height="8.27" fill="#4a9292"/>
<rect x="188.84" y="210.83" width="17.78" height="8.27" fill="#b44fdc"/>
<rect x="206.32" y="210.83" width="17.78" height="8.27" fill="#a6c8c8"/>
<rect x="136.40" y="218.80" width="17.78" height="8.27" fill="#f3e0f8"/>
<rect x="153.88" y="218.80" width="17.78" height="8.27" fill="#a6c8c8"/>
<rect x="171.36" y="218.80" width="17.78" height="8.27" fill="#4a9292"/>
<rect x="188.84" y="218.80" width="17.78" height="8.27" fill="#e2b2ee"/>
<rect x="206.32" y="218.80" width="17.78" height="8.27" fill="#b44fdc"/>
<rect x="136.40" y="226.77" width="17.78" height="8.27" fill="#b44fdc"/>
<rect x="153.88" y="226.77" width="17.78" height="8.27" fill="#cc7fe4"/>
<rect x="171.36" y="226.77" width="17.78" height="8.27" fill="#80b1b1"/>
<rect x="188.84" y="226.77" width="17.78" height="8.27" fill="#80b1b1"/>
<rect x="206.32" y="226.77" width="17.78" height="8.27" fill="#c0d9d9"/>
<rect x="136.40" y="234.73" width="17.78" height="8.27" fill="#b44fdc"/>
<rect x="153.88" y="234.73" width="17.78" height="8.27" fill="#e6efef"/>
<rect x="171.36" y="234.73" width="17.78" height="8.27" fill="#1b7171"/>
<rect x="188.84" y="234.73" width="17.78" height="8.27" fill="#e2b2ee"/>
<rect x="206.32" y="234.73" width="17.78" height="8.27" fill="#fdfdfd"/>
<rect x="136.40" y="242.70" width="17.78" height="8.27" fill="#a6c8c8"/>
<rect x="153.88" y="242.70" width="17.78" height="8.27" fill="#f3e0f8"/>
<rect x="171.36" y="242.70" width="17.78" height="8.27" fill="#4a9292"/>
<rect x="188.84" y="242.70" width="17.78" height="8.27" fill="#9c14c8"/>
<rect x="206.32" y="242.70" width="17.78" height="8.27" fill="#fdfdfd"/>
<rect x="136.40" y="250.67" width="17.78" height="8.27" fill="#4a9292"/>
<rect x="153.88" y="250.67" width="17.78" height="8.27" fill="#fdfdfd"/>
<rect x="171.36" y="250.67" width="17.78" height="8.27" fill="#fdfdfd"/>
<rect x="188.84" y="250.67" width="17.78" height="8.27" fill="#c0d9d9"/>
<rect x="206.32" y="250.67" width="17.78" height="8.27" fill="#9c14c8"/>
<rect x="136.40" y="258.63" width="17.78" height="8.27" fill="#1b7171"/>
<rect x="153.88" y="258.63" width="17.78" height="8.27" fill="#cc7fe4"/>
<rect x="171.36" y="258.63" width="17.78" height="8.27" fill="#e2b2ee"/>
<rect x="188.84" y="258.63" width="17.78" height="8.27" fill="#e6efef"/>
<rect x="206.32" y="258.63" width="17.78" height="8.27" fill="#cc7fe4"/>
</g>
<path d="M136.4 202.87H223.8M136.4 210.83H223.8M136.4 218.80H223.8M136.4 226.77H223.8M136.4 234.73H223.8M136.4 242.70H223.8M136.4 250.67H223.8M136.4 258.63H223.8M153.88 194.9V266.6M171.36 194.9V266.6M188.84 194.9V266.6M206.32 194.9V266.6" stroke="#fff" stroke-opacity=".45" stroke-width=".7" fill="none"/>
<rect x="136.4" y="194.9" width="87.4" height="71.7" fill="none" stroke="#777" stroke-width="1"/>
<g font-size="9.6" font-weight="bold" font-style="italic" stroke="#000" stroke-width=".3">
<text transform="translate(76.4 202.1) rotate(0.03)" textLength="57.2">La02G01148</text>
<text transform="translate(76.4 210.0) rotate(0.03)" textLength="57.2">La08G00015</text>
<text transform="translate(76.4 218.0) rotate(0.03)" textLength="57.2">La08G00595</text>
<text transform="translate(76.4 226.0) rotate(0.03)" textLength="57.2">La08G00608</text>
<text transform="translate(76.4 233.9) rotate(0.03)" textLength="57.2">La21G00256</text>
<text transform="translate(76.4 241.9) rotate(0.03)" textLength="57.2">La24G00016</text>
<text transform="translate(76.4 249.9) rotate(0.03)" textLength="57.2">La16G00358</text>
<text transform="translate(76.4 257.9) rotate(0.03)" textLength="57.2">La24G01229</text>
<text transform="translate(76.4 265.8) rotate(0.03)" textLength="57.2">La00G02553</text>
</g>
<g shape-rendering="crispEdges">
<rect x="136.40" y="284.40" width="17.78" height="8.30" fill="#cc7fe4"/>
<rect x="153.88" y="284.40" width="17.78" height="8.30" fill="#b44fdc"/>
<rect x="171.36" y="284.40" width="17.78" height="8.30" fill="#80b1b1"/>
<rect x="188.84" y="284.40" width="17.78" height="8.30" fill="#a6c8c8"/>
<rect x="206.32" y="284.40" width="17.78" height="8.30" fill="#c0d9d9"/>
<rect x="136.40" y="292.40" width="17.78" height="8.30" fill="#e2b2ee"/>
<rect x="153.88" y="292.40" width="17.78" height="8.30" fill="#b44fdc"/>
<rect x="171.36" y="292.40" width="17.78" height="8.30" fill="#fdfdfd"/>
<rect x="188.84" y="292.40" width="17.78" height="8.30" fill="#80b1b1"/>
<rect x="206.32" y="292.40" width="17.78" height="8.30" fill="#80b1b1"/>
<rect x="136.40" y="300.40" width="17.78" height="8.30" fill="#cc7fe4"/>
<rect x="153.88" y="300.40" width="17.78" height="8.30" fill="#b44fdc"/>
<rect x="171.36" y="300.40" width="17.78" height="8.30" fill="#e6efef"/>
<rect x="188.84" y="300.40" width="17.78" height="8.30" fill="#80b1b1"/>
<rect x="206.32" y="300.40" width="17.78" height="8.30" fill="#80b1b1"/>
<rect x="136.40" y="308.40" width="17.78" height="8.30" fill="#80b1b1"/>
<rect x="153.88" y="308.40" width="17.78" height="8.30" fill="#cc7fe4"/>
<rect x="171.36" y="308.40" width="17.78" height="8.30" fill="#fdfdfd"/>
<rect x="188.84" y="308.40" width="17.78" height="8.30" fill="#b44fdc"/>
<rect x="206.32" y="308.40" width="17.78" height="8.30" fill="#4a9292"/>
<rect x="136.40" y="316.40" width="17.78" height="8.30" fill="#cc7fe4"/>
<rect x="153.88" y="316.40" width="17.78" height="8.30" fill="#cc7fe4"/>
<rect x="171.36" y="316.40" width="17.78" height="8.30" fill="#e2b2ee"/>
<rect x="188.84" y="316.40" width="17.78" height="8.30" fill="#c0d9d9"/>
<rect x="206.32" y="316.40" width="17.78" height="8.30" fill="#1b7171"/>
<rect x="136.40" y="324.40" width="17.78" height="8.30" fill="#f3e0f8"/>
<rect x="153.88" y="324.40" width="17.78" height="8.30" fill="#b44fdc"/>
<rect x="171.36" y="324.40" width="17.78" height="8.30" fill="#4a9292"/>
<rect x="188.84" y="324.40" width="17.78" height="8.30" fill="#a6c8c8"/>
<rect x="206.32" y="324.40" width="17.78" height="8.30" fill="#e2b2ee"/>
<rect x="136.40" y="332.40" width="17.78" height="8.30" fill="#f3e0f8"/>
<rect x="153.88" y="332.40" width="17.78" height="8.30" fill="#e2b2ee"/>
<rect x="171.36" y="332.40" width="17.78" height="8.30" fill="#4a9292"/>
<rect x="188.84" y="332.40" width="17.78" height="8.30" fill="#80b1b1"/>
<rect x="206.32" y="332.40" width="17.78" height="8.30" fill="#b44fdc"/>
<rect x="136.40" y="340.40" width="17.78" height="8.30" fill="#c0d9d9"/>
<rect x="153.88" y="340.40" width="17.78" height="8.30" fill="#f3e0f8"/>
<rect x="171.36" y="340.40" width="17.78" height="8.30" fill="#4a9292"/>
<rect x="188.84" y="340.40" width="17.78" height="8.30" fill="#c0d9d9"/>
<rect x="206.32" y="340.40" width="17.78" height="8.30" fill="#9c14c8"/>
<rect x="136.40" y="348.40" width="17.78" height="8.30" fill="#9c14c8"/>
<rect x="153.88" y="348.40" width="17.78" height="8.30" fill="#f3e0f8"/>
<rect x="171.36" y="348.40" width="17.78" height="8.30" fill="#c0d9d9"/>
<rect x="188.84" y="348.40" width="17.78" height="8.30" fill="#a6c8c8"/>
<rect x="206.32" y="348.40" width="17.78" height="8.30" fill="#80b1b1"/>
<rect x="136.40" y="356.40" width="17.78" height="8.30" fill="#c0d9d9"/>
<rect x="153.88" y="356.40" width="17.78" height="8.30" fill="#9c14c8"/>
<rect x="171.36" y="356.40" width="17.78" height="8.30" fill="#e6efef"/>
<rect x="188.84" y="356.40" width="17.78" height="8.30" fill="#c0d9d9"/>
<rect x="206.32" y="356.40" width="17.78" height="8.30" fill="#80b1b1"/>
<rect x="136.40" y="364.40" width="17.78" height="8.30" fill="#a6c8c8"/>
<rect x="153.88" y="364.40" width="17.78" height="8.30" fill="#9c14c8"/>
<rect x="171.36" y="364.40" width="17.78" height="8.30" fill="#fdfdfd"/>
<rect x="188.84" y="364.40" width="17.78" height="8.30" fill="#c0d9d9"/>
<rect x="206.32" y="364.40" width="17.78" height="8.30" fill="#80b1b1"/>
</g>
<path d="M136.4 292.40H223.8M136.4 300.40H223.8M136.4 308.40H223.8M136.4 316.40H223.8M136.4 324.40H223.8M136.4 332.40H223.8M136.4 340.40H223.8M136.4 348.40H223.8M136.4 356.40H223.8M136.4 364.40H223.8M153.88 284.4V372.4M171.36 284.4V372.4M188.84 284.4V372.4M206.32 284.4V372.4" stroke="#fff" stroke-opacity=".45" stroke-width=".7" fill="none"/>
<rect x="136.4" y="284.4" width="87.4" height="88.0" fill="none" stroke="#777" stroke-width="1"/>
<g font-size="9.6" font-weight="bold" font-style="italic" stroke="#000" stroke-width=".3">
<text transform="translate(76.4 291.6) rotate(0.03)" textLength="57.2">La00G03652</text>
<text transform="translate(76.4 299.6) rotate(0.03)" textLength="57.2">La00G05627</text>
<text transform="translate(76.4 307.6) rotate(0.03)" textLength="57.2">La02G02411</text>
<text transform="translate(76.4 315.6) rotate(0.03)" textLength="57.2">La09G00577</text>
<text transform="translate(76.4 323.6) rotate(0.03)" textLength="57.2">La09G02360</text>
<text transform="translate(76.4 331.6) rotate(0.03)" textLength="57.2">La12G00612</text>
<text transform="translate(76.4 339.6) rotate(0.03)" textLength="57.2">La16G01809</text>
<text transform="translate(76.4 347.6) rotate(0.03)" textLength="57.2">La21G00432</text>
<text transform="translate(76.4 355.6) rotate(0.03)" textLength="57.2">La26G00750</text>
<text transform="translate(76.4 363.6) rotate(0.03)" textLength="57.2">La27G00149</text>
<text transform="translate(76.4 371.6) rotate(0.03)" textLength="57.2">La27G00150</text>
</g>
<g shape-rendering="crispEdges">
<rect x="136.40" y="391.80" width="17.76" height="8.37" fill="#a6c8c8"/>
<rect x="153.86" y="391.80" width="17.76" height="8.37" fill="#c0d9d9"/>
<rect x="171.32" y="391.80" width="17.76" height="8.37" fill="#a6c8c8"/>
<rect x="188.78" y="391.80" width="17.76" height="8.37" fill="#c0d9d9"/>
<rect x="206.24" y="391.80" width="17.76" height="8.37" fill="#9c14c8"/>
<rect x="136.40" y="399.87" width="17.76" height="8.37" fill="#a6c8c8"/>
<rect x="153.86" y="399.87" width="17.76" height="8.37" fill="#c0d9d9"/>
<rect x="171.32" y="399.87" width="17.76" height="8.37" fill="#80b1b1"/>
<rect x="188.78" y="399.87" width="17.76" height="8.37" fill="#f3e0f8"/>
<rect x="206.24" y="399.87" width="17.76" height="8.37" fill="#9c14c8"/>
<rect x="136.40" y="407.93" width="17.76" height="8.37" fill="#c0d9d9"/>
<rect x="153.86" y="407.93" width="17.76" height="8.37" fill="#e6efef"/>
<rect x="171.32" y="407.93" width="17.76" height="8.37" fill="#80b1b1"/>
<rect x="188.78" y="407.93" width="17.76" height="8.37" fill="#a6c8c8"/>
<rect x="206.24" y="407.93" width="17.76" height="8.37" fill="#9c14c8"/>
<rect x="136.40" y="416.00" width="17.76" height="8.37" fill="#fdfdfd"/>
<rect x="153.86" y="416.00" width="17.76" height="8.37" fill="#c0d9d9"/>
<rect x="171.32" y="416.00" width="17.76" height="8.37" fill="#a6c8c8"/>
<rect x="188.78" y="416.00" width="17.76" height="8.37" fill="#80b1b1"/>
<rect x="206.24" y="416.00" width="17.76" height="8.37" fill="#9c14c8"/>
<rect x="136.40" y="424.07" width="17.76" height="8.37" fill="#fdfdfd"/>
<rect x="153.86" y="424.07" width="17.76" height="8.37" fill="#e6efef"/>
<rect x="171.32" y="424.07" width="17.76" height="8.37" fill="#80b1b1"/>
<rect x="188.78" y="424.07" width="17.76" height="8.37" fill="#a6c8c8"/>
<rect x="206.24" y="424.07" width="17.76" height="8.37" fill="#9c14c8"/>
<rect x="136.40" y="432.13" width="17.76" height="8.37" fill="#c0d9d9"/>
<rect x="153.86" y="432.13" width="17.76" height="8.37" fill="#c0d9d9"/>
<rect x="171.32" y="432.13" width="17.76" height="8.37" fill="#a6c8c8"/>
<rect x="188.78" y="432.13" width="17.76" height="8.37" fill="#c0d9d9"/>
<rect x="206.24" y="432.13" width="17.76" height="8.37" fill="#9c14c8"/>
</g>
<path d="M136.4 399.87H223.7M136.4 407.93H223.7M136.4 416.00H223.7M136.4 424.07H223.7M136.4 432.13H223.7M153.86 391.8V440.2M171.32 391.8V440.2M188.78 391.8V440.2M206.24 391.8V440.2" stroke="#fff" stroke-opacity=".45" stroke-width=".7" fill="none"/>
<rect x="136.4" y="391.8" width="87.3" height="48.4" fill="none" stroke="#777" stroke-width="1"/>
<g font-size="9.6" font-weight="bold" font-style="italic" stroke="#000" stroke-width=".3">
<text transform="translate(76.4 399.0) rotate(0.03)" textLength="57.2">La00G00324</text>
<text transform="translate(76.4 407.1) rotate(0.03)" textLength="57.2">La00G03782</text>
<text transform="translate(76.4 415.2) rotate(0.03)" textLength="57.2">La02G00694</text>
<text transform="translate(76.4 423.2) rotate(0.03)" textLength="57.2">La14G00988</text>
<text transform="translate(76.4 431.3) rotate(0.03)" textLength="57.2">La25G00026</text>
<text transform="translate(76.4 439.4) rotate(0.03)" textLength="57.2">La25G00144</text>
</g>
<g shape-rendering="crispEdges">
<rect x="136.40" y="478.20" width="17.76" height="8.50" fill="#cc7fe4"/>
<rect x="153.86" y="478.20" width="17.76" height="8.50" fill="#fdfdfd"/>
<rect x="171.32" y="478.20" width="17.76" height="8.50" fill="#4a9292"/>
<rect x="188.78" y="478.20" width="17.76" height="8.50" fill="#80b1b1"/>
<rect x="206.24" y="478.20" width="17.76" height="8.50" fill="#b44fdc"/>
<rect x="136.40" y="486.40" width="17.76" height="8.50" fill="#9c14c8"/>
<rect x="153.86" y="486.40" width="17.76" height="8.50" fill="#c0d9d9"/>
<rect x="171.32" y="486.40" width="17.76" height="8.50" fill="#80b1b1"/>
<rect x="188.78" y="486.40" width="17.76" height="8.50" fill="#a6c8c8"/>
<rect x="206.24" y="486.40" width="17.76" height="8.50" fill="#e6efef"/>
<rect x="136.40" y="494.60" width="17.76" height="8.50" fill="#b44fdc"/>
<rect x="153.86" y="494.60" width="17.76" height="8.50" fill="#c0d9d9"/>
<rect x="171.32" y="494.60" width="17.76" height="8.50" fill="#80b1b1"/>
<rect x="188.78" y="494.60" width="17.76" height="8.50" fill="#80b1b1"/>
<rect x="206.24" y="494.60" width="17.76" height="8.50" fill="#cc7fe4"/>
<rect x="136.40" y="502.80" width="17.76" height="8.50" fill="#fdfdfd"/>
<rect x="153.86" y="502.80" width="17.76" height="8.50" fill="#c0d9d9"/>
<rect x="171.32" y="502.80" width="17.76" height="8.50" fill="#4a9292"/>
<rect x="188.78" y="502.80" width="17.76" height="8.50" fill="#c0d9d9"/>
<rect x="206.24" y="502.80" width="17.76" height="8.50" fill="#9c14c8"/>
<rect x="136.40" y="511.00" width="17.76" height="8.50" fill="#e6efef"/>
<rect x="153.86" y="511.00" width="17.76" height="8.50" fill="#b44fdc"/>
<rect x="171.32" y="511.00" width="17.76" height="8.50" fill="#4a9292"/>
<rect x="188.78" y="511.00" width="17.76" height="8.50" fill="#a6c8c8"/>
<rect x="206.24" y="511.00" width="17.76" height="8.50" fill="#cc7fe4"/>
<rect x="136.40" y="519.20" width="17.76" height="8.50" fill="#f3e0f8"/>
<rect x="153.86" y="519.20" width="17.76" height="8.50" fill="#9c14c8"/>
<rect x="171.32" y="519.20" width="17.76" height="8.50" fill="#80b1b1"/>
<rect x="188.78" y="519.20" width="17.76" height="8.50" fill="#80b1b1"/>
<rect x="206.24" y="519.20" width="17.76" height="8.50" fill="#f3e0f8"/>
<rect x="136.40" y="527.40" width="17.76" height="8.50" fill="#9c14c8"/>
<rect x="153.86" y="527.40" width="17.76" height="8.50" fill="#fdfdfd"/>
<rect x="171.32" y="527.40" width="17.76" height="8.50" fill="#a6c8c8"/>
<rect x="188.78" y="527.40" width="17.76" height="8.50" fill="#a6c8c8"/>
<rect x="206.24" y="527.40" width="17.76" height="8.50" fill="#c0d9d9"/>
</g>
<path d="M136.4 486.40H223.7M136.4 494.60H223.7M136.4 502.80H223.7M136.4 511.00H223.7M136.4 519.20H223.7M136.4 527.40H223.7M153.86 478.2V535.6M171.32 478.2V535.6M188.78 478.2V535.6M206.24 478.2V535.6" stroke="#fff" stroke-opacity=".45" stroke-width=".7" fill="none"/>
<rect x="136.4" y="478.2" width="87.3" height="57.4" fill="none" stroke="#777" stroke-width="1"/>
<g font-size="9.6" font-weight="bold" font-style="italic" stroke="#000" stroke-width=".3">
<text transform="translate(76.4 485.6) rotate(0.03)" textLength="57.2">La00G04505</text>
<text transform="translate(76.4 493.8) rotate(0.03)" textLength="57.2">La12G01569</text>
<text transform="translate(76.4 501.9) rotate(0.03)" textLength="57.2">La12G01570</text>
<text transform="translate(76.4 510.1) rotate(0.03)" textLength="57.2">La21G01359</text>
<text transform="translate(76.4 518.2) rotate(0.03)" textLength="57.2">La22G02622</text>
<text transform="translate(76.4 526.4) rotate(0.03)" textLength="57.2">La22G02634</text>
<text transform="translate(76.4 534.6) rotate(0.03)" textLength="57.2">La23G02603</text>
</g>
<g shape-rendering="crispEdges">
<rect x="135.40" y="570.20" width="17.86" height="8.50" fill="#e6efef"/>
<rect x="152.96" y="570.20" width="17.86" height="8.50" fill="#80b1b1"/>
<rect x="170.52" y="570.20" width="17.86" height="8.50" fill="#80b1b1"/>
<rect x="188.08" y="570.20" width="17.86" height="8.50" fill="#f3e0f8"/>
<rect x="205.64" y="570.20" width="17.86" height="8.50" fill="#9c14c8"/>
<rect x="135.40" y="578.40" width="17.86" height="8.50" fill="#b44fdc"/>
<rect x="152.96" y="578.40" width="17.86" height="8.50" fill="#80b1b1"/>
<rect x="170.52" y="578.40" width="17.86" height="8.50" fill="#4a9292"/>
<rect x="188.08" y="578.40" width="17.86" height="8.50" fill="#e2b2ee"/>
<rect x="205.64" y="578.40" width="17.86" height="8.50" fill="#f3e0f8"/>
<rect x="135.40" y="586.60" width="17.86" height="8.50" fill="#f3e0f8"/>
<rect x="152.96" y="586.60" width="17.86" height="8.50" fill="#fdfdfd"/>
<rect x="170.52" y="586.60" width="17.86" height="8.50" fill="#4a9292"/>
<rect x="188.08" y="586.60" width="17.86" height="8.50" fill="#b44fdc"/>
<rect x="205.64" y="586.60" width="17.86" height="8.50" fill="#c0d9d9"/>
<rect x="135.40" y="594.80" width="17.86" height="8.50" fill="#e2b2ee"/>
<rect x="152.96" y="594.80" width="17.86" height="8.50" fill="#c0d9d9"/>
<rect x="170.52" y="594.80" width="17.86" height="8.50" fill="#80b1b1"/>
<rect x="188.08" y="594.80" width="17.86" height="8.50" fill="#b44fdc"/>
<rect x="205.64" y="594.80" width="17.86" height="8.50" fill="#80b1b1"/>
<rect x="135.40" y="603.00" width="17.86" height="8.50" fill="#c0d9d9"/>
<rect x="152.96" y="603.00" width="17.86" height="8.50" fill="#c0d9d9"/>
<rect x="170.52" y="603.00" width="17.86" height="8.50" fill="#c0d9d9"/>
<rect x="188.08" y="603.00" width="17.86" height="8.50" fill="#9c14c8"/>
<rect x="205.64" y="603.00" width="17.86" height="8.50" fill="#c0d9d9"/>
</g>
<path d="M135.4 578.40H223.2M135.4 586.60H223.2M135.4 594.80H223.2M135.4 603.00H223.2M152.96 570.2V611.2M170.52 570.2V611.2M188.08 570.2V611.2M205.64 570.2V611.2" stroke="#fff" stroke-opacity=".45" stroke-width=".7" fill="none"/>
<rect x="135.4" y="570.2" width="87.8" height="41.0" fill="none" stroke="#777" stroke-width="1"/>
<g font-size="9.6" font-weight="bold" font-style="italic" stroke="#000" stroke-width=".3">
<text transform="translate(75.2 577.6) rotate(0.03)" textLength="57.1">La00G02586</text>
<text transform="translate(75.2 585.8) rotate(0.03)" textLength="57.1">La02G00337</text>
<text transform="translate(75.2 593.9) rotate(0.03)" textLength="57.1">La12G00652</text>
<text transform="translate(75.2 602.1) rotate(0.03)" textLength="57.1">La21G00470</text>
<text transform="translate(75.2 610.2) rotate(0.03)" textLength="57.1">La13G01151</text>
</g>
<g shape-rendering="crispEdges">
<rect x="137.40" y="653.60" width="17.94" height="9.25" fill="#b44fdc"/>
<rect x="155.04" y="653.60" width="17.94" height="9.25" fill="#e2b2ee"/>
<rect x="172.68" y="653.60" width="17.94" height="9.25" fill="#a6c8c8"/>
<rect x="190.32" y="653.60" width="17.94" height="9.25" fill="#80b1b1"/>
<rect x="207.96" y="653.60" width="17.94" height="9.25" fill="#fdfdfd"/>
<rect x="137.40" y="662.55" width="17.94" height="9.25" fill="#9c14c8"/>
<rect x="155.04" y="662.55" width="17.94" height="9.25" fill="#fdfdfd"/>
<rect x="172.68" y="662.55" width="17.94" height="9.25" fill="#a6c8c8"/>
<rect x="190.32" y="662.55" width="17.94" height="9.25" fill="#80b1b1"/>
<rect x="207.96" y="662.55" width="17.94" height="9.25" fill="#fdfdfd"/>
<rect x="137.40" y="671.50" width="17.94" height="9.25" fill="#b44fdc"/>
<rect x="155.04" y="671.50" width="17.94" height="9.25" fill="#cc7fe4"/>
<rect x="172.68" y="671.50" width="17.94" height="9.25" fill="#a6c8c8"/>
<rect x="190.32" y="671.50" width="17.94" height="9.25" fill="#a6c8c8"/>
<rect x="207.96" y="671.50" width="17.94" height="9.25" fill="#80b1b1"/>
<rect x="137.40" y="680.45" width="17.94" height="9.25" fill="#b44fdc"/>
<rect x="155.04" y="680.45" width="17.94" height="9.25" fill="#e2b2ee"/>
<rect x="172.68" y="680.45" width="17.94" height="9.25" fill="#80b1b1"/>
<rect x="190.32" y="680.45" width="17.94" height="9.25" fill="#80b1b1"/>
<rect x="207.96" y="680.45" width="17.94" height="9.25" fill="#c0d9d9"/>
</g>
<path d="M137.4 662.55H225.6M137.4 671.50H225.6M137.4 680.45H225.6M155.04 653.6V689.4M172.68 653.6V689.4M190.32 653.6V689.4M207.96 653.6V689.4" stroke="#fff" stroke-opacity=".45" stroke-width=".7" fill="none"/>
<rect x="137.4" y="653.6" width="88.2" height="35.8" fill="none" stroke="#777" stroke-width="1"/>
<g font-size="9.6" font-weight="bold" font-style="italic" stroke="#000" stroke-width=".3">
<text transform="translate(77.3 662.5) rotate(0.03)" textLength="57.6">La02G00929</text>
<text transform="translate(77.3 670.6) rotate(0.03)" textLength="57.6">La09G02567</text>
<text transform="translate(77.3 678.8) rotate(0.03)" textLength="57.6">La16G00137</text>
<text transform="translate(77.3 686.9) rotate(0.03)" textLength="57.6">La26G00503</text>
</g>
<g shape-rendering="crispEdges">
<rect x="138.30" y="759.30" width="18.20" height="8.47" fill="#a6c8c8"/>
<rect x="156.20" y="759.30" width="18.20" height="8.47" fill="#9c1cf0"/>
<rect x="174.10" y="759.30" width="18.20" height="8.47" fill="#a6c8c8"/>
<rect x="192.00" y="759.30" width="18.20" height="8.47" fill="#e6efef"/>
<rect x="209.90" y="759.30" width="18.20" height="8.47" fill="#a6c8c8"/>
<rect x="138.30" y="767.47" width="18.20" height="8.47" fill="#9c1cf0"/>
<rect x="156.20" y="767.47" width="18.20" height="8.47" fill="#fdfdfd"/>
<rect x="174.10" y="767.47" width="18.20" height="8.47" fill="#4a9292"/>
<rect x="192.00" y="767.47" width="18.20" height="8.47" fill="#c0d9d9"/>
<rect x="209.90" y="767.47" width="18.20" height="8.47" fill="#f3e4fd"/>
<rect x="138.30" y="775.64" width="18.20" height="8.47" fill="#b050f4"/>
<rect x="156.20" y="775.64" width="18.20" height="8.47" fill="#c47ff6"/>
<rect x="174.10" y="775.64" width="18.20" height="8.47" fill="#80b1b1"/>
<rect x="192.00" y="775.64" width="18.20" height="8.47" fill="#e4c4fb"/>
<rect x="209.90" y="775.64" width="18.20" height="8.47" fill="#4a9292"/>
<rect x="138.30" y="783.81" width="18.20" height="8.47" fill="#c0d9d9"/>
<rect x="156.20" y="783.81" width="18.20" height="8.47" fill="#f3e4fd"/>
<rect x="174.10" y="783.81" width="18.20" height="8.47" fill="#4a9292"/>
<rect x="192.00" y="783.81" width="18.20" height="8.47" fill="#e6efef"/>
<rect x="209.90" y="783.81" width="18.20" height="8.47" fill="#9c1cf0"/>
<rect x="138.30" y="791.99" width="18.20" height="8.47" fill="#1b7171"/>
<rect x="156.20" y="791.99" width="18.20" height="8.47" fill="#b050f4"/>
<rect x="174.10" y="791.99" width="18.20" height="8.47" fill="#e6efef"/>
<rect x="192.00" y="791.99" width="18.20" height="8.47" fill="#e4c4fb"/>
<rect x="209.90" y="791.99" width="18.20" height="8.47" fill="#f3e4fd"/>
<rect x="138.30" y="800.16" width="18.20" height="8.47" fill="#e4c4fb"/>
<rect x="156.20" y="800.16" width="18.20" height="8.47" fill="#9c1cf0"/>
<rect x="174.10" y="800.16" width="18.20" height="8.47" fill="#4a9292"/>
<rect x="192.00" y="800.16" width="18.20" height="8.47" fill="#c0d9d9"/>
<rect x="209.90" y="800.16" width="18.20" height="8.47" fill="#c0d9d9"/>
<rect x="138.30" y="808.33" width="18.20" height="8.47" fill="#c47ff6"/>
<rect x="156.20" y="808.33" width="18.20" height="8.47" fill="#e4c4fb"/>
<rect x="174.10" y="808.33" width="18.20" height="8.47" fill="#4a9292"/>
<rect x="192.00" y="808.33" width="18.20" height="8.47" fill="#80b1b1"/>
<rect x="209.90" y="808.33" width="18.20" height="8.47" fill="#b050f4"/>
</g>
<path d="M138.3 767.47H227.8M138.3 775.64H227.8M138.3 783.81H227.8M138.3 791.99H227.8M138.3 800.16H227.8M138.3 808.33H227.8M156.20 759.3V816.5M174.10 759.3V816.5M192.00 759.3V816.5M209.90 759.3V816.5" stroke="#fff" stroke-opacity=".45" stroke-width=".7" fill="none"/>
<rect x="138.3" y="759.3" width="89.5" height="57.2" fill="none" stroke="#777" stroke-width="1"/>
<g font-size="9.6" font-weight="bold" font-style="italic" stroke="#000" stroke-width=".3">
<text transform="translate(77.7 766.6) rotate(0.03)" textLength="57.5">La04G03136</text>
<text transform="translate(77.7 774.8) rotate(0.03)" textLength="57.5">La08G00590</text>
<text transform="translate(77.7 783.0) rotate(0.03)" textLength="57.5">La08G00604</text>
<text transform="translate(77.7 791.1) rotate(0.03)" textLength="57.5">La19G00315</text>
<text transform="translate(77.7 799.2) rotate(0.03)" textLength="57.5">La19G00324</text>
<text transform="translate(77.7 807.4) rotate(0.03)" textLength="57.5">La24G01236</text>
<text transform="translate(77.7 815.6) rotate(0.03)" textLength="57.5">La24G01238</text>
</g>
<g shape-rendering="crispEdges">
<rect x="399.10" y="911.40" width="18.10" height="8.47" fill="#a6c8c8"/>
<rect x="416.90" y="911.40" width="18.10" height="8.47" fill="#a6c8c8"/>
<rect x="434.70" y="911.40" width="18.10" height="8.47" fill="#a6c8c8"/>
<rect x="452.50" y="911.40" width="18.10" height="8.47" fill="#c0d9d9"/>
<rect x="470.30" y="911.40" width="18.10" height="8.47" fill="#9c1cf0"/>
<rect x="399.10" y="919.57" width="18.10" height="8.47" fill="#a6c8c8"/>
<rect x="416.90" y="919.57" width="18.10" height="8.47" fill="#a6c8c8"/>
<rect x="434.70" y="919.57" width="18.10" height="8.47" fill="#a6c8c8"/>
<rect x="452.50" y="919.57" width="18.10" height="8.47" fill="#fdfdfd"/>
<rect x="470.30" y="919.57" width="18.10" height="8.47" fill="#9c1cf0"/>
<rect x="399.10" y="927.74" width="18.10" height="8.47" fill="#9c1cf0"/>
<rect x="416.90" y="927.74" width="18.10" height="8.47" fill="#e4c4fb"/>
<rect x="434.70" y="927.74" width="18.10" height="8.47" fill="#80b1b1"/>
<rect x="452.50" y="927.74" width="18.10" height="8.47" fill="#c0d9d9"/>
<rect x="470.30" y="927.74" width="18.10" height="8.47" fill="#a6c8c8"/>
<rect x="399.10" y="935.91" width="18.10" height="8.47" fill="#a6c8c8"/>
<rect x="416.90" y="935.91" width="18.10" height="8.47" fill="#c0d9d9"/>
<rect x="434.70" y="935.91" width="18.10" height="8.47" fill="#c0d9d9"/>
<rect x="452.50" y="935.91" width="18.10" height="8.47" fill="#a6c8c8"/>
<rect x="470.30" y="935.91" width="18.10" height="8.47" fill="#9c1cf0"/>
<rect x="399.10" y="944.09" width="18.10" height="8.47" fill="#c0d9d9"/>
<rect x="416.90" y="944.09" width="18.10" height="8.47" fill="#a6c8c8"/>
<rect x="434.70" y="944.09" width="18.10" height="8.47" fill="#c0d9d9"/>
<rect x="452.50" y="944.09" width="18.10" height="8.47" fill="#a6c8c8"/>
<rect x="470.30" y="944.09" width="18.10" height="8.47" fill="#9c1cf0"/>
<rect x="399.10" y="952.26" width="18.10" height="8.47" fill="#a6c8c8"/>
<rect x="416.90" y="952.26" width="18.10" height="8.47" fill="#c0d9d9"/>
<rect x="434.70" y="952.26" width="18.10" height="8.47" fill="#c0d9d9"/>
<rect x="452.50" y="952.26" width="18.10" height="8.47" fill="#c0d9d9"/>
<rect x="470.30" y="952.26" width="18.10" height="8.47" fill="#9c1cf0"/>
<rect x="399.10" y="960.43" width="18.10" height="8.47" fill="#9c1cf0"/>
<rect x="416.90" y="960.43" width="18.10" height="8.47" fill="#a6c8c8"/>
<rect x="434.70" y="960.43" width="18.10" height="8.47" fill="#c0d9d9"/>
<rect x="452.50" y="960.43" width="18.10" height="8.47" fill="#c0d9d9"/>
<rect x="470.30" y="960.43" width="18.10" height="8.47" fill="#a6c8c8"/>
</g>
<path d="M399.1 919.57H488.1M399.1 927.74H488.1M399.1 935.91H488.1M399.1 944.09H488.1M399.1 952.26H488.1M399.1 960.43H488.1M416.90 911.4V968.6M434.70 911.4V968.6M452.50 911.4V968.6M470.30 911.4V968.6" stroke="#fff" stroke-opacity=".45" stroke-width=".7" fill="none"/>
<rect x="399.1" y="911.4" width="89.0" height="57.2" fill="none" stroke="#777" stroke-width="1"/>
<g font-size="9.6" font-weight="bold" font-style="italic" stroke="#000" stroke-width=".3">
<text transform="translate(338.3 918.8) rotate(0.03)" textLength="57.5">La03G00295</text>
<text transform="translate(338.3 926.9) rotate(0.03)" textLength="57.5">La03G00296</text>
<text transform="translate(338.3 935.1) rotate(0.03)" textLength="57.5">La10G01779</text>
<text transform="translate(338.3 943.2) rotate(0.03)" textLength="57.5">La13G01544</text>
<text transform="translate(338.3 951.4) rotate(0.03)" textLength="57.5">La13G01545</text>
<text transform="translate(338.3 959.5) rotate(0.03)" textLength="57.5">La13G01571</text>
<text transform="translate(338.3 967.7) rotate(0.03)" textLength="57.5">La13G01572</text>
</g>
<g shape-rendering="crispEdges">
<rect x="832.30" y="47.80" width="17.94" height="8.46" fill="#1b7171"/>
<rect x="849.94" y="47.80" width="17.94" height="8.46" fill="#fdfdfd"/>
<rect x="867.58" y="47.80" width="17.94" height="8.46" fill="#cc7fe4"/>
<rect x="885.22" y="47.80" width="17.94" height="8.46" fill="#cc7fe4"/>
<rect x="902.86" y="47.80" width="17.94" height="8.46" fill="#fdfdfd"/>
<rect x="832.30" y="55.96" width="17.94" height="8.46" fill="#4a9292"/>
<rect x="849.94" y="55.96" width="17.94" height="8.46" fill="#e6efef"/>
<rect x="867.58" y="55.96" width="17.94" height="8.46" fill="#80b1b1"/>
<rect x="885.22" y="55.96" width="17.94" height="8.46" fill="#cc7fe4"/>
<rect x="902.86" y="55.96" width="17.94" height="8.46" fill="#b44fdc"/>
<rect x="832.30" y="64.13" width="17.94" height="8.46" fill="#80b1b1"/>
<rect x="849.94" y="64.13" width="17.94" height="8.46" fill="#cc7fe4"/>
<rect x="867.58" y="64.13" width="17.94" height="8.46" fill="#4a9292"/>
<rect x="885.22" y="64.13" width="17.94" height="8.46" fill="#e6efef"/>
<rect x="902.86" y="64.13" width="17.94" height="8.46" fill="#b44fdc"/>
<rect x="832.30" y="72.29" width="17.94" height="8.46" fill="#a6c8c8"/>
<rect x="849.94" y="72.29" width="17.94" height="8.46" fill="#80b1b1"/>
<rect x="867.58" y="72.29" width="17.94" height="8.46" fill="#a6c8c8"/>
<rect x="885.22" y="72.29" width="17.94" height="8.46" fill="#b44fdc"/>
<rect x="902.86" y="72.29" width="17.94" height="8.46" fill="#cc7fe4"/>
<rect x="832.30" y="80.45" width="17.94" height="8.46" fill="#9c14c8"/>
<rect x="849.94" y="80.45" width="17.94" height="8.46" fill="#a6c8c8"/>
<rect x="867.58" y="80.45" width="17.94" height="8.46" fill="#80b1b1"/>
<rect x="885.22" y="80.45" width="17.94" height="8.46" fill="#f3e0f8"/>
<rect x="902.86" y="80.45" width="17.94" height="8.46" fill="#a6c8c8"/>
<rect x="832.30" y="88.62" width="17.94" height="8.46" fill="#9c14c8"/>
<rect x="849.94" y="88.62" width="17.94" height="8.46" fill="#a6c8c8"/>
<rect x="867.58" y="88.62" width="17.94" height="8.46" fill="#80b1b1"/>
<rect x="885.22" y="88.62" width="17.94" height="8.46" fill="#c0d9d9"/>
<rect x="902.86" y="88.62" width="17.94" height="8.46" fill="#f3e0f8"/>
<rect x="832.30" y="96.78" width="17.94" height="8.46" fill="#9c14c8"/>
<rect x="849.94" y="96.78" width="17.94" height="8.46" fill="#fdfdfd"/>
<rect x="867.58" y="96.78" width="17.94" height="8.46" fill="#a6c8c8"/>
<rect x="885.22" y="96.78" width="17.94" height="8.46" fill="#80b1b1"/>
<rect x="902.86" y="96.78" width="17.94" height="8.46" fill="#fdfdfd"/>
<rect x="832.30" y="104.95" width="17.94" height="8.46" fill="#80b1b1"/>
<rect x="849.94" y="104.95" width="17.94" height="8.46" fill="#b44fdc"/>
<rect x="867.58" y="104.95" width="17.94" height="8.46" fill="#cc7fe4"/>
<rect x="885.22" y="104.95" width="17.94" height="8.46" fill="#a6c8c8"/>
<rect x="902.86" y="104.95" width="17.94" height="8.46" fill="#80b1b1"/>
<rect x="832.30" y="113.11" width="17.94" height="8.46" fill="#c0d9d9"/>
<rect x="849.94" y="113.11" width="17.94" height="8.46" fill="#c0d9d9"/>
<rect x="867.58" y="113.11" width="17.94" height="8.46" fill="#c0d9d9"/>
<rect x="885.22" y="113.11" width="17.94" height="8.46" fill="#c0d9d9"/>
<rect x="902.86" y="113.11" width="17.94" height="8.46" fill="#9c14c8"/>
<rect x="832.30" y="121.27" width="17.94" height="8.46" fill="#a6c8c8"/>
<rect x="849.94" y="121.27" width="17.94" height="8.46" fill="#b44fdc"/>
<rect x="867.58" y="121.27" width="17.94" height="8.46" fill="#4a9292"/>
<rect x="885.22" y="121.27" width="17.94" height="8.46" fill="#cc7fe4"/>
<rect x="902.86" y="121.27" width="17.94" height="8.46" fill="#e6efef"/>
<rect x="832.30" y="129.44" width="17.94" height="8.46" fill="#c0d9d9"/>
<rect x="849.94" y="129.44" width="17.94" height="8.46" fill="#c0d9d9"/>
<rect x="867.58" y="129.44" width="17.94" height="8.46" fill="#a6c8c8"/>
<rect x="885.22" y="129.44" width="17.94" height="8.46" fill="#9c14c8"/>
<rect x="902.86" y="129.44" width="17.94" height="8.46" fill="#c0d9d9"/>
<rect x="832.30" y="137.60" width="17.94" height="8.46" fill="#c0d9d9"/>
<rect x="849.94" y="137.60" width="17.94" height="8.46" fill="#c0d9d9"/>
<rect x="867.58" y="137.60" width="17.94" height="8.46" fill="#c0d9d9"/>
<rect x="885.22" y="137.60" width="17.94" height="8.46" fill="#9c14c8"/>
<rect x="902.86" y="137.60" width="17.94" height="8.46" fill="#e6efef"/>
<rect x="832.30" y="145.76" width="17.94" height="8.46" fill="#80b1b1"/>
<rect x="849.94" y="145.76" width="17.94" height="8.46" fill="#a6c8c8"/>
<rect x="867.58" y="145.76" width="17.94" height="8.46" fill="#a6c8c8"/>
<rect x="885.22" y="145.76" width="17.94" height="8.46" fill="#b44fdc"/>
<rect x="902.86" y="145.76" width="17.94" height="8.46" fill="#cc7fe4"/>
<rect x="832.30" y="153.93" width="17.94" height="8.46" fill="#cc7fe4"/>
<rect x="849.94" y="153.93" width="17.94" height="8.46" fill="#e6efef"/>
<rect x="867.58" y="153.93" width="17.94" height="8.46" fill="#1b7171"/>
<rect x="885.22" y="153.93" width="17.94" height="8.46" fill="#cc7fe4"/>
<rect x="902.86" y="153.93" width="17.94" height="8.46" fill="#f3e0f8"/>
<rect x="832.30" y="162.09" width="17.94" height="8.46" fill="#80b1b1"/>
<rect x="849.94" y="162.09" width="17.94" height="8.46" fill="#b44fdc"/>
<rect x="867.58" y="162.09" width="17.94" height="8.46" fill="#cc7fe4"/>
<rect x="885.22" y="162.09" width="17.94" height="8.46" fill="#c0d9d9"/>
<rect x="902.86" y="162.09" width="17.94" height="8.46" fill="#a6c8c8"/>
<rect x="832.30" y="170.25" width="17.94" height="8.46" fill="#a6c8c8"/>
<rect x="849.94" y="170.25" width="17.94" height="8.46" fill="#a6c8c8"/>
<rect x="867.58" y="170.25" width="17.94" height="8.46" fill="#a6c8c8"/>
<rect x="885.22" y="170.25" width="17.94" height="8.46" fill="#b44fdc"/>
<rect x="902.86" y="170.25" width="17.94" height="8.46" fill="#cc7fe4"/>
<rect x="832.30" y="178.42" width="17.94" height="8.46" fill="#c0d9d9"/>
<rect x="849.94" y="178.42" width="17.94" height="8.46" fill="#c0d9d9"/>
<rect x="867.58" y="178.42" width="17.94" height="8.46" fill="#c0d9d9"/>
<rect x="885.22" y="178.42" width="17.94" height="8.46" fill="#c0d9d9"/>
<rect x="902.86" y="178.42" width="17.94" height="8.46" fill="#9c14c8"/>
<rect x="832.30" y="186.58" width="17.94" height="8.46" fill="#9c14c8"/>
<rect x="849.94" y="186.58" width="17.94" height="8.46" fill="#a6c8c8"/>
<rect x="867.58" y="186.58" width="17.94" height="8.46" fill="#a6c8c8"/>
<rect x="885.22" y="186.58" width="17.94" height="8.46" fill="#a6c8c8"/>
<rect x="902.86" y="186.58" width="17.94" height="8.46" fill="#e2b2ee"/>
<rect x="832.30" y="194.75" width="17.94" height="8.46" fill="#9c14c8"/>
<rect x="849.94" y="194.75" width="17.94" height="8.46" fill="#a6c8c8"/>
<rect x="867.58" y="194.75" width="17.94" height="8.46" fill="#a6c8c8"/>
<rect x="885.22" y="194.75" width="17.94" height="8.46" fill="#a6c8c8"/>
<rect x="902.86" y="194.75" width="17.94" height="8.46" fill="#f3e0f8"/>
<rect x="832.30" y="202.91" width="17.94" height="8.46" fill="#80b1b1"/>
<rect x="849.94" y="202.91" width="17.94" height="8.46" fill="#c0d9d9"/>
<rect x="867.58" y="202.91" width="17.94" height="8.46" fill="#80b1b1"/>
<rect x="885.22" y="202.91" width="17.94" height="8.46" fill="#e2b2ee"/>
<rect x="902.86" y="202.91" width="17.94" height="8.46" fill="#9c14c8"/>
<rect x="832.30" y="211.07" width="17.94" height="8.46" fill="#80b1b1"/>
<rect x="849.94" y="211.07" width="17.94" height="8.46" fill="#fdfdfd"/>
<rect x="867.58" y="211.07" width="17.94" height="8.46" fill="#cc7fe4"/>
<rect x="885.22" y="211.07" width="17.94" height="8.46" fill="#4a9292"/>
<rect x="902.86" y="211.07" width="17.94" height="8.46" fill="#b44fdc"/>
<rect x="832.30" y="219.24" width="17.94" height="8.46" fill="#c0d9d9"/>
<rect x="849.94" y="219.24" width="17.94" height="8.46" fill="#c0d9d9"/>
<rect x="867.58" y="219.24" width="17.94" height="8.46" fill="#c0d9d9"/>
<rect x="885.22" y="219.24" width="17.94" height="8.46" fill="#9c14c8"/>
<rect x="902.86" y="219.24" width="17.94" height="8.46" fill="#e6efef"/>
</g>
<path d="M832.3 55.96H920.5M832.3 64.13H920.5M832.3 72.29H920.5M832.3 80.45H920.5M832.3 88.62H920.5M832.3 96.78H920.5M832.3 104.95H920.5M832.3 113.11H920.5M832.3 121.27H920.5M832.3 129.44H920.5M832.3 137.60H920.5M832.3 145.76H920.5M832.3 153.93H920.5M832.3 162.09H920.5M832.3 170.25H920.5M832.3 178.42H920.5M832.3 186.58H920.5M832.3 194.75H920.5M832.3 202.91H920.5M832.3 211.07H920.5M832.3 219.24H920.5M849.94 47.8V227.4M867.58 47.8V227.4M885.22 47.8V227.4M902.86 47.8V227.4" stroke="#fff" stroke-opacity=".45" stroke-width=".7" fill="none"/>
<rect x="832.3" y="47.8" width="88.2" height="179.6" fill="none" stroke="#777" stroke-width="1"/>
<g font-size="9.6" font-weight="bold" font-style="italic" stroke="#000" stroke-width=".3">
<text transform="translate(769.2 55.2) rotate(0.03)" textLength="57.2">La00G04879</text>
<text transform="translate(769.2 63.4) rotate(0.03)" textLength="57.2">La00G05698</text>
<text transform="translate(769.2 71.5) rotate(0.03)" textLength="57.2">La01G00746</text>
<text transform="translate(769.2 79.7) rotate(0.03)" textLength="57.2">La01G02469</text>
<text transform="translate(769.2 87.8) rotate(0.03)" textLength="57.2">La02G02002</text>
<text transform="translate(769.2 96.0) rotate(0.03)" textLength="57.2">La02G02102</text>
<text transform="translate(769.2 104.1) rotate(0.03)" textLength="57.2">La03G00622</text>
<text transform="translate(769.2 112.3) rotate(0.03)" textLength="57.2">La07G01277</text>
<text transform="translate(769.2 120.4) rotate(0.03)" textLength="57.2">La11G00786</text>
<text transform="translate(769.2 128.6) rotate(0.03)" textLength="57.2">La11G01712</text>
<text transform="translate(769.2 136.7) rotate(0.03)" textLength="57.2">La12G01349</text>
<text transform="translate(769.2 144.9) rotate(0.03)" textLength="57.2">La12G01365</text>
<text transform="translate(769.2 153.0) rotate(0.03)" textLength="57.2">La13G01255</text>
<text transform="translate(769.2 161.2) rotate(0.03)" textLength="57.2">La16G01463</text>
<text transform="translate(769.2 169.3) rotate(0.03)" textLength="57.2">La17G01254</text>
<text transform="translate(769.2 177.5) rotate(0.03)" textLength="57.2">La21G01149</text>
<text transform="translate(769.2 185.6) rotate(0.03)" textLength="57.2">La23G00913</text>
<text transform="translate(769.2 193.8) rotate(0.03)" textLength="57.2">La25G00279</text>
<text transform="translate(769.2 201.9) rotate(0.03)" textLength="57.2">La25G00296</text>
<text transform="translate(769.2 210.1) rotate(0.03)" textLength="57.2">La22G01333</text>
<text transform="translate(769.2 218.2) rotate(0.03)" textLength="57.2">La22G01334</text>
<text transform="translate(769.2 226.4) rotate(0.03)" textLength="57.2">La12G01366</text>
</g>
<g shape-rendering="crispEdges">
<rect x="832.30" y="238.90" width="18.00" height="8.23" fill="#a6c8c8"/>
<rect x="850.00" y="238.90" width="18.00" height="8.23" fill="#c0d9d9"/>
<rect x="867.70" y="238.90" width="18.00" height="8.23" fill="#a6c8c8"/>
<rect x="885.40" y="238.90" width="18.00" height="8.23" fill="#e6efef"/>
<rect x="903.10" y="238.90" width="18.00" height="8.23" fill="#9c14c8"/>
<rect x="832.30" y="246.83" width="18.00" height="8.23" fill="#a6c8c8"/>
<rect x="850.00" y="246.83" width="18.00" height="8.23" fill="#c0d9d9"/>
<rect x="867.70" y="246.83" width="18.00" height="8.23" fill="#c0d9d9"/>
<rect x="885.40" y="246.83" width="18.00" height="8.23" fill="#c0d9d9"/>
<rect x="903.10" y="246.83" width="18.00" height="8.23" fill="#9c14c8"/>
<rect x="832.30" y="254.75" width="18.00" height="8.23" fill="#80b1b1"/>
<rect x="850.00" y="254.75" width="18.00" height="8.23" fill="#a6c8c8"/>
<rect x="867.70" y="254.75" width="18.00" height="8.23" fill="#80b1b1"/>
<rect x="885.40" y="254.75" width="18.00" height="8.23" fill="#b44fdc"/>
<rect x="903.10" y="254.75" width="18.00" height="8.23" fill="#cc7fe4"/>
<rect x="832.30" y="262.68" width="18.00" height="8.23" fill="#a6c8c8"/>
<rect x="850.00" y="262.68" width="18.00" height="8.23" fill="#a6c8c8"/>
<rect x="867.70" y="262.68" width="18.00" height="8.23" fill="#c0d9d9"/>
<rect x="885.40" y="262.68" width="18.00" height="8.23" fill="#fdfdfd"/>
<rect x="903.10" y="262.68" width="18.00" height="8.23" fill="#9c14c8"/>
<rect x="832.30" y="270.60" width="18.00" height="8.23" fill="#c0d9d9"/>
<rect x="850.00" y="270.60" width="18.00" height="8.23" fill="#a6c8c8"/>
<rect x="867.70" y="270.60" width="18.00" height="8.23" fill="#c0d9d9"/>
<rect x="885.40" y="270.60" width="18.00" height="8.23" fill="#a6c8c8"/>
<rect x="903.10" y="270.60" width="18.00" height="8.23" fill="#9c14c8"/>
<rect x="832.30" y="278.52" width="18.00" height="8.23" fill="#c0d9d9"/>
<rect x="850.00" y="278.52" width="18.00" height="8.23" fill="#c0d9d9"/>
<rect x="867.70" y="278.52" width="18.00" height="8.23" fill="#c0d9d9"/>
<rect x="885.40" y="278.52" width="18.00" height="8.23" fill="#c0d9d9"/>
<rect x="903.10" y="278.52" width="18.00" height="8.23" fill="#9c14c8"/>
<rect x="832.30" y="286.45" width="18.00" height="8.23" fill="#80b1b1"/>
<rect x="850.00" y="286.45" width="18.00" height="8.23" fill="#a6c8c8"/>
<rect x="867.70" y="286.45" width="18.00" height="8.23" fill="#fdfdfd"/>
<rect x="885.40" y="286.45" width="18.00" height="8.23" fill="#9c14c8"/>
<rect x="903.10" y="286.45" width="18.00" height="8.23" fill="#c0d9d9"/>
<rect x="832.30" y="294.38" width="18.00" height="8.23" fill="#a6c8c8"/>
<rect x="850.00" y="294.38" width="18.00" height="8.23" fill="#c0d9d9"/>
<rect x="867.70" y="294.38" width="18.00" height="8.23" fill="#fdfdfd"/>
<rect x="885.40" y="294.38" width="18.00" height="8.23" fill="#9c14c8"/>
<rect x="903.10" y="294.38" width="18.00" height="8.23" fill="#a6c8c8"/>
</g>
<path d="M832.3 246.83H920.8M832.3 254.75H920.8M832.3 262.68H920.8M832.3 270.60H920.8M832.3 278.52H920.8M832.3 286.45H920.8M832.3 294.38H920.8M850.00 238.9V302.3M867.70 238.9V302.3M885.40 238.9V302.3M903.10 238.9V302.3" stroke="#fff" stroke-opacity=".45" stroke-width=".7" fill="none"/>
<rect x="832.3" y="238.9" width="88.5" height="63.4" fill="none" stroke="#777" stroke-width="1"/>
<g font-size="9.6" font-weight="bold" font-style="italic" stroke="#000" stroke-width=".3">
<text transform="translate(769.2 246.1) rotate(0.03)" textLength="57.2">La00G00364</text>
<text transform="translate(769.2 254.0) rotate(0.03)" textLength="57.2">La00G05286</text>
<text transform="translate(769.2 261.9) rotate(0.03)" textLength="57.2">La03G01458</text>
<text transform="translate(769.2 269.8) rotate(0.03)" textLength="57.2">La03G01462</text>
<text transform="translate(769.2 277.8) rotate(0.03)" textLength="57.2">La03G02975</text>
<text transform="translate(769.2 285.7) rotate(0.03)" textLength="57.2">La05G00482</text>
<text transform="translate(769.2 293.6) rotate(0.03)" textLength="57.2">La05G01876</text>
<text transform="translate(769.2 301.5) rotate(0.03)" textLength="57.2">La05G01897</text>
</g>
<g shape-rendering="crispEdges">
<rect x="832.30" y="325.30" width="18.00" height="10.45" fill="#4a9292"/>
<rect x="850.00" y="325.30" width="18.00" height="10.45" fill="#e2b2ee"/>
<rect x="867.70" y="325.30" width="18.00" height="10.45" fill="#f3e0f8"/>
<rect x="885.40" y="325.30" width="18.00" height="10.45" fill="#a6c8c8"/>
<rect x="903.10" y="325.30" width="18.00" height="10.45" fill="#b44fdc"/>
<rect x="832.30" y="335.45" width="18.00" height="10.45" fill="#80b1b1"/>
<rect x="850.00" y="335.45" width="18.00" height="10.45" fill="#fdfdfd"/>
<rect x="867.70" y="335.45" width="18.00" height="10.45" fill="#e6efef"/>
<rect x="885.40" y="335.45" width="18.00" height="10.45" fill="#a6c8c8"/>
<rect x="903.10" y="335.45" width="18.00" height="10.45" fill="#9c14c8"/>
</g>
<path d="M832.3 335.45H920.8M850.00 325.3V345.6M867.70 325.3V345.6M885.40 325.3V345.6M903.10 325.3V345.6" stroke="#fff" stroke-opacity=".45" stroke-width=".7" fill="none"/>
<rect x="832.3" y="325.3" width="88.5" height="20.3" fill="none" stroke="#777" stroke-width="1"/>
<g font-size="9.6" font-weight="bold" font-style="italic" stroke="#000" stroke-width=".3">
<text transform="translate(769.2 334.4) rotate(0.03)" textLength="57.2">La00G04526</text>
<text transform="translate(769.2 342.9) rotate(0.03)" textLength="57.2">La22G02856</text>
</g>
<g shape-rendering="crispEdges">
<rect x="832.20" y="405.70" width="18.02" height="9.75" fill="#c0d9d9"/>
<rect x="849.92" y="405.70" width="18.02" height="9.75" fill="#a6c8c8"/>
<rect x="867.64" y="405.70" width="18.02" height="9.75" fill="#c0d9d9"/>
<rect x="885.36" y="405.70" width="18.02" height="9.75" fill="#c0d9d9"/>
<rect x="903.08" y="405.70" width="18.02" height="9.75" fill="#9c14c8"/>
<rect x="832.20" y="415.15" width="18.02" height="9.75" fill="#c0d9d9"/>
<rect x="849.92" y="415.15" width="18.02" height="9.75" fill="#a6c8c8"/>
<rect x="867.64" y="415.15" width="18.02" height="9.75" fill="#a6c8c8"/>
<rect x="885.36" y="415.15" width="18.02" height="9.75" fill="#c0d9d9"/>
<rect x="903.08" y="415.15" width="18.02" height="9.75" fill="#9c14c8"/>
</g>
<path d="M832.2 415.15H920.8M849.92 405.7V424.6M867.64 405.7V424.6M885.36 405.7V424.6M903.08 405.7V424.6" stroke="#fff" stroke-opacity=".45" stroke-width=".7" fill="none"/>
<rect x="832.2" y="405.7" width="88.6" height="18.9" fill="none" stroke="#777" stroke-width="1"/>
<g font-size="9.6" font-weight="bold" font-style="italic" stroke="#000" stroke-width=".3">
<text transform="translate(769.2 414.1) rotate(0.03)" textLength="57.2">La11G00442</text>
<text transform="translate(769.2 422.6) rotate(0.03)" textLength="57.2">La23G00639</text>
</g>
<g shape-rendering="crispEdges">
<rect x="831.60" y="486.50" width="18.08" height="8.85" fill="#c0d9d9"/>
<rect x="849.38" y="486.50" width="18.08" height="8.85" fill="#a6c8c8"/>
<rect x="867.16" y="486.50" width="18.08" height="8.85" fill="#c0d9d9"/>
<rect x="884.94" y="486.50" width="18.08" height="8.85" fill="#c0d9d9"/>
<rect x="902.72" y="486.50" width="18.08" height="8.85" fill="#9c14c8"/>
<rect x="831.60" y="495.05" width="18.08" height="8.85" fill="#a6c8c8"/>
<rect x="849.38" y="495.05" width="18.08" height="8.85" fill="#80b1b1"/>
<rect x="867.16" y="495.05" width="18.08" height="8.85" fill="#fdfdfd"/>
<rect x="884.94" y="495.05" width="18.08" height="8.85" fill="#e6efef"/>
<rect x="902.72" y="495.05" width="18.08" height="8.85" fill="#9c14c8"/>
<rect x="831.60" y="503.60" width="18.08" height="8.85" fill="#4a9292"/>
<rect x="849.38" y="503.60" width="18.08" height="8.85" fill="#4a9292"/>
<rect x="867.16" y="503.60" width="18.08" height="8.85" fill="#cc7fe4"/>
<rect x="884.94" y="503.60" width="18.08" height="8.85" fill="#e6efef"/>
<rect x="902.72" y="503.60" width="18.08" height="8.85" fill="#b44fdc"/>
<rect x="831.60" y="512.15" width="18.08" height="8.85" fill="#a6c8c8"/>
<rect x="849.38" y="512.15" width="18.08" height="8.85" fill="#a6c8c8"/>
<rect x="867.16" y="512.15" width="18.08" height="8.85" fill="#c0d9d9"/>
<rect x="884.94" y="512.15" width="18.08" height="8.85" fill="#fdfdfd"/>
<rect x="902.72" y="512.15" width="18.08" height="8.85" fill="#9c14c8"/>
</g>
<path d="M831.6 495.05H920.5M831.6 503.60H920.5M831.6 512.15H920.5M849.38 486.5V520.7M867.16 486.5V520.7M884.94 486.5V520.7M902.72 486.5V520.7" stroke="#fff" stroke-opacity=".45" stroke-width=".7" fill="none"/>
<rect x="831.6" y="486.5" width="88.9" height="34.2" fill="none" stroke="#777" stroke-width="1"/>
<g font-size="9.6" font-weight="bold" font-style="italic" stroke="#000" stroke-width=".3">
<text transform="translate(769.2 494.6) rotate(0.03)" textLength="57.2">La22G00541</text>
<text transform="translate(769.2 502.7) rotate(0.03)" textLength="57.2">La23G01959</text>
<text transform="translate(769.2 510.9) rotate(0.03)" textLength="57.2">La23G02008</text>
<text transform="translate(769.2 519.0) rotate(0.03)" textLength="57.2">La26G00196</text>
</g>
<g shape-rendering="crispEdges">
<rect x="832.30" y="561.10" width="18.04" height="8.26" fill="#80b1b1"/>
<rect x="850.04" y="561.10" width="18.04" height="8.26" fill="#80b1b1"/>
<rect x="867.78" y="561.10" width="18.04" height="8.26" fill="#e6efef"/>
<rect x="885.52" y="561.10" width="18.04" height="8.26" fill="#cc7fe4"/>
<rect x="903.26" y="561.10" width="18.04" height="8.26" fill="#b44fdc"/>
<rect x="832.30" y="569.06" width="18.04" height="8.26" fill="#a6c8c8"/>
<rect x="850.04" y="569.06" width="18.04" height="8.26" fill="#a6c8c8"/>
<rect x="867.78" y="569.06" width="18.04" height="8.26" fill="#c0d9d9"/>
<rect x="885.52" y="569.06" width="18.04" height="8.26" fill="#c0d9d9"/>
<rect x="903.26" y="569.06" width="18.04" height="8.26" fill="#9c14c8"/>
<rect x="832.30" y="577.02" width="18.04" height="8.26" fill="#a6c8c8"/>
<rect x="850.04" y="577.02" width="18.04" height="8.26" fill="#a6c8c8"/>
<rect x="867.78" y="577.02" width="18.04" height="8.26" fill="#a6c8c8"/>
<rect x="885.52" y="577.02" width="18.04" height="8.26" fill="#fdfdfd"/>
<rect x="903.26" y="577.02" width="18.04" height="8.26" fill="#9c14c8"/>
<rect x="832.30" y="584.98" width="18.04" height="8.26" fill="#4a9292"/>
<rect x="850.04" y="584.98" width="18.04" height="8.26" fill="#80b1b1"/>
<rect x="867.78" y="584.98" width="18.04" height="8.26" fill="#fdfdfd"/>
<rect x="885.52" y="584.98" width="18.04" height="8.26" fill="#cc7fe4"/>
<rect x="903.26" y="584.98" width="18.04" height="8.26" fill="#b44fdc"/>
<rect x="832.30" y="592.94" width="18.04" height="8.26" fill="#a6c8c8"/>
<rect x="850.04" y="592.94" width="18.04" height="8.26" fill="#a6c8c8"/>
<rect x="867.78" y="592.94" width="18.04" height="8.26" fill="#c0d9d9"/>
<rect x="885.52" y="592.94" width="18.04" height="8.26" fill="#c0d9d9"/>
<rect x="903.26" y="592.94" width="18.04" height="8.26" fill="#9c14c8"/>
</g>
<path d="M832.3 569.06H921.0M832.3 577.02H921.0M832.3 584.98H921.0M832.3 592.94H921.0M850.04 561.1V600.9M867.78 561.1V600.9M885.52 561.1V600.9M903.26 561.1V600.9" stroke="#fff" stroke-opacity=".45" stroke-width=".7" fill="none"/>
<rect x="832.3" y="561.1" width="88.7" height="39.8" fill="none" stroke="#777" stroke-width="1"/>
<g font-size="9.6" font-weight="bold" font-style="italic" stroke="#000" stroke-width=".3">
<text transform="translate(769.2 568.3) rotate(0.03)" textLength="57.2">La00G01958</text>
<text transform="translate(769.2 576.2) rotate(0.03)" textLength="57.2">La02G00157</text>
<text transform="translate(769.2 584.2) rotate(0.03)" textLength="57.2">La07G02320</text>
<text transform="translate(769.2 592.2) rotate(0.03)" textLength="57.2">La11G00032</text>
<text transform="translate(769.2 600.1) rotate(0.03)" textLength="57.2">La13G02070</text>
</g>
<g shape-rendering="crispEdges">
<rect x="832.30" y="620.70" width="18.04" height="8.10" fill="#c0d9d9"/>
<rect x="850.04" y="620.70" width="18.04" height="8.10" fill="#a6c8c8"/>
<rect x="867.78" y="620.70" width="18.04" height="8.10" fill="#a6c8c8"/>
<rect x="885.52" y="620.70" width="18.04" height="8.10" fill="#e6efef"/>
<rect x="903.26" y="620.70" width="18.04" height="8.10" fill="#9c14c8"/>
<rect x="832.30" y="628.50" width="18.04" height="8.10" fill="#a6c8c8"/>
<rect x="850.04" y="628.50" width="18.04" height="8.10" fill="#c0d9d9"/>
<rect x="867.78" y="628.50" width="18.04" height="8.10" fill="#9c14c8"/>
<rect x="885.52" y="628.50" width="18.04" height="8.10" fill="#a6c8c8"/>
<rect x="903.26" y="628.50" width="18.04" height="8.10" fill="#c0d9d9"/>
<rect x="832.30" y="636.30" width="18.04" height="8.10" fill="#a6c8c8"/>
<rect x="850.04" y="636.30" width="18.04" height="8.10" fill="#e6efef"/>
<rect x="867.78" y="636.30" width="18.04" height="8.10" fill="#9c14c8"/>
<rect x="885.52" y="636.30" width="18.04" height="8.10" fill="#a6c8c8"/>
<rect x="903.26" y="636.30" width="18.04" height="8.10" fill="#c0d9d9"/>
<rect x="832.30" y="644.10" width="18.04" height="8.10" fill="#c0d9d9"/>
<rect x="850.04" y="644.10" width="18.04" height="8.10" fill="#a6c8c8"/>
<rect x="867.78" y="644.10" width="18.04" height="8.10" fill="#a6c8c8"/>
<rect x="885.52" y="644.10" width="18.04" height="8.10" fill="#f3e0f8"/>
<rect x="903.26" y="644.10" width="18.04" height="8.10" fill="#9c14c8"/>
<rect x="832.30" y="651.90" width="18.04" height="8.10" fill="#e2b2ee"/>
<rect x="850.04" y="651.90" width="18.04" height="8.10" fill="#a6c8c8"/>
<rect x="867.78" y="651.90" width="18.04" height="8.10" fill="#a6c8c8"/>
<rect x="885.52" y="651.90" width="18.04" height="8.10" fill="#a6c8c8"/>
<rect x="903.26" y="651.90" width="18.04" height="8.10" fill="#b44fdc"/>
</g>
<path d="M832.3 628.50H921.0M832.3 636.30H921.0M832.3 644.10H921.0M832.3 651.90H921.0M850.04 620.7V659.7M867.78 620.7V659.7M885.52 620.7V659.7M903.26 620.7V659.7" stroke="#fff" stroke-opacity=".45" stroke-width=".7" fill="none"/>
<rect x="832.3" y="620.7" width="88.7" height="39.0" fill="none" stroke="#777" stroke-width="1"/>
<g font-size="9.6" font-weight="bold" font-style="italic" stroke="#000" stroke-width=".3">
<text transform="translate(769.2 627.8) rotate(0.03)" textLength="57.2">La14G00284</text>
<text transform="translate(769.2 635.6) rotate(0.03)" textLength="57.2">La14G00285</text>
<text transform="translate(769.2 643.4) rotate(0.03)" textLength="57.2">La15G01603</text>
<text transform="translate(769.2 651.2) rotate(0.03)" textLength="57.2">La15G01604</text>
<text transform="translate(769.2 659.0) rotate(0.03)" textLength="57.2">La15G01609</text>
</g>
<g shape-rendering="crispEdges">
<rect x="895.70" y="669.50" width="18.14" height="8.26" fill="#c0d9d9"/>
<rect x="913.54" y="669.50" width="18.14" height="8.26" fill="#c0d9d9"/>
<rect x="931.38" y="669.50" width="18.14" height="8.26" fill="#c0d9d9"/>
<rect x="949.22" y="669.50" width="18.14" height="8.26" fill="#c0d9d9"/>
<rect x="967.06" y="669.50" width="18.14" height="8.26" fill="#9c14c8"/>
<rect x="895.70" y="677.46" width="18.14" height="8.26" fill="#f3e0f8"/>
<rect x="913.54" y="677.46" width="18.14" height="8.26" fill="#b44fdc"/>
<rect x="931.38" y="677.46" width="18.14" height="8.26" fill="#fdfdfd"/>
<rect x="949.22" y="677.46" width="18.14" height="8.26" fill="#1b7171"/>
<rect x="967.06" y="677.46" width="18.14" height="8.26" fill="#f3e0f8"/>
<rect x="895.70" y="685.42" width="18.14" height="8.26" fill="#f3e0f8"/>
<rect x="913.54" y="685.42" width="18.14" height="8.26" fill="#c0d9d9"/>
<rect x="931.38" y="685.42" width="18.14" height="8.26" fill="#a6c8c8"/>
<rect x="949.22" y="685.42" width="18.14" height="8.26" fill="#80b1b1"/>
<rect x="967.06" y="685.42" width="18.14" height="8.26" fill="#9c14c8"/>
<rect x="895.70" y="693.38" width="18.14" height="8.26" fill="#a6c8c8"/>
<rect x="913.54" y="693.38" width="18.14" height="8.26" fill="#a6c8c8"/>
<rect x="931.38" y="693.38" width="18.14" height="8.26" fill="#a6c8c8"/>
<rect x="949.22" y="693.38" width="18.14" height="8.26" fill="#fdfdfd"/>
<rect x="967.06" y="693.38" width="18.14" height="8.26" fill="#9c14c8"/>
<rect x="895.70" y="701.34" width="18.14" height="8.26" fill="#c0d9d9"/>
<rect x="913.54" y="701.34" width="18.14" height="8.26" fill="#c0d9d9"/>
<rect x="931.38" y="701.34" width="18.14" height="8.26" fill="#c0d9d9"/>
<rect x="949.22" y="701.34" width="18.14" height="8.26" fill="#c0d9d9"/>
<rect x="967.06" y="701.34" width="18.14" height="8.26" fill="#9c14c8"/>
</g>
<path d="M895.7 677.46H984.9M895.7 685.42H984.9M895.7 693.38H984.9M895.7 701.34H984.9M913.54 669.5V709.3M931.38 669.5V709.3M949.22 669.5V709.3M967.06 669.5V709.3" stroke="#fff" stroke-opacity=".45" stroke-width=".7" fill="none"/>
<rect x="895.7" y="669.5" width="89.2" height="39.8" fill="none" stroke="#777" stroke-width="1"/>
<g font-size="9.6" font-weight="bold" font-style="italic" stroke="#000" stroke-width=".3">
<text transform="translate(835.0 676.7) rotate(0.03)" textLength="57.4">La00G00156</text>
<text transform="translate(835.0 684.6) rotate(0.03)" textLength="57.4">La03G02957</text>
<text transform="translate(835.0 692.6) rotate(0.03)" textLength="57.4">La05G00002</text>
<text transform="translate(835.0 700.6) rotate(0.03)" textLength="57.4">La12G00077</text>
<text transform="translate(835.0 708.5) rotate(0.03)" textLength="57.4">La21G00029</text>
</g>
<text transform="translate(830.3 737.3) rotate(0.03)" font-size="9.6" font-style="italic" textLength="25.0" lengthAdjust="spacingAndGlyphs" stroke="#000" stroke-width=".3">LPPS</text>
<g shape-rendering="crispEdges">
<rect x="890.30" y="737.40" width="18.08" height="8.83" fill="#b050f4"/>
<rect x="908.08" y="737.40" width="18.08" height="8.83" fill="#c47ff6"/>
<rect x="925.86" y="737.40" width="18.08" height="8.83" fill="#80b1b1"/>
<rect x="943.64" y="737.40" width="18.08" height="8.83" fill="#80b1b1"/>
<rect x="961.42" y="737.40" width="18.08" height="8.83" fill="#c0d9d9"/>
<rect x="890.30" y="745.93" width="18.08" height="8.83" fill="#a6c8c8"/>
<rect x="908.08" y="745.93" width="18.08" height="8.83" fill="#9c1cf0"/>
<rect x="925.86" y="745.93" width="18.08" height="8.83" fill="#e6efef"/>
<rect x="943.64" y="745.93" width="18.08" height="8.83" fill="#c0d9d9"/>
<rect x="961.42" y="745.93" width="18.08" height="8.83" fill="#a6c8c8"/>
<rect x="890.30" y="754.47" width="18.08" height="8.83" fill="#9c1cf0"/>
<rect x="908.08" y="754.47" width="18.08" height="8.83" fill="#e6efef"/>
<rect x="925.86" y="754.47" width="18.08" height="8.83" fill="#e6efef"/>
<rect x="943.64" y="754.47" width="18.08" height="8.83" fill="#a6c8c8"/>
<rect x="961.42" y="754.47" width="18.08" height="8.83" fill="#a6c8c8"/>
</g>
<path d="M890.3 745.93H979.2M890.3 754.47H979.2M908.08 737.4V763.0M925.86 737.4V763.0M943.64 737.4V763.0M961.42 737.4V763.0" stroke="#fff" stroke-opacity=".45" stroke-width=".7" fill="none"/>
<rect x="890.3" y="737.4" width="88.9" height="25.6" fill="none" stroke="#777" stroke-width="1"/>
<g font-size="9.6" font-weight="bold" font-style="italic" stroke="#000" stroke-width=".3">
<text transform="translate(829.2 745.3) rotate(0.03)" textLength="57.5">La04G01914</text>
<text transform="translate(829.2 753.4) rotate(0.03)" textLength="57.5">La19G00823</text>
<text transform="translate(829.2 761.6) rotate(0.03)" textLength="57.5">La22G01675</text>
</g>
<text transform="translate(828.5 776.5) rotate(0.03)" font-size="9.6" font-style="italic" textLength="26.3" lengthAdjust="spacingAndGlyphs" stroke="#000" stroke-width=".3">GPPS</text>
<g shape-rendering="crispEdges">
<rect x="890.30" y="777.20" width="18.16" height="8.37" fill="#1b7171"/>
<rect x="908.16" y="777.20" width="18.16" height="8.37" fill="#f3e4fd"/>
<rect x="926.02" y="777.20" width="18.16" height="8.37" fill="#e6efef"/>
<rect x="943.88" y="777.20" width="18.16" height="8.37" fill="#b050f4"/>
<rect x="961.74" y="777.20" width="18.16" height="8.37" fill="#e4c4fb"/>
<rect x="890.30" y="785.28" width="18.16" height="8.37" fill="#e6efef"/>
<rect x="908.16" y="785.28" width="18.16" height="8.37" fill="#c0d9d9"/>
<rect x="926.02" y="785.28" width="18.16" height="8.37" fill="#4a9292"/>
<rect x="943.88" y="785.28" width="18.16" height="8.37" fill="#f3e4fd"/>
<rect x="961.74" y="785.28" width="18.16" height="8.37" fill="#9c1cf0"/>
<rect x="890.30" y="793.35" width="18.16" height="8.37" fill="#1b7171"/>
<rect x="908.16" y="793.35" width="18.16" height="8.37" fill="#c47ff6"/>
<rect x="926.02" y="793.35" width="18.16" height="8.37" fill="#e4c4fb"/>
<rect x="943.88" y="793.35" width="18.16" height="8.37" fill="#e6efef"/>
<rect x="961.74" y="793.35" width="18.16" height="8.37" fill="#c47ff6"/>
<rect x="890.30" y="801.42" width="18.16" height="8.37" fill="#c0d9d9"/>
<rect x="908.16" y="801.42" width="18.16" height="8.37" fill="#a6c8c8"/>
<rect x="926.02" y="801.42" width="18.16" height="8.37" fill="#80b1b1"/>
<rect x="943.88" y="801.42" width="18.16" height="8.37" fill="#9c1cf0"/>
<rect x="961.74" y="801.42" width="18.16" height="8.37" fill="#e4c4fb"/>
</g>
<path d="M890.3 785.28H979.6M890.3 793.35H979.6M890.3 801.42H979.6M908.16 777.2V809.5M926.02 777.2V809.5M943.88 777.2V809.5M961.74 777.2V809.5" stroke="#fff" stroke-opacity=".45" stroke-width=".7" fill="none"/>
<rect x="890.3" y="777.2" width="89.3" height="32.3" fill="none" stroke="#777" stroke-width="1"/>
<g font-size="9.6" font-weight="bold" font-style="italic" stroke="#000" stroke-width=".3">
<text transform="translate(829.2 784.4) rotate(0.03)" textLength="57.5">La06G01862</text>
<text transform="translate(829.2 792.5) rotate(0.03)" textLength="57.5">La08G01085</text>
<text transform="translate(829.2 800.6) rotate(0.03)" textLength="57.5">La10G00979</text>
<text transform="translate(829.2 808.7) rotate(0.03)" textLength="57.5">La24G00732</text>
</g>
<text transform="translate(830.3 822.4) rotate(0.03)" font-size="9.6" font-style="italic" textLength="34.2" lengthAdjust="spacingAndGlyphs" stroke="#000" stroke-width=".3">GGPPS</text>
<g shape-rendering="crispEdges">
<rect x="890.30" y="827.10" width="18.50" height="8.39" fill="#c0d9d9"/>
<rect x="908.50" y="827.10" width="18.50" height="8.39" fill="#c0d9d9"/>
<rect x="926.70" y="827.10" width="18.50" height="8.39" fill="#c0d9d9"/>
<rect x="944.90" y="827.10" width="18.50" height="8.39" fill="#c0d9d9"/>
<rect x="963.10" y="827.10" width="18.50" height="8.39" fill="#9c1cf0"/>
<rect x="890.30" y="835.19" width="18.50" height="8.39" fill="#b050f4"/>
<rect x="908.50" y="835.19" width="18.50" height="8.39" fill="#80b1b1"/>
<rect x="926.70" y="835.19" width="18.50" height="8.39" fill="#80b1b1"/>
<rect x="944.90" y="835.19" width="18.50" height="8.39" fill="#80b1b1"/>
<rect x="963.10" y="835.19" width="18.50" height="8.39" fill="#b050f4"/>
<rect x="890.30" y="843.28" width="18.50" height="8.39" fill="#c0d9d9"/>
<rect x="908.50" y="843.28" width="18.50" height="8.39" fill="#a6c8c8"/>
<rect x="926.70" y="843.28" width="18.50" height="8.39" fill="#a6c8c8"/>
<rect x="944.90" y="843.28" width="18.50" height="8.39" fill="#e6efef"/>
<rect x="963.10" y="843.28" width="18.50" height="8.39" fill="#9c1cf0"/>
<rect x="890.30" y="851.37" width="18.50" height="8.39" fill="#9c1cf0"/>
<rect x="908.50" y="851.37" width="18.50" height="8.39" fill="#a6c8c8"/>
<rect x="926.70" y="851.37" width="18.50" height="8.39" fill="#c0d9d9"/>
<rect x="944.90" y="851.37" width="18.50" height="8.39" fill="#4a9292"/>
<rect x="963.10" y="851.37" width="18.50" height="8.39" fill="#e4c4fb"/>
<rect x="890.30" y="859.46" width="18.50" height="8.39" fill="#a6c8c8"/>
<rect x="908.50" y="859.46" width="18.50" height="8.39" fill="#a6c8c8"/>
<rect x="926.70" y="859.46" width="18.50" height="8.39" fill="#c0d9d9"/>
<rect x="944.90" y="859.46" width="18.50" height="8.39" fill="#e6efef"/>
<rect x="963.10" y="859.46" width="18.50" height="8.39" fill="#9c1cf0"/>
<rect x="890.30" y="867.55" width="18.50" height="8.39" fill="#c0d9d9"/>
<rect x="908.50" y="867.55" width="18.50" height="8.39" fill="#c0d9d9"/>
<rect x="926.70" y="867.55" width="18.50" height="8.39" fill="#9c1cf0"/>
<rect x="944.90" y="867.55" width="18.50" height="8.39" fill="#c0d9d9"/>
<rect x="963.10" y="867.55" width="18.50" height="8.39" fill="#a6c8c8"/>
<rect x="890.30" y="875.64" width="18.50" height="8.39" fill="#9c1cf0"/>
<rect x="908.50" y="875.64" width="18.50" height="8.39" fill="#4a9292"/>
<rect x="926.70" y="875.64" width="18.50" height="8.39" fill="#e6efef"/>
<rect x="944.90" y="875.64" width="18.50" height="8.39" fill="#e6efef"/>
<rect x="963.10" y="875.64" width="18.50" height="8.39" fill="#f3e4fd"/>
<rect x="890.30" y="883.73" width="18.50" height="8.39" fill="#a6c8c8"/>
<rect x="908.50" y="883.73" width="18.50" height="8.39" fill="#c0d9d9"/>
<rect x="926.70" y="883.73" width="18.50" height="8.39" fill="#9c1cf0"/>
<rect x="944.90" y="883.73" width="18.50" height="8.39" fill="#e6efef"/>
<rect x="963.10" y="883.73" width="18.50" height="8.39" fill="#a6c8c8"/>
<rect x="890.30" y="891.82" width="18.50" height="8.39" fill="#80b1b1"/>
<rect x="908.50" y="891.82" width="18.50" height="8.39" fill="#fdfdfd"/>
<rect x="926.70" y="891.82" width="18.50" height="8.39" fill="#9c1cf0"/>
<rect x="944.90" y="891.82" width="18.50" height="8.39" fill="#e6efef"/>
<rect x="963.10" y="891.82" width="18.50" height="8.39" fill="#a6c8c8"/>
<rect x="890.30" y="899.91" width="18.50" height="8.39" fill="#4a9292"/>
<rect x="908.50" y="899.91" width="18.50" height="8.39" fill="#80b1b1"/>
<rect x="926.70" y="899.91" width="18.50" height="8.39" fill="#c47ff6"/>
<rect x="944.90" y="899.91" width="18.50" height="8.39" fill="#e4c4fb"/>
<rect x="963.10" y="899.91" width="18.50" height="8.39" fill="#c47ff6"/>
<rect x="890.30" y="908.00" width="18.50" height="8.39" fill="#80b1b1"/>
<rect x="908.50" y="908.00" width="18.50" height="8.39" fill="#80b1b1"/>
<rect x="926.70" y="908.00" width="18.50" height="8.39" fill="#f3e4fd"/>
<rect x="944.90" y="908.00" width="18.50" height="8.39" fill="#9c1cf0"/>
<rect x="963.10" y="908.00" width="18.50" height="8.39" fill="#fdfdfd"/>
<rect x="890.30" y="916.10" width="18.50" height="8.39" fill="#c0d9d9"/>
<rect x="908.50" y="916.10" width="18.50" height="8.39" fill="#a6c8c8"/>
<rect x="926.70" y="916.10" width="18.50" height="8.39" fill="#a6c8c8"/>
<rect x="944.90" y="916.10" width="18.50" height="8.39" fill="#9c1cf0"/>
<rect x="963.10" y="916.10" width="18.50" height="8.39" fill="#c0d9d9"/>
<rect x="890.30" y="924.19" width="18.50" height="8.39" fill="#c0d9d9"/>
<rect x="908.50" y="924.19" width="18.50" height="8.39" fill="#c0d9d9"/>
<rect x="926.70" y="924.19" width="18.50" height="8.39" fill="#c0d9d9"/>
<rect x="944.90" y="924.19" width="18.50" height="8.39" fill="#c0d9d9"/>
<rect x="963.10" y="924.19" width="18.50" height="8.39" fill="#9c1cf0"/>
<rect x="890.30" y="932.28" width="18.50" height="8.39" fill="#4a9292"/>
<rect x="908.50" y="932.28" width="18.50" height="8.39" fill="#fdfdfd"/>
<rect x="926.70" y="932.28" width="18.50" height="8.39" fill="#a6c8c8"/>
<rect x="944.90" y="932.28" width="18.50" height="8.39" fill="#b050f4"/>
<rect x="963.10" y="932.28" width="18.50" height="8.39" fill="#c47ff6"/>
<rect x="890.30" y="940.37" width="18.50" height="8.39" fill="#9c1cf0"/>
<rect x="908.50" y="940.37" width="18.50" height="8.39" fill="#c0d9d9"/>
<rect x="926.70" y="940.37" width="18.50" height="8.39" fill="#c0d9d9"/>
<rect x="944.90" y="940.37" width="18.50" height="8.39" fill="#c0d9d9"/>
<rect x="963.10" y="940.37" width="18.50" height="8.39" fill="#c0d9d9"/>
<rect x="890.30" y="948.46" width="18.50" height="8.39" fill="#9c1cf0"/>
<rect x="908.50" y="948.46" width="18.50" height="8.39" fill="#c0d9d9"/>
<rect x="926.70" y="948.46" width="18.50" height="8.39" fill="#c0d9d9"/>
<rect x="944.90" y="948.46" width="18.50" height="8.39" fill="#c0d9d9"/>
<rect x="963.10" y="948.46" width="18.50" height="8.39" fill="#c0d9d9"/>
<rect x="890.30" y="956.55" width="18.50" height="8.39" fill="#c0d9d9"/>
<rect x="908.50" y="956.55" width="18.50" height="8.39" fill="#c0d9d9"/>
<rect x="926.70" y="956.55" width="18.50" height="8.39" fill="#c0d9d9"/>
<rect x="944.90" y="956.55" width="18.50" height="8.39" fill="#c0d9d9"/>
<rect x="963.10" y="956.55" width="18.50" height="8.39" fill="#9c1cf0"/>
<rect x="890.30" y="964.64" width="18.50" height="8.39" fill="#9c1cf0"/>
<rect x="908.50" y="964.64" width="18.50" height="8.39" fill="#c0d9d9"/>
<rect x="926.70" y="964.64" width="18.50" height="8.39" fill="#c0d9d9"/>
<rect x="944.90" y="964.64" width="18.50" height="8.39" fill="#c0d9d9"/>
<rect x="963.10" y="964.64" width="18.50" height="8.39" fill="#c0d9d9"/>
<rect x="890.30" y="972.73" width="18.50" height="8.39" fill="#b050f4"/>
<rect x="908.50" y="972.73" width="18.50" height="8.39" fill="#c0d9d9"/>
<rect x="926.70" y="972.73" width="18.50" height="8.39" fill="#a6c8c8"/>
<rect x="944.90" y="972.73" width="18.50" height="8.39" fill="#80b1b1"/>
<rect x="963.10" y="972.73" width="18.50" height="8.39" fill="#c47ff6"/>
<rect x="890.30" y="980.82" width="18.50" height="8.39" fill="#e4c4fb"/>
<rect x="908.50" y="980.82" width="18.50" height="8.39" fill="#9c1cf0"/>
<rect x="926.70" y="980.82" width="18.50" height="8.39" fill="#a6c8c8"/>
<rect x="944.90" y="980.82" width="18.50" height="8.39" fill="#a6c8c8"/>
<rect x="963.10" y="980.82" width="18.50" height="8.39" fill="#a6c8c8"/>
<rect x="890.30" y="988.91" width="18.50" height="8.39" fill="#c0d9d9"/>
<rect x="908.50" y="988.91" width="18.50" height="8.39" fill="#9c1cf0"/>
<rect x="926.70" y="988.91" width="18.50" height="8.39" fill="#c0d9d9"/>
<rect x="944.90" y="988.91" width="18.50" height="8.39" fill="#c0d9d9"/>
<rect x="963.10" y="988.91" width="18.50" height="8.39" fill="#c0d9d9"/>
</g>
<path d="M890.3 835.19H981.3M890.3 843.28H981.3M890.3 851.37H981.3M890.3 859.46H981.3M890.3 867.55H981.3M890.3 875.64H981.3M890.3 883.73H981.3M890.3 891.82H981.3M890.3 899.91H981.3M890.3 908.00H981.3M890.3 916.10H981.3M890.3 924.19H981.3M890.3 932.28H981.3M890.3 940.37H981.3M890.3 948.46H981.3M890.3 956.55H981.3M890.3 964.64H981.3M890.3 972.73H981.3M890.3 980.82H981.3M890.3 988.91H981.3M908.50 827.1V997.0M926.70 827.1V997.0M944.90 827.1V997.0M963.10 827.1V997.0" stroke="#fff" stroke-opacity=".45" stroke-width=".7" fill="none"/>
<rect x="890.3" y="827.1" width="91.0" height="169.9" fill="none" stroke="#777" stroke-width="1"/>
<g font-size="9.6" font-weight="bold" font-style="italic" stroke="#000" stroke-width=".3">
<text transform="translate(829.2 834.3) rotate(0.03)" textLength="57.5">La03G01767</text>
<text transform="translate(829.2 842.4) rotate(0.03)" textLength="57.5">La03G01771</text>
<text transform="translate(829.2 850.5) rotate(0.03)" textLength="57.5">La05G02156</text>
<text transform="translate(829.2 858.6) rotate(0.03)" textLength="57.5">La07G00050</text>
<text transform="translate(829.2 866.7) rotate(0.03)" textLength="57.5">La09G00507</text>
<text transform="translate(829.2 874.8) rotate(0.03)" textLength="57.5">La13G01092</text>
<text transform="translate(829.2 882.9) rotate(0.03)" textLength="57.5">La17G00056</text>
<text transform="translate(829.2 891.0) rotate(0.03)" textLength="57.5">La19G01159</text>
<text transform="translate(829.2 899.1) rotate(0.03)" textLength="57.5">La22G00234</text>
<text transform="translate(829.2 907.2) rotate(0.03)" textLength="57.5">La23G00302</text>
<text transform="translate(829.2 915.2) rotate(0.03)" textLength="57.5">La27G00227</text>
<text transform="translate(829.2 923.3) rotate(0.03)" textLength="57.5">La21G00868</text>
<text transform="translate(829.2 931.4) rotate(0.03)" textLength="57.5">La00G02617</text>
<text transform="translate(829.2 939.5) rotate(0.03)" textLength="57.5">La09G00607</text>
<text transform="translate(829.2 947.6) rotate(0.03)" textLength="57.5">La09G00804</text>
<text transform="translate(829.2 955.7) rotate(0.03)" textLength="57.5">La09G00807</text>
<text transform="translate(829.2 963.8) rotate(0.03)" textLength="57.5">La21G00965</text>
<text transform="translate(829.2 971.9) rotate(0.03)" textLength="57.5">La26G02027</text>
<text transform="translate(829.2 980.0) rotate(0.03)" textLength="57.5">La27G00124</text>
<text transform="translate(829.2 988.1) rotate(0.03)" textLength="57.5">La03G00938</text>
<text transform="translate(829.2 996.2) rotate(0.03)" textLength="57.5">La16G00597</text>
</g>
<rect x="0.5" y="0.5" width="1970" height="1051" fill="none" stroke="#a6a6a6" stroke-width="1"/>
<g fill="#4d4d4d">
<rect x="0.9" y="1.1" width="1969.1" height="3"/>
<rect x="0.9" y="1047.6" width="1969.1" height="3.1"/>
<rect x="0.9" y="1.1" width="2.9" height="1049.5"/>
<rect x="1966.9" y="1.1" width="3.1" height="1049.5"/>
<rect x="1052.2" y="1.1" width="4.9" height="1049.5"/>
<rect x="1386" y="1.1" width="2.7" height="882"/>
<rect x="1055" y="287.6" width="332" height="2.5"/>
<rect x="1055" y="579.8" width="332" height="2.4"/>
<rect x="1055" y="881.8" width="913" height="2.3"/>
</g>
</svg></body></html>
